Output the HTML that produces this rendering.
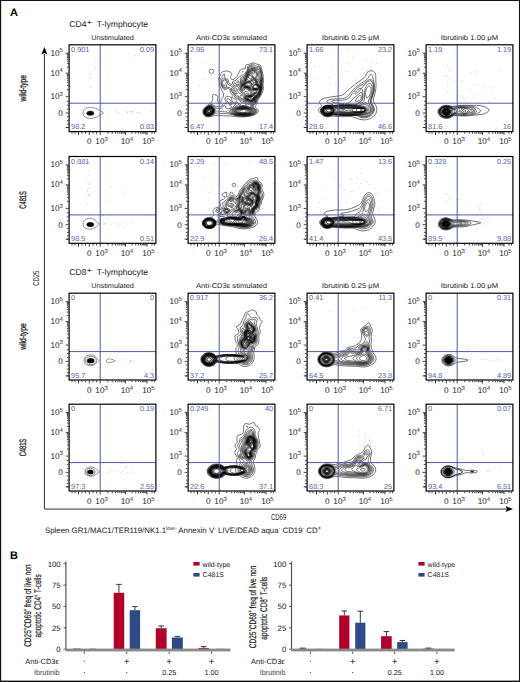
<!DOCTYPE html><html><head><meta charset="utf-8"><style>html,body{margin:0;padding:0;background:#fff;width:520px;height:682px;overflow:hidden}svg{display:block;text-rendering:geometricPrecision}</style></head><body><svg width="520" height="682" viewBox="0 0 520 682"><rect x="0" y="0" width="520" height="682" fill="#fff"/><rect x="0" y="0" width="1.15" height="682" fill="#111"/><rect x="0" y="0" width="520" height="1.0" fill="#111"/><rect x="518.95" y="0" width="1.05" height="682" fill="#111"/><rect x="0" y="680.6" width="520" height="1.4" fill="#111"/><text x="9.9" y="16.4" font-family="Liberation Sans" font-size="11" font-weight="bold" fill="#000">A</text><text x="10.1" y="559.3" font-family="Liberation Sans" font-size="11" font-weight="bold" fill="#000">B</text><text x="69.2" y="27.0" font-family="Liberation Sans" font-size="8.5" fill="#1a1a1a" textLength="17.3" lengthAdjust="spacingAndGlyphs">CD4</text><text x="87.0" y="24.6" font-family="Liberation Sans" font-size="8" fill="#1a1a1a">+</text><text x="96.8" y="27.0" font-family="Liberation Sans" font-size="8.5" fill="#1a1a1a" textLength="51.3" lengthAdjust="spacingAndGlyphs">T-lymphocyte</text><text x="69.2" y="275.0" font-family="Liberation Sans" font-size="8.5" fill="#1a1a1a" textLength="17.3" lengthAdjust="spacingAndGlyphs">CD8</text><text x="87.0" y="272.6" font-family="Liberation Sans" font-size="8" fill="#1a1a1a">+</text><text x="96.8" y="275.0" font-family="Liberation Sans" font-size="8.5" fill="#1a1a1a" textLength="51.3" lengthAdjust="spacingAndGlyphs">T-lymphocyte</text><text x="91.2" y="39.6" font-family="Liberation Sans" font-size="7" fill="#1a1a1a" textLength="42.6" lengthAdjust="spacingAndGlyphs">Unstimulated</text><text x="196" y="39.6" font-family="Liberation Sans" font-size="7" fill="#1a1a1a" textLength="71" lengthAdjust="spacingAndGlyphs">Anti-CD3ε stimulated</text><text x="321.85" y="39.6" font-family="Liberation Sans" font-size="7" fill="#1a1a1a" textLength="57.3" lengthAdjust="spacingAndGlyphs">Ibrutinib 0.25 μM</text><text x="440.85" y="39.6" font-family="Liberation Sans" font-size="7" fill="#1a1a1a" textLength="57.3" lengthAdjust="spacingAndGlyphs">Ibrutinib 1.00 μM</text><clipPath id="cp00"><rect x="0.6" y="0.6" width="86.8" height="86.8"/></clipPath><g transform="translate(68.5,44.2)"><g clip-path="url(#cp00)"><ellipse cx="21.8" cy="69.0" rx="3.9" ry="2.5" fill="#555"/><ellipse cx="21.8" cy="69.0" rx="3.3" ry="2.0" fill="#000"/><path d="M34.9,68.7 C29.095,64.3 25.225,63.2 22,63.2 C16.45,63.2 14.6,65.675 14.6,68.7 C14.6,71.72500000000001 16.45,74.2 22,74.2 C25.225,74.2 29.095,73.10000000000001 34.9,68.7 Z" fill="none" stroke="#222" stroke-width="0.5"/><circle cx="26.4" cy="18.8" r="0.4" fill="#999"/><circle cx="22.3" cy="33.0" r="0.4" fill="#999"/><circle cx="21.5" cy="29.4" r="0.4" fill="#999"/><circle cx="24.4" cy="23.4" r="0.4" fill="#999"/><circle cx="20.7" cy="31.6" r="0.4" fill="#999"/><circle cx="26.5" cy="24.8" r="0.4" fill="#999"/><circle cx="23.2" cy="43.2" r="0.4" fill="#999"/><circle cx="22.6" cy="25.9" r="0.4" fill="#999"/><circle cx="30.0" cy="17.8" r="0.4" fill="#999"/><circle cx="26.0" cy="14.0" r="0.4" fill="#999"/><circle cx="22.5" cy="42.0" r="0.4" fill="#999"/><circle cx="27.1" cy="22.8" r="0.4" fill="#999"/><circle cx="22.9" cy="30.6" r="0.4" fill="#999"/><circle cx="20.9" cy="34.4" r="0.4" fill="#999"/><circle cx="83.2" cy="67.4" r="0.4" fill="#999"/><circle cx="24.3" cy="68.7" r="0.4" fill="#999"/><circle cx="50.3" cy="69.9" r="0.4" fill="#999"/><circle cx="49.8" cy="68.5" r="0.4" fill="#999"/><circle cx="49.3" cy="67.7" r="0.4" fill="#999"/><circle cx="61.4" cy="67.4" r="0.4" fill="#999"/><circle cx="68.3" cy="68.5" r="0.4" fill="#999"/><circle cx="59.1" cy="68.1" r="0.4" fill="#999"/><circle cx="39.1" cy="69.9" r="0.4" fill="#999"/><circle cx="58.6" cy="69.5" r="0.4" fill="#999"/><circle cx="54.6" cy="70.6" r="0.4" fill="#999"/><circle cx="57.0" cy="67.7" r="0.4" fill="#999"/><circle cx="62.8" cy="68.8" r="0.4" fill="#999"/><circle cx="19.5" cy="68.4" r="0.4" fill="#999"/><circle cx="65.7" cy="69.1" r="0.4" fill="#999"/><circle cx="47.2" cy="67.5" r="0.4" fill="#999"/><circle cx="58.9" cy="67.6" r="0.4" fill="#999"/><circle cx="70.5" cy="68.3" r="0.4" fill="#999"/><circle cx="62.6" cy="67.1" r="0.4" fill="#999"/><circle cx="63.5" cy="67.2" r="0.4" fill="#999"/><circle cx="64.1" cy="67.4" r="0.4" fill="#999"/><circle cx="71.9" cy="68.9" r="0.4" fill="#999"/><circle cx="61.1" cy="66.6" r="0.4" fill="#999"/><circle cx="39.9" cy="30.9" r="0.4" fill="#999"/><circle cx="65.4" cy="17.5" r="0.4" fill="#999"/><circle cx="66.8" cy="11.1" r="0.4" fill="#999"/></g><line x1="31.7" y1="0.5" x2="31.7" y2="87.5" stroke="#4a5aa8" stroke-width="1"/><line x1="0.5" y1="59" x2="87.5" y2="59" stroke="#4a5aa8" stroke-width="1"/><rect x="0.6" y="0.6" width="86.8" height="86.8" fill="none" stroke="#000" stroke-width="1.2"/><path d="M0,9h-2.8M0,29h-2.8M0,52.5h-2.8M0,68.8h-2.8M0,83.3h-2.8M0,22.98h-1.6M0,19.46h-1.6M0,16.96h-1.6M0,15.02h-1.6M0,13.44h-1.6M0,12.1h-1.6M0,10.94h-1.6M0,9.92h-1.6M0,45.43h-1.6M0,41.29h-1.6M0,38.35h-1.6M0,36.07h-1.6M0,34.21h-1.6M0,32.64h-1.6M0,31.28h-1.6M0,30.08h-1.6M0,57h-1.6M0,61h-1.6M0,65h-1.6M0,72.5h-1.6M0,76.5h-1.6M0,80h-1.6M0,83.3h-1.6M20.8,88.0v2.8M31.7,88.0v2.8M57,88.0v2.8M78.5,88.0v2.8M10,88.0v2.8M39.32,88.0v1.6M43.77,88.0v1.6M46.93,88.0v1.6M49.38,88.0v1.6M51.39,88.0v1.6M53.08,88.0v1.6M54.55,88.0v1.6M55.84,88.0v1.6M63.47,88.0v1.6M67.26,88.0v1.6M69.94,88.0v1.6M72.03,88.0v1.6M73.73,88.0v1.6M75.17,88.0v1.6M76.42,88.0v1.6M77.52,88.0v1.6M24.5,88.0v1.6M28,88.0v1.6M17,88.0v1.6M13.5,88.0v1.6M10,88.0v1.6M6.5,88.0v1.6M3.5,88.0v1.6M83.5,88.0v1.6M86,88.0v1.6" stroke="#111" stroke-width="0.8" fill="none"/><text x="2.6" y="7.8" font-family="Liberation Sans" font-size="7.3" fill="#5565b0">0.901</text><text x="85.6" y="7.8" font-family="Liberation Sans" font-size="7.3" fill="#5565b0" text-anchor="end">0.09</text><text x="2.6" y="85.3" font-family="Liberation Sans" font-size="7.3" fill="#5565b0">98.2</text><text x="85.6" y="85.3" font-family="Liberation Sans" font-size="7.3" fill="#5565b0" text-anchor="end">0.83</text><text x="-9.0" y="11.6" font-family="Liberation Sans" font-size="8.2" fill="#1a1a1a" text-anchor="end">10</text><text x="-8.9" y="8.3" font-family="Liberation Sans" font-size="6" fill="#1a1a1a">5</text><text x="-9.0" y="31.6" font-family="Liberation Sans" font-size="8.2" fill="#1a1a1a" text-anchor="end">10</text><text x="-8.9" y="28.3" font-family="Liberation Sans" font-size="6" fill="#1a1a1a">4</text><text x="-9.0" y="55.1" font-family="Liberation Sans" font-size="8.2" fill="#1a1a1a" text-anchor="end">10</text><text x="-8.9" y="51.8" font-family="Liberation Sans" font-size="6" fill="#1a1a1a">3</text><text x="-5.8" y="71.7" font-family="Liberation Sans" font-size="8.2" fill="#1a1a1a" text-anchor="end">0</text><text x="20.8" y="100.3" font-family="Liberation Sans" font-size="8.2" fill="#1a1a1a" text-anchor="middle">0</text><text x="31.4" y="100.3" font-family="Liberation Sans" font-size="8.2" fill="#1a1a1a" text-anchor="middle">10</text><text x="36" y="97.1" font-family="Liberation Sans" font-size="6" fill="#1a1a1a">3</text><text x="56.7" y="100.3" font-family="Liberation Sans" font-size="8.2" fill="#1a1a1a" text-anchor="middle">10</text><text x="61.3" y="97.1" font-family="Liberation Sans" font-size="6" fill="#1a1a1a">4</text><text x="78.2" y="100.3" font-family="Liberation Sans" font-size="8.2" fill="#1a1a1a" text-anchor="middle">10</text><text x="82.8" y="97.1" font-family="Liberation Sans" font-size="6" fill="#1a1a1a">5</text></g><clipPath id="cp01"><rect x="0.6" y="0.6" width="86.8" height="86.8"/></clipPath><g transform="translate(187.5,44.2)"><g clip-path="url(#cp01)"><path transform="scale(0.1)" d="M645 188l10 -2 10 2 25 10 25 5 13 8 6 9 4 12 18 78 4 55 -5 40 4 33 -8 42 -22 42 -22 33 -5 10 -6 25 -16 25 -3 7 3 8 18 18 8 12 2 8 -1 7 -7 13 -18 13 -30 13 -34 8 -48 5 -60 0 -80 -9 -70 -2 -65 -5 -25 2 -42 11 -23 3 -23 -5 -14 -10 -10 -12 -4 -15 0 -17 4 -16 8 -12 12 -13 53 -39 12 -13 6 -13 4 -14 0 -16 -4 -20 3 -6 8 -2 25 4 13 7 4 7 3 10 0 8 -6 18 2 10 12 24 5 7 7 2 5 -6 4 -13 1 -27 4 -7 16 -18 5 -12 1 -13 -4 -20 -18 -33 -18 -40 -2 -12 0 -25 -7 -23 4 -17 18 -43 5 -7 9 -7 10 -5 32 -6 12 2 26 11 11 8 3 7 -1 10 -11 20 -1 7 3 11 5 7 5 3 10 0 13 -3 12 -8 23 -29 23 -48 7 -10 6 -5 9 -3 27 0 6 -2 4 -7 -1 -23 4 -9 7 -3 26 -2 27 -13zM649 200l6 -1 7 3 16 14 7 4 25 -4 8 2 6 7 10 27 11 50 5 48 -3 48 1 42 -12 48 -13 30 -28 39 -12 35 -8 10 -17 16 -2 4 2 6 24 20 9 12 2 8 0 7 -8 13 -20 13 -27 10 -36 7 -34 3 -38 -1 -38 -4 -87 -21 -55 -1 -45 -5 -15 1 -12 3 -38 20 -25 7 -23 -1 -12 -5 -8 -5 -8 -11 -4 -13 0 -15 4 -15 8 -13 10 -10 16 -11 22 -12 12 -5 13 -1 37 17 43 7 7 -2 8 -4 12 -21 8 -7 10 -1 23 6 0 -8 -17 -30 -3 -10 5 -16 4 -7 6 -4 10 -2 12 1 12 4 16 9 7 30 7 11 8 6 8 1 7 -1 15 -7 5 -5 0 -8 -8 -10 -37 -15 -5 -5 3 -20 -1 -7 -15 -21 -10 -30 -5 -9 -5 -3 -7 -1 -7 2 -20 12 -10 1 -13 -13 -17 -25 -5 -18 3 -30 -5 -25 4 -8 14 -17 9 -18 7 -3 8 3 1 6 -3 20 7 12 7 5 17 7 6 4 3 9 0 17 4 9 15 10 12 2 6 -5 3 -18 5 -8 6 -3 23 -6 13 -21 22 -14 18 -19 7 -3 15 1 8 -5 27 -42 4 -12 1 -20 3 -6 5 -3 41 -19zM554 270l4 3 -3 3 -3 0 -1 -4 3 -2zM500 370l-6 5 1 7 5 6 10 -1 6 -7 -1 -8 -5 -3 -10 1zM641 215l9 -2 5 0 18 15 12 5 7 1 18 -8 5 1 5 5 12 30 8 43 5 47 -2 40 1 50 -16 56 -10 20 -28 37 -13 35 -9 11 -23 17 -2 4 2 6 26 17 11 13 3 7 0 7 -6 13 -9 7 -12 8 -36 11 -40 6 -47 0 -35 -3 -32 -8 -73 -28 -50 -3 -43 -8 -14 5 -36 30 -22 12 -15 4 -15 0 -15 -4 -10 -7 -9 -12 -4 -13 1 -14 6 -16 9 -12 14 -12 18 -10 15 -5 13 -2 10 3 15 8 25 18 10 4 32 -3 12 -4 9 -7 9 -18 8 -3 7 5 6 18 9 10 10 3 10 0 10 -3 10 -5 8 -7 1 -8 -20 -14 -10 -23 -15 -23 0 -12 4 -4 4 -3 8 1 9 6 31 39 10 7 8 0 22 -8 12 -1 16 6 13 15 9 5 28 2 10 -2 4 -3 0 -10 -7 -10 -7 -3 -18 -1 -8 -3 -30 -25 -17 -18 -23 -12 -4 -8 -5 -23 -24 -27 -10 -28 -4 -7 -10 -5 -10 -1 -25 12 -12 0 -10 -7 -12 -16 -5 -13 0 -13 5 -20 1 -22 3 -6 8 -3 7 2 30 19 4 8 -1 20 2 8 38 21 10 0 7 -4 6 -10 5 -15 4 -3 22 14 13 2 10 -2 9 -9 5 -12 1 -12 -3 -20 4 -10 11 -11 20 -3 8 -6 30 -53 11 -35 9 -7 21 -8zM631 228l14 -3 10 2 25 13 10 4 8 -1 12 -5 8 4 6 10 4 13 14 87 -2 38 1 52 -18 60 -8 16 -27 33 -12 31 -4 8 -12 11 -30 19 0 2 4 6 26 15 12 9 7 13 -1 10 -9 13 -17 10 -24 9 -33 6 -35 2 -35 -1 -33 -5 -27 -7 -17 -8 -17 -9 -12 -10 -5 -10 2 -5 4 -5 46 -33 6 -14 7 -8 11 -4 10 1 7 3 17 15 18 4 43 -1 10 -3 2 -5 -7 -20 -6 -8 -9 -4 -23 -7 -30 -16 -8 -7 -14 -19 -18 -11 -16 -30 -22 -26 -4 -10 0 -12 3 -5 15 -9 17 -16 7 -1 28 4 8 -3 4 -4 8 -11 5 -13 6 -37 7 -7 17 -6 10 -10 30 -57 11 -27 6 -7 9 -3zM359 358l6 -3 7 2 10 6 6 7 1 8 -7 17 11 23 -6 10 -9 5 -10 0 -8 -6 -8 -9 -5 -13 1 -13 11 -34zM423 583l2 -3 5 2 9 8 5 10 -3 5 -6 1 -7 -4 -5 -9 0 -10zM220 618l10 -2 10 1 10 4 12 8 8 9 6 10 2 10 -1 7 -6 13 -7 10 -22 18 -12 6 -12 4 -13 0 -13 -2 -14 -8 -10 -11 -4 -15 2 -15 7 -15 12 -14 15 -10 20 -8zM632 238l13 -2 13 1 30 15 10 2 12 0 5 2 3 4 3 10 1 22 6 30 9 33 -2 35 3 48 -3 17 -16 50 -8 13 -26 30 -17 37 -8 8 -15 10 -13 4 -10 1 -7 -1 -6 -5 -12 -20 -7 -6 -22 -10 -20 -11 -18 -6 -8 -5 -15 -25 -17 -11 -6 -6 -13 -22 -17 -20 -2 -10 6 -10 22 -17 8 -2 6 1 16 10 8 -7 17 -25 18 -48 27 -28 40 -77 5 -6 7 -3zM362 402l6 3 4 6 2 7 -2 2 -4 0 -6 -5 -2 -7 2 -6zM508 445l-6 8 -2 9 1 8 4 7 13 12 12 9 12 5 8 -1 3 -4 -3 -8 -22 -15 -7 -10 -9 -18 -2 -3 -2 1zM494 615l38 8 68 0 15 3 33 15 13 9 10 12 0 13 -10 13 -16 9 -25 8 -28 5 -30 2 -32 -1 -30 -4 -25 -6 -19 -9 -14 -8 -8 -9 -3 -10 3 -7 10 -10 50 -33zM224 620l8 0 10 2 10 6 9 7 5 7 4 10 1 10 -3 10 -12 20 -18 14 -13 6 -13 2 -12 0 -10 -3 -12 -8 -8 -11 -4 -14 3 -16 8 -14 13 -13 15 -9 19 -6zM645 242l10 1 10 3 23 14 17 7 5 5 1 26 4 22 15 25 3 10 -2 35 4 50 -2 12 -12 40 -9 18 -30 35 -16 33 -5 7 -19 12 -15 3 -11 -5 -13 -17 -5 -6 -28 -12 -20 -16 -16 -4 -7 -5 -4 -10 2 -8 7 -3 16 3 7 -1 8 -6 4 -10 -2 -8 -6 -10 -21 -11 -8 -7 -5 -12 -2 -12 3 -12 38 -76 21 -27 18 -37 18 -30 9 -11 15 -5zM479 438l7 0 3 4 -4 32 -3 1 -10 -9 -7 -11 1 -5 3 -5 10 -7zM488 485l2 -2 2 2 6 9 -6 -1 -4 -8zM227 622l18 5 15 13 5 8 2 10 -3 17 -12 17 -20 15 -22 6 -20 -4 -12 -8 -7 -11 -3 -15 4 -15 10 -15 13 -11 15 -8 17 -4zM494 628l11 -2 83 2 22 2 28 11 15 9 9 10 3 12 -6 10 -14 10 -20 9 -23 5 -27 3 -30 0 -27 -2 -26 -5 -20 -7 -15 -7 -11 -10 -4 -10 3 -10 10 -10 25 -15 14 -5zM637 250l13 -2 12 3 30 19 6 8 7 52 3 5 14 10 7 13 -3 32 6 50 -2 12 -12 40 -8 16 -30 34 -20 36 -15 10 -13 4 -10 -3 -22 -21 -28 -13 -11 -13 -4 -10 2 -4 12 -16 4 -7 1 -7 -4 -20 3 -5 10 -2 10 1 5 4 10 17 10 7 8 -1 4 -6 1 -8 -3 -7 -8 -7 -17 -10 -12 -13 -8 -4 -7 0 -6 4 -10 19 -7 1 -10 -2 -7 -4 -5 -4 -4 -16 5 -17 17 -35 14 -20 8 -22 17 -24 16 -34 16 -27 8 -9 7 -4zM222 625l10 0 10 3 15 12 4 8 3 10 -3 17 -11 17 -18 13 -20 6 -20 -3 -10 -6 -8 -10 -4 -12 2 -15 6 -13 12 -12 18 -11 14 -4zM497 632l13 -1 62 -1 33 3 27 11 16 8 9 10 1 10 -6 10 -12 9 -18 7 -22 6 -25 2 -25 1 -25 -2 -25 -4 -20 -7 -15 -7 -10 -9 -4 -10 3 -10 8 -8 18 -11 17 -7zM640 255l12 -2 10 3 16 12 11 12 4 12 2 18 0 10 -5 15 1 5 7 7 20 5 5 8 -1 9 -4 21 7 25 4 25 -2 12 -8 20 -5 20 -6 13 -28 33 -23 34 -12 9 -13 3 -10 -4 -17 -15 -28 -13 -8 -10 -2 -10 23 -38 5 0 15 11 8 3 7 0 8 -3 5 -5 4 -8 1 -7 -2 -7 -10 -10 -39 -28 -10 -3 -10 2 -7 5 -10 13 -7 2 -5 -2 -5 -5 -3 -12 3 -12 14 -30 18 -26 8 -24 16 -23 16 -33 12 -20 10 -12 8 -5zM218 628l17 0 16 10 10 14 0 18 -9 18 -14 13 -20 8 -20 -1 -13 -5 -9 -11 -4 -12 1 -12 5 -13 11 -13 13 -9 16 -5zM516 635l56 -2 30 4 26 9 14 9 7 7 1 10 -6 10 -11 8 -18 7 -20 4 -25 3 -25 0 -23 -2 -22 -5 -19 -7 -12 -8 -7 -7 -2 -10 6 -10 16 -12 16 -6 18 -2zM641 260l11 -2 10 4 11 8 8 12 6 18 1 10 -1 8 -7 12 -1 8 4 7 7 6 23 11 1 8 -7 12 0 8 13 21 6 29 -1 10 -9 20 -4 20 -5 12 -29 34 -23 32 -10 7 -10 3 -10 -2 -18 -14 -27 -12 -7 -10 0 -8 2 -4 10 -13 10 -7 25 5 14 -3 11 -10 10 -18 3 -2 14 1 8 -2 8 -7 0 -6 -6 -4 -10 0 -10 3 -10 5 -4 0 -26 -14 -20 -16 -14 -6 -18 1 -8 4 -10 9 -4 2 -6 -3 -1 -7 1 -10 13 -30 21 -28 6 -24 15 -20 28 -52 7 -10 9 -6zM214 630l8 -2 10 1 16 7 10 14 2 18 -8 17 -14 14 -18 8 -18 1 -12 -4 -11 -9 -6 -13 0 -12 5 -12 10 -13 12 -9 14 -6zM537 638l41 -2 27 5 21 9 12 7 5 8 1 7 -8 10 -11 8 -17 6 -20 4 -23 2 -25 -1 -22 -3 -20 -5 -18 -8 -9 -7 -4 -8 3 -10 10 -10 15 -8 15 -3 27 -1zM647 262l8 1 8 5 6 7 2 7 -1 6 -15 3 -7 5 -4 6 1 8 7 10 16 10 11 18 23 20 -3 22 19 24 4 16 2 12 -4 13 -8 15 -2 20 -6 12 -26 31 -23 31 -10 8 -13 3 -7 -3 -18 -12 -25 -12 -6 -10 3 -10 9 -10 7 -5 27 3 14 -4 7 -5 17 -18 20 -5 11 -6 5 -8 0 -5 -7 -5 -9 -2 -32 3 -8 -2 -15 -6 -23 -16 -12 -5 -20 0 -20 8 -3 -5 3 -15 8 -20 22 -28 2 -17 3 -7 14 -18 16 -30 17 -28 8 -7 7 -3zM218 630l17 1 15 9 8 15 0 15 -9 18 -14 12 -17 7 -20 -1 -10 -4 -10 -10 -4 -12 1 -12 5 -13 10 -11 15 -10 13 -4zM536 640l36 -2 28 4 19 8 12 8 6 7 1 7 -5 8 -11 8 -14 5 -20 5 -43 1 -20 -2 -21 -5 -16 -7 -11 -7 -4 -8 3 -10 9 -9 13 -6 14 -3 24 -2zM644 270l8 -1 6 6 -3 5 -15 8 -5 4 0 10 3 10 8 10 16 13 31 30 3 7 -3 16 1 4 17 18 7 12 3 16 -1 10 -5 9 -7 5 -23 -7 -50 -3 -40 -21 -15 -3 -20 1 -5 -4 1 -13 5 -12 19 -20 5 -8 2 -17 3 -7 10 -13 15 -26 17 -19 6 -13 6 -7zM697 480l5 -2 4 4 0 8 -4 10 -29 35 -17 25 -11 9 -10 2 -7 -1 -20 -13 -20 -9 -5 -6 -2 -4 1 -8 10 -11 8 -2 22 2 10 -2 13 -7 17 -15 20 -7 15 -8zM212 632l18 -1 15 7 7 7 4 7 1 16 -5 14 -14 15 -18 8 -18 1 -12 -4 -9 -7 -5 -10 -1 -13 4 -12 6 -10 13 -10 14 -8zM539 642l33 -1 26 4 17 7 11 8 4 5 1 7 -5 8 -8 6 -16 6 -17 3 -40 2 -20 -2 -19 -5 -16 -8 -8 -7 -2 -7 3 -8 8 -8 11 -5 37 -5zM620 313l5 -3 5 3 12 14 18 13 29 28 2 7 -2 13 1 4 20 20 6 16 1 17 -2 6 -5 4 -5 1 -40 -4 -33 -7 -34 -16 -33 -5 -5 -4 0 -8 3 -10 5 -7 20 -20 4 -7 1 -13 5 -7 3 0 2 12 7 5 15 2 5 -1 3 -4 1 -7 -4 -8 -7 -5 -13 -4 2 -14 8 -11zM693 488l8 0 1 4 -3 8 -44 57 -10 9 -10 3 -10 -3 -33 -19 -7 -7 -1 -5 2 -5 9 -8 7 -1 20 1 10 -2 13 -6 20 -16 28 -10zM216 632l16 1 14 7 9 12 1 16 -5 14 -13 14 -18 8 -18 1 -12 -4 -9 -9 -5 -10 0 -12 5 -12 9 -12 12 -9 14 -5zM541 645l29 -2 25 4 24 13 4 5 1 7 -5 8 -8 5 -14 5 -17 3 -38 1 -32 -6 -12 -6 -9 -7 -2 -7 3 -8 5 -5 10 -5 36 -5zM637 338l5 -1 13 6 23 16 7 8 2 8 -3 13 1 4 21 20 7 13 2 15 -5 10 -8 2 -37 -3 -23 -10 -17 -1 -25 -10 -30 -6 -6 -4 -1 -8 5 -10 30 -27 7 -2 25 1 8 -3 3 -11 -4 -20zM682 498l8 -2 2 2 -2 7 -35 49 -13 11 -10 1 -7 -2 -30 -19 -5 -5 0 -8 8 -6 34 -4 16 -7 20 -13 14 -4zM222 632l16 3 12 10 6 15 -3 15 -9 15 -14 10 -15 5 -17 -1 -12 -6 -7 -10 -3 -10 2 -13 7 -13 10 -9 13 -7 14 -4zM546 648l24 -2 22 4 20 12 3 6 1 4 -4 6 -10 6 -24 7 -36 0 -29 -6 -10 -5 -8 -8 0 -7 3 -5 14 -8 34 -4zM651 352l4 -1 7 3 10 6 8 8 2 7 -5 15 0 2 23 18 7 8 5 17 -2 7 -2 4 -13 2 -27 -1 -15 -7 -11 -15 -12 7 -8 1 -27 -9 -20 -5 -7 -4 0 -7 4 -8 26 -22 12 -3 25 4 7 -1 9 -26zM652 390l-4 5 2 10 5 -2 7 -8 -2 -4 -8 -1zM668 508l7 -2 5 2 -2 7 -25 37 -11 10 -7 2 -10 -3 -29 -21 -1 -5 5 -5 38 -7 30 -15zM213 635l15 -1 15 6 10 12 1 16 -5 14 -14 14 -17 7 -16 1 -10 -4 -9 -8 -5 -10 0 -12 3 -10 9 -11 10 -8 13 -6zM559 650l13 0 10 2 8 3 10 7 3 6 0 4 -4 6 -8 4 -26 5 -27 -1 -22 -6 -8 -5 -3 -5 2 -8 8 -4 44 -8zM655 360l7 -1 11 6 5 7 -3 9 -7 3 -13 -5 -3 -9 3 -10zM601 380l9 -2 10 1 12 3 7 6 3 10 -1 12 -5 10 -7 8 -7 1 -7 -1 -37 -11 -6 -5 -1 -4 4 -8 26 -20zM668 400l7 -2 7 3 13 7 7 7 7 15 -1 8 -2 4 -11 4 -20 1 -13 -3 -7 -6 -5 -10 1 -10 7 -10 10 -8zM663 515l5 -1 3 1 -2 7 -17 29 -12 10 -8 1 -7 -3 -24 -19 0 -5 4 -3 30 -6 28 -11zM216 635l16 1 13 7 8 12 0 15 -7 15 -11 10 -15 7 -18 1 -10 -3 -8 -8 -5 -10 0 -12 5 -12 8 -10 13 -9 11 -4zM558 655l17 0 12 7 3 6 -1 4 -9 7 -18 3 -20 -1 -14 -3 -9 -8 3 -5 5 -3 31 -7zM604 382l8 -1 10 2 8 3 5 6 2 8 -1 10 -4 8 -7 6 -7 1 -8 -1 -26 -9 -7 -5 0 -5 6 -7 12 -11 9 -5zM668 405l12 -2 18 10 5 7 2 8 0 7 -3 5 -10 4 -14 1 -10 -2 -9 -5 -4 -8 0 -10 4 -8 9 -7zM649 525l9 0 2 3 -1 4 -9 18 -10 8 -8 1 -7 -3 -15 -14 -1 -4 3 -3 37 -10zM210 638l15 -3 15 5 9 10 4 15 -5 15 -10 12 -16 9 -14 2 -10 -2 -11 -6 -6 -10 -2 -10 3 -13 6 -10 10 -8 12 -6zM607 390l12 0 4 2 4 6 0 10 -7 8 -12 0 -9 -4 -6 -4 0 -6 3 -4 11 -8zM670 412l10 -2 11 5 7 10 0 5 -3 5 -5 3 -10 2 -8 -1 -6 -4 -4 -5 0 -8 8 -10zM631 538l7 -2 6 2 1 4 -3 6 -7 3 -7 -3 -3 -6 6 -4zM210 640l15 -2 13 4 9 10 3 13 -3 13 -9 12 -13 8 -15 3 -10 -2 -10 -5 -7 -9 -2 -10 2 -10 6 -10 9 -8 12 -7zM220 642l12 3 9 7 4 10 -2 13 -7 10 -11 8 -13 3 -12 -1 -8 -5 -4 -7 -2 -8 2 -10 4 -8 8 -7 10 -5 10 -3zM209 648l13 -3 10 3 7 7 3 10 -2 10 -7 10 -11 7 -10 2 -10 -1 -7 -5 -4 -6 -2 -7 1 -7 4 -8 6 -7 9 -5zM218 650l10 2 7 6 2 7 -1 7 -4 8 -10 7 -10 3 -7 -1 -6 -4 -4 -5 0 -12 4 -8 6 -5 13 -5zM211 655l7 -2 7 1 5 4 4 7 -1 7 -3 6 -8 6 -7 2 -7 0 -6 -3 -5 -8 3 -11 11 -9zM216 655l6 0 6 3 3 4 1 8 -7 11 -7 3 -8 1 -9 -5 -2 -10 6 -10 11 -5zM211 662l9 -1 5 3 0 8 -5 6 -8 2 -6 -5 0 -7 5 -6z" fill="none" stroke="#000" stroke-width="5.5" stroke-linejoin="round"/><circle cx="45.5" cy="52.4" r="0.4" fill="#999"/><circle cx="30.8" cy="25.8" r="0.4" fill="#999"/><circle cx="16.9" cy="35.4" r="0.4" fill="#999"/><circle cx="17.7" cy="17.8" r="0.4" fill="#999"/><circle cx="32.4" cy="36.6" r="0.4" fill="#999"/><circle cx="36.6" cy="24.0" r="0.4" fill="#999"/><circle cx="30.1" cy="34.2" r="0.4" fill="#999"/><circle cx="11.9" cy="41.5" r="0.4" fill="#999"/><circle cx="33.8" cy="63.7" r="0.4" fill="#999"/><circle cx="32.4" cy="33.3" r="0.4" fill="#999"/><circle cx="44.8" cy="37.4" r="0.4" fill="#999"/><circle cx="40.9" cy="30.6" r="0.4" fill="#999"/><g transform="translate(-2.5,-4.3) scale(0.182692)"><ellipse cx="145" cy="172" rx="13" ry="12" fill="none" stroke="#000" stroke-width="2.6"/></g></g><line x1="31.7" y1="0.5" x2="31.7" y2="87.5" stroke="#4a5aa8" stroke-width="1"/><line x1="0.5" y1="59" x2="87.5" y2="59" stroke="#4a5aa8" stroke-width="1"/><rect x="0.6" y="0.6" width="86.8" height="86.8" fill="none" stroke="#000" stroke-width="1.2"/><path d="M0,9h-2.8M0,29h-2.8M0,52.5h-2.8M0,68.8h-2.8M0,83.3h-2.8M0,22.98h-1.6M0,19.46h-1.6M0,16.96h-1.6M0,15.02h-1.6M0,13.44h-1.6M0,12.1h-1.6M0,10.94h-1.6M0,9.92h-1.6M0,45.43h-1.6M0,41.29h-1.6M0,38.35h-1.6M0,36.07h-1.6M0,34.21h-1.6M0,32.64h-1.6M0,31.28h-1.6M0,30.08h-1.6M0,57h-1.6M0,61h-1.6M0,65h-1.6M0,72.5h-1.6M0,76.5h-1.6M0,80h-1.6M0,83.3h-1.6M20.8,88.0v2.8M31.7,88.0v2.8M57,88.0v2.8M78.5,88.0v2.8M10,88.0v2.8M39.32,88.0v1.6M43.77,88.0v1.6M46.93,88.0v1.6M49.38,88.0v1.6M51.39,88.0v1.6M53.08,88.0v1.6M54.55,88.0v1.6M55.84,88.0v1.6M63.47,88.0v1.6M67.26,88.0v1.6M69.94,88.0v1.6M72.03,88.0v1.6M73.73,88.0v1.6M75.17,88.0v1.6M76.42,88.0v1.6M77.52,88.0v1.6M24.5,88.0v1.6M28,88.0v1.6M17,88.0v1.6M13.5,88.0v1.6M10,88.0v1.6M6.5,88.0v1.6M3.5,88.0v1.6M83.5,88.0v1.6M86,88.0v1.6" stroke="#111" stroke-width="0.8" fill="none"/><text x="2.6" y="7.8" font-family="Liberation Sans" font-size="7.3" fill="#5565b0">2.95</text><text x="85.6" y="7.8" font-family="Liberation Sans" font-size="7.3" fill="#5565b0" text-anchor="end">73.1</text><text x="2.6" y="85.3" font-family="Liberation Sans" font-size="7.3" fill="#5565b0">6.47</text><text x="85.6" y="85.3" font-family="Liberation Sans" font-size="7.3" fill="#5565b0" text-anchor="end">17.4</text><text x="-9.0" y="11.6" font-family="Liberation Sans" font-size="8.2" fill="#1a1a1a" text-anchor="end">10</text><text x="-8.9" y="8.3" font-family="Liberation Sans" font-size="6" fill="#1a1a1a">5</text><text x="-9.0" y="31.6" font-family="Liberation Sans" font-size="8.2" fill="#1a1a1a" text-anchor="end">10</text><text x="-8.9" y="28.3" font-family="Liberation Sans" font-size="6" fill="#1a1a1a">4</text><text x="-9.0" y="55.1" font-family="Liberation Sans" font-size="8.2" fill="#1a1a1a" text-anchor="end">10</text><text x="-8.9" y="51.8" font-family="Liberation Sans" font-size="6" fill="#1a1a1a">3</text><text x="-5.8" y="71.7" font-family="Liberation Sans" font-size="8.2" fill="#1a1a1a" text-anchor="end">0</text><text x="20.8" y="100.3" font-family="Liberation Sans" font-size="8.2" fill="#1a1a1a" text-anchor="middle">0</text><text x="31.4" y="100.3" font-family="Liberation Sans" font-size="8.2" fill="#1a1a1a" text-anchor="middle">10</text><text x="36" y="97.1" font-family="Liberation Sans" font-size="6" fill="#1a1a1a">3</text><text x="56.7" y="100.3" font-family="Liberation Sans" font-size="8.2" fill="#1a1a1a" text-anchor="middle">10</text><text x="61.3" y="97.1" font-family="Liberation Sans" font-size="6" fill="#1a1a1a">4</text><text x="78.2" y="100.3" font-family="Liberation Sans" font-size="8.2" fill="#1a1a1a" text-anchor="middle">10</text><text x="82.8" y="97.1" font-family="Liberation Sans" font-size="6" fill="#1a1a1a">5</text></g><clipPath id="cp02"><rect x="0.6" y="0.6" width="86.8" height="86.8"/></clipPath><g transform="translate(306.5,44.2)"><g clip-path="url(#cp02)"><path transform="scale(0.1)" d="M637 265l21 1 10 4 10 7 10 15 5 23 0 37 3 56 -2 34 -6 36 -18 64 -2 18 4 18 17 24 9 20 5 20 1 18 -4 18 -10 20 -11 14 -16 16 -18 11 -23 10 -22 6 -25 2 -20 -2 -23 -4 -64 -23 -20 -4 -123 0 -63 -5 -37 7 -23 0 -22 -5 -20 -10 -12 -11 -24 -28 -6 -10 2 -10 5 -7 22 -20 5 -7 -1 -6 -15 -20 -5 -10 1 -12 8 -10 22 -13 36 -11 42 -8 92 -12 18 -5 14 -6 17 -13 55 -50 46 -38 95 -69 11 -13 14 -30 8 -11 12 -11 15 -5zM638 302l7 -1 5 2 8 12 18 70 4 37 -1 28 -5 30 -23 72 -2 18 3 17 21 41 6 20 1 12 -4 12 -7 13 -11 16 -13 12 -17 11 -18 7 -20 4 -18 1 -27 -4 -37 -15 -23 -4 -123 1 -97 -7 -37 11 -28 1 -15 -3 -13 -5 -11 -9 -10 -10 -10 -17 -2 -10 0 -7 7 -16 16 -16 18 -10 15 -5 20 -2 35 2 14 -3 2 -3 -36 -11 -18 -9 -6 -5 -2 -5 1 -5 4 -5 16 -8 25 -7 35 -3 75 -3 20 -5 18 -8 16 -13 42 -50 39 -39 33 -25 54 -35 24 -19 13 -15 12 -25 7 -8zM535 512l-14 10 -18 20 -11 18 -2 8 0 4 8 2 20 -6 15 -8 8 -7 6 -15 1 -16 -5 -10 -8 0zM631 352l9 -1 8 3 12 15 10 28 4 33 -2 28 -5 27 -8 27 -16 43 -3 17 4 18 15 28 10 24 2 10 0 10 -3 10 -8 12 -12 15 -13 11 -13 7 -14 6 -28 5 -25 -3 -33 -11 -20 -3 -140 1 -92 -7 -12 1 -30 10 -20 2 -16 -2 -14 -5 -16 -10 -10 -11 -9 -20 -1 -8 2 -10 5 -10 9 -9 22 -14 15 -5 15 -2 47 3 120 -17 -35 -6 -67 -7 -21 -7 -2 -3 1 -5 9 -5 23 -4 65 0 22 -2 23 -6 20 -9 17 -14 34 -50 36 -38 25 -20 41 -24 44 -35 19 -11zM540 484l-68 56 -38 38 -22 12 -26 8 55 7 47 0 12 -5 15 -12 23 -16 10 -8 5 -9 5 -13 1 -14 -1 -23 -3 -15 -5 -7 -5 0 -5 1zM627 368l8 -2 7 1 8 5 6 8 10 25 3 30 -2 25 -5 28 -8 24 -17 43 -3 17 4 18 26 55 2 15 -3 10 -6 10 -15 16 -12 10 -22 11 -28 5 -20 -2 -28 -8 -22 -3 -140 2 -102 -8 -12 2 -26 10 -22 2 -18 -3 -15 -6 -12 -8 -9 -10 -7 -12 -3 -10 0 -10 4 -10 8 -10 9 -9 13 -8 14 -5 23 -3 40 4 65 -8 52 -4 110 3 16 -1 11 -5 40 -30 7 -7 5 -10 4 -13 1 -17 -4 -55 -4 -17 -8 -8 -2 1 -29 32 -19 14 -10 5 -5 -1 -1 -4 2 -7 13 -17 19 -17 17 -9 15 -1 44 -51 19 -15 14 -7zM622 395l13 -2 7 4 6 6 7 18 3 24 -2 25 -6 25 -10 25 -19 38 -3 14 4 18 29 52 4 10 0 8 -2 8 -6 10 -24 19 -23 10 -22 3 -66 -5 -144 3 -100 -8 -12 2 -26 10 -22 2 -18 -2 -12 -5 -14 -9 -10 -13 -5 -10 -1 -10 1 -10 5 -10 16 -16 10 -6 15 -5 20 -2 43 5 60 -8 62 -3 115 2 22 -2 13 -5 33 -25 8 -8 6 -10 3 -17 0 -63 5 -34 6 -18 8 -15 11 -12 12 -8zM620 420l8 -2 4 1 8 9 5 17 0 23 -5 22 -10 23 -12 17 -8 6 -5 0 -7 -6 -4 -12 -3 -20 2 -23 4 -20 5 -14 8 -12 10 -9zM582 585l13 -2 10 8 37 51 6 16 -4 12 -12 12 -20 12 -22 7 -22 2 -56 0 -124 3 -58 -2 -62 -6 -11 2 -29 11 -23 1 -17 -3 -18 -9 -13 -15 -6 -15 0 -15 9 -15 18 -13 20 -7 20 -2 42 5 60 -7 62 -4 103 3 30 -1 23 -4 44 -25zM577 602l13 0 12 6 30 32 8 15 -2 13 -11 12 -19 11 -23 6 -25 2 -165 5 -63 -2 -62 -6 -12 2 -30 11 -23 2 -20 -5 -15 -8 -11 -13 -6 -15 1 -15 9 -15 15 -11 22 -8 20 -1 40 5 58 -7 54 -4 146 3 30 -4 29 -11zM352 620l53 -1 95 4 80 0 18 5 15 10 11 12 2 10 -5 10 -13 10 -20 8 -26 4 -114 7 -56 1 -57 -2 -63 -7 -10 2 -37 13 -25 1 -15 -5 -12 -7 -9 -10 -6 -13 -1 -12 3 -10 8 -10 12 -9 12 -5 16 -3 17 1 40 6 87 -10zM343 625l65 -2 162 6 18 4 14 8 10 9 2 10 -6 10 -11 8 -17 6 -25 4 -115 7 -48 1 -57 -3 -60 -7 -10 2 -37 15 -13 2 -13 -1 -14 -4 -13 -7 -9 -11 -5 -10 -1 -10 2 -10 7 -10 11 -8 15 -6 15 -2 18 1 42 8 73 -10zM210 628l22 1 40 11 60 -10 46 -3 180 5 19 4 15 6 10 8 2 10 -4 8 -12 8 -18 6 -20 3 -115 6 -47 1 -53 -3 -57 -8 -46 18 -14 3 -13 1 -17 -5 -13 -8 -10 -12 -3 -16 4 -12 12 -12 14 -7 18 -3zM200 630l15 -1 17 1 46 16 52 -11 42 -4 180 4 18 3 15 4 10 8 3 8 -3 7 -9 7 -16 6 -20 4 -170 5 -55 -4 -43 -9 -7 3 -20 11 -17 8 -16 4 -14 1 -18 -3 -12 -8 -9 -10 -5 -12 2 -13 6 -11 13 -9 15 -5zM205 630l20 0 20 5 17 7 23 15 16 -9 27 -8 32 -4 30 -1 75 3 91 0 14 2 13 5 6 5 4 8 -1 4 -5 6 -14 7 -21 4 -24 2 -63 0 -67 2 -38 -1 -47 -7 -28 -12 -19 17 -16 10 -22 8 -20 2 -16 -3 -14 -8 -10 -11 -3 -13 3 -13 8 -10 14 -8 15 -4zM209 630l26 2 26 10 10 8 5 8 1 7 -3 5 -16 15 -16 8 -14 5 -23 2 -10 -2 -11 -6 -10 -7 -6 -10 -2 -10 1 -10 7 -10 8 -7 13 -5 14 -3zM353 640l37 -2 68 3 64 -3 28 0 15 2 14 5 7 5 4 8 -3 7 -9 6 -16 5 -17 3 -33 0 -67 -3 -83 1 -20 -2 -22 -5 -10 -5 -4 -5 4 -8 10 -4 33 -8zM215 630l25 4 24 11 11 13 0 7 -3 7 -7 8 -12 8 -28 10 -13 2 -12 -1 -20 -9 -7 -8 -6 -10 -1 -10 3 -10 8 -10 11 -6 12 -4 15 -2zM502 640l53 -1 16 3 11 6 5 4 1 6 -3 7 -13 8 -22 5 -32 0 -40 -3 -24 -5 -26 -11 -10 1 -36 8 -27 1 -21 -4 -5 -3 -3 -4 2 -6 10 -4 25 -6 35 0 40 5 64 -7zM197 632l13 -2 15 1 27 8 11 6 8 7 3 8 0 8 -5 7 -8 7 -26 13 -25 5 -21 -5 -11 -7 -7 -8 -4 -8 -1 -10 3 -10 6 -7 10 -8 12 -5zM510 640l32 -1 26 3 16 8 3 5 0 5 -3 5 -7 5 -12 4 -15 3 -40 1 -35 -6 -13 -4 -5 -6 -2 -7 3 -5 15 -5 37 -5zM363 648l17 -1 3 1 1 2 -14 5 -12 0 -6 -3 11 -4zM201 632l14 -1 15 1 15 5 12 5 9 8 4 8 0 7 -2 7 -6 8 -10 7 -24 10 -23 1 -20 -7 -10 -8 -5 -8 -2 -8 0 -9 4 -9 8 -7 10 -6 11 -4zM538 642l17 1 15 4 8 5 1 8 -7 8 -20 5 -22 1 -22 -4 -10 -8 -1 -4 1 -6 8 -4 8 -3 24 -3zM198 635l12 -2 15 0 25 8 9 7 6 7 1 10 -2 7 -12 13 -24 10 -23 1 -17 -6 -8 -5 -7 -7 -3 -9 0 -9 3 -8 6 -7 19 -10zM537 655l13 -2 7 2 2 3 -1 2 -6 2 -10 1 -6 -3 -1 -2 2 -3zM205 635l25 1 12 3 11 6 7 7 3 8 -1 10 -4 8 -16 10 -22 6 -20 -1 -18 -9 -6 -6 -3 -8 -1 -8 2 -7 11 -13 20 -7zM207 640l22 0 18 8 5 4 3 8 0 8 -3 7 -12 9 -18 4 -17 -1 -16 -7 -8 -10 -1 -5 1 -7 9 -11 17 -7zM209 640l21 1 10 3 8 5 5 6 2 7 -1 8 -4 6 -12 8 -18 4 -19 -3 -13 -7 -7 -10 0 -8 2 -5 11 -10 15 -5zM210 648l15 -2 14 4 8 10 0 5 -2 6 -7 7 -10 2 -13 -1 -13 -7 -5 -4 -2 -8 5 -8 10 -4zM216 648l13 0 11 4 6 10 -4 10 -7 5 -10 2 -10 -3 -11 -6 -4 -5 0 -7 5 -6 11 -4z" fill="none" stroke="#000" stroke-width="5.5" stroke-linejoin="round"/><circle cx="52.1" cy="37.1" r="0.4" fill="#999"/><circle cx="60.0" cy="15.4" r="0.4" fill="#999"/><circle cx="37.5" cy="24.5" r="0.4" fill="#999"/><circle cx="25.7" cy="23.2" r="0.4" fill="#999"/><circle cx="35.8" cy="31.0" r="0.4" fill="#999"/><circle cx="28.7" cy="40.9" r="0.4" fill="#999"/><circle cx="66.4" cy="29.5" r="0.4" fill="#999"/><circle cx="31.6" cy="38.8" r="0.4" fill="#999"/><circle cx="49.1" cy="35.7" r="0.4" fill="#999"/><circle cx="29.6" cy="37.7" r="0.4" fill="#999"/><circle cx="17.3" cy="55.2" r="0.4" fill="#999"/><circle cx="22.2" cy="32.1" r="0.4" fill="#999"/><circle cx="45.3" cy="38.1" r="0.4" fill="#999"/><circle cx="40.6" cy="41.8" r="0.4" fill="#999"/><circle cx="39.8" cy="27.1" r="0.4" fill="#999"/><circle cx="70.2" cy="19.5" r="0.4" fill="#999"/><circle cx="41.2" cy="4.7" r="0.4" fill="#999"/><circle cx="47.6" cy="10.4" r="0.4" fill="#999"/><circle cx="14.3" cy="66.3" r="0.4" fill="#999"/><circle cx="55.4" cy="33.0" r="0.4" fill="#999"/><circle cx="45.7" cy="12.8" r="0.4" fill="#999"/><circle cx="23.5" cy="39.1" r="0.4" fill="#999"/><circle cx="4.1" cy="37.0" r="0.4" fill="#999"/><circle cx="11.0" cy="34.9" r="0.4" fill="#999"/><circle cx="22.4" cy="58.0" r="0.4" fill="#999"/><circle cx="61.2" cy="25.8" r="0.4" fill="#999"/><circle cx="8.1" cy="22.0" r="0.4" fill="#999"/><circle cx="41.6" cy="19.1" r="0.4" fill="#999"/><circle cx="47.8" cy="47.2" r="0.4" fill="#999"/><circle cx="41.6" cy="27.0" r="0.4" fill="#999"/><circle cx="56.9" cy="29.0" r="0.4" fill="#999"/><circle cx="58.2" cy="28.6" r="0.4" fill="#999"/><circle cx="72.2" cy="29.2" r="0.4" fill="#999"/><circle cx="23.3" cy="34.5" r="0.4" fill="#999"/><circle cx="31.1" cy="19.8" r="0.4" fill="#999"/><circle cx="40.3" cy="43.8" r="0.4" fill="#999"/><circle cx="3.1" cy="32.6" r="0.4" fill="#999"/><circle cx="57.7" cy="27.8" r="0.4" fill="#999"/><circle cx="65.5" cy="18.4" r="0.4" fill="#999"/><circle cx="64.4" cy="27.1" r="0.4" fill="#999"/><circle cx="59.9" cy="27.2" r="0.4" fill="#999"/><circle cx="56.3" cy="24.8" r="0.4" fill="#999"/><circle cx="62.4" cy="46.2" r="0.4" fill="#999"/><circle cx="67.6" cy="36.0" r="0.4" fill="#999"/><circle cx="63.6" cy="25.2" r="0.4" fill="#999"/><circle cx="64.1" cy="46.0" r="0.4" fill="#999"/><circle cx="48.8" cy="35.9" r="0.4" fill="#999"/></g><line x1="31.7" y1="0.5" x2="31.7" y2="87.5" stroke="#4a5aa8" stroke-width="1"/><line x1="0.5" y1="59" x2="87.5" y2="59" stroke="#4a5aa8" stroke-width="1"/><rect x="0.6" y="0.6" width="86.8" height="86.8" fill="none" stroke="#000" stroke-width="1.2"/><path d="M0,9h-2.8M0,29h-2.8M0,52.5h-2.8M0,68.8h-2.8M0,83.3h-2.8M0,22.98h-1.6M0,19.46h-1.6M0,16.96h-1.6M0,15.02h-1.6M0,13.44h-1.6M0,12.1h-1.6M0,10.94h-1.6M0,9.92h-1.6M0,45.43h-1.6M0,41.29h-1.6M0,38.35h-1.6M0,36.07h-1.6M0,34.21h-1.6M0,32.64h-1.6M0,31.28h-1.6M0,30.08h-1.6M0,57h-1.6M0,61h-1.6M0,65h-1.6M0,72.5h-1.6M0,76.5h-1.6M0,80h-1.6M0,83.3h-1.6M20.8,88.0v2.8M31.7,88.0v2.8M57,88.0v2.8M78.5,88.0v2.8M10,88.0v2.8M39.32,88.0v1.6M43.77,88.0v1.6M46.93,88.0v1.6M49.38,88.0v1.6M51.39,88.0v1.6M53.08,88.0v1.6M54.55,88.0v1.6M55.84,88.0v1.6M63.47,88.0v1.6M67.26,88.0v1.6M69.94,88.0v1.6M72.03,88.0v1.6M73.73,88.0v1.6M75.17,88.0v1.6M76.42,88.0v1.6M77.52,88.0v1.6M24.5,88.0v1.6M28,88.0v1.6M17,88.0v1.6M13.5,88.0v1.6M10,88.0v1.6M6.5,88.0v1.6M3.5,88.0v1.6M83.5,88.0v1.6M86,88.0v1.6" stroke="#111" stroke-width="0.8" fill="none"/><text x="2.6" y="7.8" font-family="Liberation Sans" font-size="7.3" fill="#5565b0">1.66</text><text x="85.6" y="7.8" font-family="Liberation Sans" font-size="7.3" fill="#5565b0" text-anchor="end">23.2</text><text x="2.6" y="85.3" font-family="Liberation Sans" font-size="7.3" fill="#5565b0">28.6</text><text x="85.6" y="85.3" font-family="Liberation Sans" font-size="7.3" fill="#5565b0" text-anchor="end">46.6</text><text x="-9.0" y="11.6" font-family="Liberation Sans" font-size="8.2" fill="#1a1a1a" text-anchor="end">10</text><text x="-8.9" y="8.3" font-family="Liberation Sans" font-size="6" fill="#1a1a1a">5</text><text x="-9.0" y="31.6" font-family="Liberation Sans" font-size="8.2" fill="#1a1a1a" text-anchor="end">10</text><text x="-8.9" y="28.3" font-family="Liberation Sans" font-size="6" fill="#1a1a1a">4</text><text x="-9.0" y="55.1" font-family="Liberation Sans" font-size="8.2" fill="#1a1a1a" text-anchor="end">10</text><text x="-8.9" y="51.8" font-family="Liberation Sans" font-size="6" fill="#1a1a1a">3</text><text x="-5.8" y="71.7" font-family="Liberation Sans" font-size="8.2" fill="#1a1a1a" text-anchor="end">0</text><text x="20.8" y="100.3" font-family="Liberation Sans" font-size="8.2" fill="#1a1a1a" text-anchor="middle">0</text><text x="31.4" y="100.3" font-family="Liberation Sans" font-size="8.2" fill="#1a1a1a" text-anchor="middle">10</text><text x="36" y="97.1" font-family="Liberation Sans" font-size="6" fill="#1a1a1a">3</text><text x="56.7" y="100.3" font-family="Liberation Sans" font-size="8.2" fill="#1a1a1a" text-anchor="middle">10</text><text x="61.3" y="97.1" font-family="Liberation Sans" font-size="6" fill="#1a1a1a">4</text><text x="78.2" y="100.3" font-family="Liberation Sans" font-size="8.2" fill="#1a1a1a" text-anchor="middle">10</text><text x="82.8" y="97.1" font-family="Liberation Sans" font-size="6" fill="#1a1a1a">5</text></g><clipPath id="cp03"><rect x="0.6" y="0.6" width="86.8" height="86.8"/></clipPath><g transform="translate(425.5,44.2)"><g clip-path="url(#cp03)"><path transform="scale(0.1)" d="M187 612l15 -1 18 0 52 11 83 -11 180 1 38 8 26 10 31 16 5 5 1 7 -6 12 -25 19 -13 6 -19 5 -28 4 -145 14 -110 -4 -13 4 -25 14 -17 6 -20 3 -20 0 -27 -7 -23 -14 -9 -10 -6 -10 -6 -22 2 -20 12 -18 10 -9 14 -10 25 -9zM187 618l18 -3 17 1 53 13 77 -12 78 1 38 2 22 6 38 17 20 15 3 4 0 6 -5 7 -7 5 -32 15 -19 6 -93 12 -105 -5 -15 4 -25 15 -15 6 -20 4 -20 -1 -25 -7 -20 -12 -13 -17 -4 -10 -3 -12 3 -20 10 -16 22 -16 22 -8zM199 620l16 0 15 2 38 13 12 3 72 -15 108 6 20 6 15 10 11 13 2 12 -3 8 -7 7 -19 7 -39 4 -45 10 -77 -6 -26 1 -17 5 -30 18 -13 5 -19 3 -21 -1 -22 -7 -19 -14 -11 -18 -4 -20 5 -17 14 -17 20 -12 24 -6zM200 622l18 1 17 3 37 16 10 3 10 -1 50 -14 13 -1 100 9 17 4 12 8 8 10 1 10 -4 8 -9 5 -10 1 -28 0 -30 12 -14 3 -18 0 -42 -8 -40 3 -20 7 -33 20 -13 5 -20 4 -20 -1 -22 -8 -17 -13 -10 -18 -3 -20 6 -18 14 -14 20 -11 20 -5zM191 625l21 -2 20 3 18 7 28 15 12 3 55 -17 23 -1 55 9 27 9 18 3 10 5 3 9 -3 4 -6 1 -17 -7 -7 0 -36 24 -20 5 -22 -4 -28 -16 -10 -2 -16 9 -34 13 -47 29 -20 4 -20 0 -20 -6 -17 -12 -11 -15 -5 -20 2 -15 10 -15 18 -13 19 -7zM196 625l24 0 22 6 40 22 27 7 2 5 -1 7 -9 10 -66 41 -13 4 -14 1 -16 -1 -14 -5 -16 -10 -11 -12 -7 -15 -1 -17 7 -16 11 -12 19 -11 16 -4zM347 638l18 -1 53 12 9 6 2 5 -1 5 -9 13 -13 10 -14 3 -12 -3 -11 -6 -17 -14 -20 -16 -1 -2 3 -5 13 -7zM188 628l14 -3 16 1 14 2 13 5 16 9 27 20 6 8 0 8 -5 7 -13 10 -28 21 -16 7 -12 3 -15 1 -13 -1 -14 -5 -16 -9 -10 -12 -6 -15 -2 -15 4 -12 9 -13 15 -11 16 -6zM355 648l5 -3 5 1 31 14 7 5 -1 7 -7 6 -11 0 -27 -26 -2 -4zM197 630l25 0 20 7 18 13 13 18 2 12 -5 10 -19 18 -19 11 -22 4 -25 -4 -20 -11 -12 -18 -3 -10 0 -10 3 -10 4 -8 18 -15 22 -7zM196 635l19 -1 20 5 16 11 10 15 3 13 -4 12 -11 12 -17 11 -20 5 -22 -2 -18 -10 -12 -16 -4 -18 5 -14 14 -15 10 -5 11 -3zM191 640l14 -2 17 1 13 5 11 8 9 13 2 13 -4 12 -8 10 -17 11 -20 4 -20 -5 -16 -10 -5 -8 -5 -10 -1 -10 2 -7 10 -15 18 -10zM197 642l15 -1 16 4 12 7 8 10 4 13 -2 10 -6 10 -11 9 -18 6 -17 0 -16 -8 -12 -12 -4 -15 3 -13 11 -12 17 -8zM198 645l14 -1 16 4 10 7 7 10 3 10 -2 10 -6 10 -12 9 -16 4 -14 -1 -16 -8 -9 -11 -3 -16 4 -12 11 -10 13 -5zM200 645l15 0 13 3 10 7 8 13 1 10 -2 10 -9 10 -11 7 -15 3 -15 -2 -14 -8 -9 -13 -2 -13 5 -12 10 -10 15 -5zM204 648l14 0 11 4 8 8 6 10 0 10 -4 10 -9 9 -10 4 -15 2 -13 -4 -11 -9 -6 -10 -1 -12 5 -10 11 -9 14 -3zM204 648l14 0 11 4 8 8 5 10 1 10 -4 10 -9 8 -12 6 -16 0 -12 -4 -10 -9 -6 -11 1 -12 6 -10 9 -7 14 -3zM195 652l10 -2 10 1 10 3 8 6 5 8 2 10 -2 7 -6 7 -12 8 -12 2 -13 -3 -10 -7 -6 -10 -1 -12 5 -10 12 -8zM195 652l10 -2 10 1 10 3 8 6 5 8 1 10 -3 10 -6 6 -12 7 -13 1 -13 -4 -9 -8 -5 -10 1 -12 6 -10 10 -6zM197 655l18 -1 10 4 6 4 4 8 1 8 -2 7 -6 7 -10 6 -13 1 -11 -4 -9 -7 -4 -10 1 -10 6 -8 9 -5zM199 655l9 -1 10 1 7 4 7 6 3 7 0 8 -4 8 -6 6 -10 4 -13 0 -10 -5 -7 -7 -3 -8 1 -10 6 -8 10 -5zM199 658l16 -1 7 3 6 5 4 13 -2 7 -5 6 -7 4 -10 1 -10 -2 -9 -6 -4 -8 0 -10 5 -8 9 -4zM203 658l9 -1 8 3 7 5 3 5 0 12 -3 6 -7 5 -8 2 -10 -1 -8 -4 -7 -8 -1 -7 2 -7 7 -8 8 -2zM202 660l13 0 11 8 2 4 0 8 -2 5 -6 5 -8 3 -10 -1 -7 -4 -5 -5 -2 -8 2 -7 5 -5 7 -3zM198 662l12 -2 12 5 5 10 -3 10 -6 5 -8 2 -8 -1 -7 -4 -4 -5 -2 -7 3 -7 6 -6zM207 662l11 3 4 5 3 5 -1 5 -3 5 -11 5 -12 -4 -6 -8 0 -6 3 -4 5 -4 7 -2zM200 665l10 -2 10 5 4 7 -1 5 -3 5 -10 4 -8 -1 -5 -3 -3 -5 -1 -5 2 -6 5 -4zM202 668l8 -1 7 3 3 8 -3 4 -9 4 -8 -4 -3 -7 2 -5 3 -2zM204 668l8 0 6 3 1 7 -2 4 -9 3 -8 -3 -3 -4 1 -5 6 -5zM206 670l4 0 5 3 1 5 -4 3 -4 2 -6 -3 -1 -5 5 -5z" fill="none" stroke="#000" stroke-width="5.5" stroke-linejoin="round"/><circle cx="22.3" cy="47.5" r="0.4" fill="#999"/><circle cx="19.2" cy="44.9" r="0.4" fill="#999"/><circle cx="21.2" cy="32.4" r="0.4" fill="#999"/><circle cx="27.7" cy="36.6" r="0.4" fill="#999"/><circle cx="21.9" cy="42.3" r="0.4" fill="#999"/><circle cx="25.4" cy="34.7" r="0.4" fill="#999"/><circle cx="23.8" cy="25.3" r="0.4" fill="#999"/><circle cx="20.9" cy="30.6" r="0.4" fill="#999"/><circle cx="18.0" cy="19.9" r="0.4" fill="#999"/><circle cx="17.1" cy="32.6" r="0.4" fill="#999"/><circle cx="21.5" cy="31.8" r="0.4" fill="#999"/><circle cx="22.2" cy="21.6" r="0.4" fill="#999"/><circle cx="21.8" cy="37.4" r="0.4" fill="#999"/><circle cx="24.3" cy="26.5" r="0.4" fill="#999"/><circle cx="51.0" cy="28.9" r="0.4" fill="#999"/><circle cx="50.0" cy="27.4" r="0.4" fill="#999"/><circle cx="40.8" cy="53.8" r="0.4" fill="#999"/><circle cx="33.0" cy="51.4" r="0.4" fill="#999"/><circle cx="58.3" cy="42.5" r="0.4" fill="#999"/><circle cx="59.6" cy="49.2" r="0.4" fill="#999"/><circle cx="65.5" cy="43.2" r="0.4" fill="#999"/><circle cx="49.1" cy="40.2" r="0.4" fill="#999"/><circle cx="45.1" cy="44.6" r="0.4" fill="#999"/><circle cx="47.1" cy="53.5" r="0.4" fill="#999"/><circle cx="36.3" cy="36.3" r="0.4" fill="#999"/><circle cx="45.5" cy="28.3" r="0.4" fill="#999"/><circle cx="74.0" cy="25.7" r="0.4" fill="#999"/><circle cx="52.2" cy="40.8" r="0.4" fill="#999"/><circle cx="64.8" cy="49.0" r="0.4" fill="#999"/><circle cx="56.1" cy="52.8" r="0.4" fill="#999"/><circle cx="37.7" cy="53.0" r="0.4" fill="#999"/><circle cx="49.6" cy="51.6" r="0.4" fill="#999"/><circle cx="38.8" cy="56.1" r="0.4" fill="#999"/><circle cx="67.6" cy="47.8" r="0.4" fill="#999"/><circle cx="62.9" cy="57.8" r="0.4" fill="#999"/><circle cx="32.7" cy="55.9" r="0.4" fill="#999"/></g><line x1="31.7" y1="0.5" x2="31.7" y2="87.5" stroke="#4a5aa8" stroke-width="1"/><line x1="0.5" y1="59" x2="87.5" y2="59" stroke="#4a5aa8" stroke-width="1"/><rect x="0.6" y="0.6" width="86.8" height="86.8" fill="none" stroke="#000" stroke-width="1.2"/><path d="M0,9h-2.8M0,29h-2.8M0,52.5h-2.8M0,68.8h-2.8M0,83.3h-2.8M0,22.98h-1.6M0,19.46h-1.6M0,16.96h-1.6M0,15.02h-1.6M0,13.44h-1.6M0,12.1h-1.6M0,10.94h-1.6M0,9.92h-1.6M0,45.43h-1.6M0,41.29h-1.6M0,38.35h-1.6M0,36.07h-1.6M0,34.21h-1.6M0,32.64h-1.6M0,31.28h-1.6M0,30.08h-1.6M0,57h-1.6M0,61h-1.6M0,65h-1.6M0,72.5h-1.6M0,76.5h-1.6M0,80h-1.6M0,83.3h-1.6M20.8,88.0v2.8M31.7,88.0v2.8M57,88.0v2.8M78.5,88.0v2.8M10,88.0v2.8M39.32,88.0v1.6M43.77,88.0v1.6M46.93,88.0v1.6M49.38,88.0v1.6M51.39,88.0v1.6M53.08,88.0v1.6M54.55,88.0v1.6M55.84,88.0v1.6M63.47,88.0v1.6M67.26,88.0v1.6M69.94,88.0v1.6M72.03,88.0v1.6M73.73,88.0v1.6M75.17,88.0v1.6M76.42,88.0v1.6M77.52,88.0v1.6M24.5,88.0v1.6M28,88.0v1.6M17,88.0v1.6M13.5,88.0v1.6M10,88.0v1.6M6.5,88.0v1.6M3.5,88.0v1.6M83.5,88.0v1.6M86,88.0v1.6" stroke="#111" stroke-width="0.8" fill="none"/><text x="2.6" y="7.8" font-family="Liberation Sans" font-size="7.3" fill="#5565b0">1.19</text><text x="85.6" y="7.8" font-family="Liberation Sans" font-size="7.3" fill="#5565b0" text-anchor="end">1.19</text><text x="2.6" y="85.3" font-family="Liberation Sans" font-size="7.3" fill="#5565b0">81.6</text><text x="85.6" y="85.3" font-family="Liberation Sans" font-size="7.3" fill="#5565b0" text-anchor="end">16</text><text x="-9.0" y="11.6" font-family="Liberation Sans" font-size="8.2" fill="#1a1a1a" text-anchor="end">10</text><text x="-8.9" y="8.3" font-family="Liberation Sans" font-size="6" fill="#1a1a1a">5</text><text x="-9.0" y="31.6" font-family="Liberation Sans" font-size="8.2" fill="#1a1a1a" text-anchor="end">10</text><text x="-8.9" y="28.3" font-family="Liberation Sans" font-size="6" fill="#1a1a1a">4</text><text x="-9.0" y="55.1" font-family="Liberation Sans" font-size="8.2" fill="#1a1a1a" text-anchor="end">10</text><text x="-8.9" y="51.8" font-family="Liberation Sans" font-size="6" fill="#1a1a1a">3</text><text x="-5.8" y="71.7" font-family="Liberation Sans" font-size="8.2" fill="#1a1a1a" text-anchor="end">0</text><text x="20.8" y="100.3" font-family="Liberation Sans" font-size="8.2" fill="#1a1a1a" text-anchor="middle">0</text><text x="31.4" y="100.3" font-family="Liberation Sans" font-size="8.2" fill="#1a1a1a" text-anchor="middle">10</text><text x="36" y="97.1" font-family="Liberation Sans" font-size="6" fill="#1a1a1a">3</text><text x="56.7" y="100.3" font-family="Liberation Sans" font-size="8.2" fill="#1a1a1a" text-anchor="middle">10</text><text x="61.3" y="97.1" font-family="Liberation Sans" font-size="6" fill="#1a1a1a">4</text><text x="78.2" y="100.3" font-family="Liberation Sans" font-size="8.2" fill="#1a1a1a" text-anchor="middle">10</text><text x="82.8" y="97.1" font-family="Liberation Sans" font-size="6" fill="#1a1a1a">5</text></g><clipPath id="cp10"><rect x="0.6" y="0.6" width="86.8" height="86.8"/></clipPath><g transform="translate(68.5,155.9)"><g clip-path="url(#cp10)"><ellipse cx="21.8" cy="68.6" rx="3.9" ry="2.5" fill="#555"/><ellipse cx="21.8" cy="68.6" rx="3.3" ry="2.0" fill="#000"/><path d="M30.7,68.3 C26.785,63.58 24.175,62.4 22,62.4 C16.45,62.4 14.6,65.05499999999999 14.6,68.3 C14.6,71.05 16.45,73.3 22,73.3 C24.175,73.3 26.785,72.3 30.7,68.3 Z" fill="none" stroke="#222" stroke-width="0.5"/><circle cx="20.1" cy="39.6" r="0.4" fill="#999"/><circle cx="19.3" cy="38.5" r="0.4" fill="#999"/><circle cx="21.4" cy="39.1" r="0.4" fill="#999"/><circle cx="22.3" cy="26.1" r="0.4" fill="#999"/><circle cx="20.1" cy="27.9" r="0.4" fill="#999"/><circle cx="18.8" cy="33.2" r="0.4" fill="#999"/><circle cx="20.3" cy="39.2" r="0.4" fill="#999"/><circle cx="20.8" cy="57.3" r="0.4" fill="#999"/><circle cx="21.3" cy="19.1" r="0.4" fill="#999"/><circle cx="20.3" cy="28.8" r="0.4" fill="#999"/><circle cx="19.2" cy="48.1" r="0.4" fill="#999"/><circle cx="19.7" cy="15.5" r="0.4" fill="#999"/><circle cx="20.5" cy="32.1" r="0.4" fill="#999"/><circle cx="18.2" cy="25.8" r="0.4" fill="#999"/><circle cx="19.1" cy="34.8" r="0.4" fill="#999"/><circle cx="19.4" cy="35.7" r="0.4" fill="#999"/><circle cx="63.4" cy="67.2" r="0.4" fill="#999"/><circle cx="36.9" cy="67.8" r="0.4" fill="#999"/><circle cx="56.0" cy="67.3" r="0.4" fill="#999"/><circle cx="59.3" cy="66.7" r="0.4" fill="#999"/><circle cx="34.7" cy="67.9" r="0.4" fill="#999"/><circle cx="36.4" cy="67.4" r="0.4" fill="#999"/><circle cx="49.5" cy="68.7" r="0.4" fill="#999"/><circle cx="46.1" cy="67.7" r="0.4" fill="#999"/><circle cx="58.4" cy="68.4" r="0.4" fill="#999"/><circle cx="42.6" cy="69.2" r="0.4" fill="#999"/><circle cx="36.0" cy="68.2" r="0.4" fill="#999"/><circle cx="51.6" cy="68.0" r="0.4" fill="#999"/><circle cx="41.4" cy="45.3" r="0.4" fill="#999"/><circle cx="41.9" cy="31.1" r="0.4" fill="#999"/><circle cx="34.7" cy="59.6" r="0.4" fill="#999"/><circle cx="41.8" cy="57.3" r="0.4" fill="#999"/><circle cx="55.7" cy="36.1" r="0.4" fill="#999"/></g><line x1="31.7" y1="0.5" x2="31.7" y2="87.5" stroke="#4a5aa8" stroke-width="1"/><line x1="0.5" y1="59" x2="87.5" y2="59" stroke="#4a5aa8" stroke-width="1"/><rect x="0.6" y="0.6" width="86.8" height="86.8" fill="none" stroke="#000" stroke-width="1.2"/><path d="M0,9h-2.8M0,29h-2.8M0,52.5h-2.8M0,68.8h-2.8M0,83.3h-2.8M0,22.98h-1.6M0,19.46h-1.6M0,16.96h-1.6M0,15.02h-1.6M0,13.44h-1.6M0,12.1h-1.6M0,10.94h-1.6M0,9.92h-1.6M0,45.43h-1.6M0,41.29h-1.6M0,38.35h-1.6M0,36.07h-1.6M0,34.21h-1.6M0,32.64h-1.6M0,31.28h-1.6M0,30.08h-1.6M0,57h-1.6M0,61h-1.6M0,65h-1.6M0,72.5h-1.6M0,76.5h-1.6M0,80h-1.6M0,83.3h-1.6M20.8,88.0v2.8M31.7,88.0v2.8M57,88.0v2.8M78.5,88.0v2.8M10,88.0v2.8M39.32,88.0v1.6M43.77,88.0v1.6M46.93,88.0v1.6M49.38,88.0v1.6M51.39,88.0v1.6M53.08,88.0v1.6M54.55,88.0v1.6M55.84,88.0v1.6M63.47,88.0v1.6M67.26,88.0v1.6M69.94,88.0v1.6M72.03,88.0v1.6M73.73,88.0v1.6M75.17,88.0v1.6M76.42,88.0v1.6M77.52,88.0v1.6M24.5,88.0v1.6M28,88.0v1.6M17,88.0v1.6M13.5,88.0v1.6M10,88.0v1.6M6.5,88.0v1.6M3.5,88.0v1.6M83.5,88.0v1.6M86,88.0v1.6" stroke="#111" stroke-width="0.8" fill="none"/><text x="2.6" y="7.8" font-family="Liberation Sans" font-size="7.3" fill="#5565b0">0.881</text><text x="85.6" y="7.8" font-family="Liberation Sans" font-size="7.3" fill="#5565b0" text-anchor="end">0.14</text><text x="2.6" y="85.3" font-family="Liberation Sans" font-size="7.3" fill="#5565b0">98.5</text><text x="85.6" y="85.3" font-family="Liberation Sans" font-size="7.3" fill="#5565b0" text-anchor="end">0.51</text><text x="-9.0" y="11.6" font-family="Liberation Sans" font-size="8.2" fill="#1a1a1a" text-anchor="end">10</text><text x="-8.9" y="8.3" font-family="Liberation Sans" font-size="6" fill="#1a1a1a">5</text><text x="-9.0" y="31.6" font-family="Liberation Sans" font-size="8.2" fill="#1a1a1a" text-anchor="end">10</text><text x="-8.9" y="28.3" font-family="Liberation Sans" font-size="6" fill="#1a1a1a">4</text><text x="-9.0" y="55.1" font-family="Liberation Sans" font-size="8.2" fill="#1a1a1a" text-anchor="end">10</text><text x="-8.9" y="51.8" font-family="Liberation Sans" font-size="6" fill="#1a1a1a">3</text><text x="-5.8" y="71.7" font-family="Liberation Sans" font-size="8.2" fill="#1a1a1a" text-anchor="end">0</text><text x="20.8" y="100.3" font-family="Liberation Sans" font-size="8.2" fill="#1a1a1a" text-anchor="middle">0</text><text x="31.4" y="100.3" font-family="Liberation Sans" font-size="8.2" fill="#1a1a1a" text-anchor="middle">10</text><text x="36" y="97.1" font-family="Liberation Sans" font-size="6" fill="#1a1a1a">3</text><text x="56.7" y="100.3" font-family="Liberation Sans" font-size="8.2" fill="#1a1a1a" text-anchor="middle">10</text><text x="61.3" y="97.1" font-family="Liberation Sans" font-size="6" fill="#1a1a1a">4</text><text x="78.2" y="100.3" font-family="Liberation Sans" font-size="8.2" fill="#1a1a1a" text-anchor="middle">10</text><text x="82.8" y="97.1" font-family="Liberation Sans" font-size="6" fill="#1a1a1a">5</text></g><clipPath id="cp11"><rect x="0.6" y="0.6" width="86.8" height="86.8"/></clipPath><g transform="translate(187.5,155.9)"><g clip-path="url(#cp11)"><path transform="scale(0.1)" d="M684 218l8 -2 8 4 5 22 4 8 8 8 18 10 8 10 4 17 -4 25 0 10 4 12 15 28 2 15 -1 13 -5 20 -16 34 -4 26 -16 27 -4 25 -3 10 -7 9 -14 6 -6 6 -8 12 -5 15 -2 12 2 9 21 33 5 18 -3 18 -13 17 -20 14 -27 11 -31 7 -35 3 -27 -1 -27 -3 -76 -20 -87 -10 -55 -13 -5 1 -15 18 -12 11 -16 8 -20 5 -20 1 -20 -3 -17 -8 -14 -11 -10 -15 -4 -18 3 -17 10 -15 12 -11 18 -8 20 -5 30 -3 6 -3 12 -15 3 -7 0 -10 -6 -23 2 -10 6 -10 7 -8 10 -7 35 -8 8 -4 5 -6 3 -12 -8 -28 0 -10 9 -8 30 -11 9 -8 5 -10 -1 -5 -17 -7 -10 -8 -2 -7 5 -10 9 -6 12 -5 13 -2 7 1 3 4 -1 8 -8 27 2 3 10 0 12 -5 10 -9 4 -9 4 -18 4 -3 8 0 15 11 27 30 8 2 5 -1 8 -8 8 -28 10 -20 49 -65 42 -41 13 -10 13 -4 24 -5 22 -7zM672 242l8 -1 8 2 15 17 21 15 6 7 4 13 -4 25 1 15 17 43 3 14 -5 26 -15 32 -4 25 -14 25 -7 25 -6 6 -15 7 -7 7 -14 37 -11 23 0 7 20 28 7 15 -1 15 -7 15 -20 15 -27 12 -35 7 -35 0 -35 -4 -57 -15 -71 -6 -34 -6 -36 -10 -21 -13 -6 -7 -1 -6 4 -10 13 -17 0 -5 -7 -18 2 -7 8 -13 1 -7 -3 -5 -17 -4 -8 -6 -3 -5 -1 -7 4 -10 11 -8 32 -7 26 -15 3 -8 -9 -22 2 -10 20 -10 23 -26 47 -36 8 -2 8 3 14 19 8 5 10 2 11 -5 11 -15 17 -41 27 -42 25 -30 31 -30 10 -7 10 -3 23 -2 17 -6zM500 565l-18 6 -24 -3 -8 1 -3 3 -2 8 7 18 8 6 12 3 13 0 10 -4 17 -21 4 -7 0 -5 -4 -5 -4 -2 -8 2zM202 622l26 -2 22 4 20 12 19 19 1 5 -1 8 -5 20 -9 12 -13 11 -24 11 -16 2 -14 -1 -18 -4 -12 -6 -11 -8 -9 -10 -4 -10 -2 -13 2 -12 4 -10 8 -10 9 -7 13 -6 14 -5zM668 255l12 -2 8 2 28 23 8 10 2 10 -1 37 14 73 -3 14 -13 28 -3 25 -11 20 -8 23 -6 7 -15 8 -8 7 -16 42 -6 9 -17 17 1 7 21 18 11 19 2 16 -8 14 -15 14 -25 10 -28 6 -32 1 -30 -3 -53 -12 -75 -7 -32 -4 -32 -9 -21 -10 -7 -8 -2 -8 2 -7 5 -7 13 -8 30 -10 10 -5 5 -5 -3 -4 -8 -2 -27 4 -9 -3 -2 -7 7 -26 -3 -12 -8 -7 -20 -1 -3 -4 2 -6 9 -3 20 -2 47 -24 3 -8 -3 -17 1 -10 30 -43 10 -10 14 -10 12 -6 8 -2 8 4 12 15 8 5 12 0 12 -6 13 -15 16 -35 15 -23 12 -23 7 -9 17 -12 15 -20 13 -12 10 -7 22 -4 26 -10zM448 550l-10 4 -20 24 -18 12 -5 8 0 6 10 2 23 -3 30 8 22 3 18 -2 12 -5 14 -22 2 -7 0 -10 -6 -11 -5 -4 -7 -1 -20 7 -10 1 -30 -10zM201 625l21 -2 23 3 17 8 15 14 7 14 -1 16 -7 17 -11 12 -13 7 -12 5 -15 3 -15 0 -15 -3 -13 -5 -10 -7 -9 -9 -7 -13 -2 -10 2 -13 3 -10 8 -10 8 -7 13 -6 13 -4zM672 260l8 -1 10 4 22 17 7 10 3 12 -1 30 3 30 -4 28 1 8 7 12 1 8 -2 9 -10 25 -4 23 -16 40 -5 6 -16 9 -6 5 -5 10 -9 27 -8 13 -8 6 -23 12 -5 5 -1 2 3 5 28 18 13 15 4 10 0 7 -3 10 -5 7 -16 13 -23 8 -27 5 -27 1 -23 -3 -53 -11 -74 -6 -33 -4 -33 -9 -19 -11 -5 -5 -2 -8 3 -7 4 -5 12 -7 47 -16 48 -6 42 6 20 0 16 -2 10 -5 12 -23 2 -12 -2 -10 -5 -10 -10 -8 -10 -1 -17 6 -10 1 -10 -4 -18 -15 -8 -1 -4 3 -19 26 -11 10 -15 5 -28 2 -20 12 -3 -3 0 -33 3 -10 11 -13 32 -14 6 -6 -8 -20 1 -12 16 -25 9 -17 9 -10 14 -9 13 -3 7 3 15 20 5 2 13 -2 14 -8 13 -14 50 -87 7 -5 18 -5 12 -22 8 -8 25 -9 23 -15 14 -6zM570 437l0 5 2 2 3 -1 0 -3 -3 -4 -2 1zM209 625l21 0 20 4 16 11 12 15 4 15 -4 18 -11 14 -17 12 -12 4 -16 3 -24 -3 -23 -11 -10 -9 -6 -10 -3 -10 1 -13 3 -10 7 -10 8 -7 10 -6 24 -7zM668 265l12 -2 10 3 17 14 9 12 2 10 0 30 1 28 -6 30 2 9 7 16 1 7 -11 30 -4 23 -12 35 -6 9 -16 9 -7 7 -18 43 -7 6 -10 5 -34 8 -5 3 -3 5 1 5 5 5 36 18 14 12 5 10 1 7 -1 10 -5 8 -14 11 -20 8 -24 6 -28 0 -70 -11 -108 -10 -32 -8 -21 -11 -6 -7 -1 -6 1 -4 6 -8 11 -6 17 -4 28 -10 45 -7 45 6 25 0 18 -3 9 -6 8 -22 1 -10 -4 -16 -7 -14 -7 -5 -8 -2 -8 0 -17 6 -10 -1 -7 -6 -7 -15 -3 -4 -23 -5 -17 -10 -18 -8 -5 -8 1 -10 15 -18 4 -20 4 -7 11 -9 12 -4 8 2 5 4 5 10 3 22 12 16 5 1 2 -5 1 -14 3 -8 26 -23 43 -67 13 -24 7 -3 13 0 4 -2 6 -5 8 -18 6 -8 23 -10 20 -18 13 -7zM565 422l-4 6 -2 7 3 15 8 7 6 1 7 -2 3 -4 2 -4 -4 -13 -9 -12 -5 -2 -5 1zM391 525l17 2 10 4 4 4 1 10 -7 13 -11 9 -13 4 -14 -2 -17 -7 -4 -4 -1 -6 3 -12 11 -9 21 -6zM202 628l23 -3 20 4 15 8 13 13 7 15 -1 15 -7 15 -12 12 -12 7 -13 4 -13 1 -14 0 -13 -3 -13 -5 -10 -7 -7 -9 -5 -10 -2 -10 1 -13 4 -10 5 -7 10 -8 24 -9zM669 268l11 -2 10 3 16 13 8 13 2 13 0 50 -7 32 10 28 -1 12 -10 28 -5 22 -9 30 -6 8 -16 8 -6 6 -19 43 -7 7 -10 4 -32 -1 -13 8 -7 9 1 6 10 10 38 17 13 10 6 10 1 7 -2 10 -5 8 -13 10 -19 8 -23 4 -25 1 -66 -11 -106 -9 -30 -7 -26 -11 -6 -7 -1 -6 1 -4 6 -8 10 -5 18 -3 28 -11 42 -6 45 6 27 0 20 -3 11 -6 7 -22 0 -10 -5 -18 -7 -16 -8 -6 -12 -3 -23 5 -5 -1 -5 -3 -2 -6 1 -7 10 -25 13 -25 -1 -23 16 -20 18 -29 15 -15 25 -44 5 -3 15 4 5 -2 18 -35 7 -6 18 -6 19 -21 12 -7zM562 412l-4 10 -3 13 1 10 4 10 5 6 5 2 8 0 9 -3 6 -5 2 -5 -4 -12 -16 -23 -7 -4 -6 1zM435 427l7 0 6 1 5 10 -2 12 -9 6 -14 -1 -5 -3 -3 -4 1 -8 3 -5 11 -8zM439 475l9 -2 4 1 8 7 3 17 -2 4 -5 6 -8 2 -10 -1 -31 -19 -1 -5 4 -5 29 -5zM386 530l9 -1 10 2 7 4 5 5 0 5 -2 7 -10 10 -10 4 -10 0 -13 -5 -6 -6 -2 -7 2 -8 9 -7 11 -3zM206 628l22 -2 20 5 14 9 12 12 5 16 -2 14 -8 16 -14 11 -10 5 -15 4 -25 0 -13 -4 -12 -6 -16 -16 -4 -10 -2 -10 3 -12 5 -10 6 -8 10 -7 24 -7zM670 270l12 -1 13 6 14 15 4 15 -1 53 -6 30 10 37 -2 10 -11 27 -8 40 -7 13 -23 15 -15 35 -10 12 -8 3 -7 1 -20 -7 -7 0 -26 21 -5 7 21 20 34 15 13 10 5 8 2 7 -1 8 -5 8 -12 10 -16 7 -23 4 -23 1 -64 -9 -106 -9 -21 -4 -26 -9 -13 -6 -4 -5 -1 -8 2 -5 6 -6 13 -4 17 -2 25 -10 40 -6 50 6 35 -1 17 -4 11 -10 2 -5 -1 -21 -14 -38 -12 -9 -26 -4 -3 -3 2 -26 14 -27 2 -25 23 -42 8 -7 7 -2 5 2 3 7 -1 32 3 14 5 9 8 4 10 1 14 -5 9 -5 1 -8 -6 -12 -16 -25 -20 -23 -2 -8 2 -7 7 -12 8 -6 20 1 7 -3 3 -5 4 -25 6 -12 7 -6 18 -6 18 -23 12 -8zM435 432l7 1 4 5 -2 7 -6 3 -8 -1 -3 -5 3 -6 5 -4zM438 485l7 -1 5 4 2 7 -4 5 -8 1 -9 -6 0 -5 7 -5zM383 535l12 -1 11 4 5 7 -2 7 -7 7 -7 2 -10 0 -8 -3 -5 -6 -1 -7 4 -6 8 -4zM212 628l23 0 17 6 14 11 10 15 1 18 -6 14 -11 13 -18 9 -24 4 -26 -5 -20 -12 -10 -16 -2 -10 0 -10 4 -10 6 -9 18 -12 24 -6zM672 272l13 0 11 8 11 12 4 16 -3 47 -6 30 3 13 7 20 1 10 -14 34 -7 40 -7 12 -16 8 -7 7 -14 33 -10 11 -8 2 -8 -1 -20 -11 -4 -1 -6 3 -20 20 -7 4 -7 1 -6 -3 -4 -9 -16 -38 -7 -5 -21 -10 -6 -7 0 -16 13 -24 6 -36 13 -28 8 -7 4 0 6 8 0 23 2 12 5 14 5 6 10 3 35 -7 17 3 6 -2 0 -6 -16 -10 -16 -21 -24 -40 -2 -11 2 -5 6 -4 24 -3 11 -7 3 -8 -3 -22 5 -11 7 -6 15 -4 5 -3 13 -23 7 -7 7 -4zM384 540l8 -1 8 2 4 4 -1 5 -8 6 -11 -1 -3 -3 -3 -4 2 -6 4 -2zM549 608l11 -3 10 3 9 7 9 12 32 14 9 7 5 7 1 13 -5 10 -14 10 -21 7 -17 2 -20 0 -53 -7 -107 -10 -56 -13 -7 -5 -6 -7 2 -10 9 -7 10 -3 18 0 17 -8 17 -5 30 -3 48 6 40 -1 12 -3 17 -13zM203 630l19 -2 20 3 16 8 11 11 6 12 1 16 -4 12 -12 13 -10 7 -12 5 -13 2 -15 0 -12 -3 -13 -5 -17 -14 -5 -10 -2 -10 0 -10 4 -10 7 -10 8 -6 23 -9zM674 275l11 1 10 6 9 13 4 15 -2 28 -8 42 2 12 9 26 1 10 -15 37 -5 37 -8 10 -14 9 -8 7 -12 28 -10 12 -8 2 -8 -2 -7 -4 -13 -12 -4 -2 -6 3 -12 17 -8 8 -7 4 -7 -1 -8 -6 -5 -9 -10 -30 -25 -13 -7 -11 2 -12 12 -22 4 -28 6 -22 8 -12 2 -1 4 3 5 32 6 20 6 8 7 1 37 -6 23 5 10 -5 3 -8 -3 -8 -25 -16 -13 -16 -8 -17 -5 -23 4 -5 17 -4 23 -14 21 -7 1 -3 -5 -4 -15 -2 -6 -4 -4 -7 0 -7 3 -6 5 -3 14 -1 6 -3 4 -7 8 -23 8 -7 6 -3zM557 608l8 0 7 3 7 7 7 12 32 15 6 5 5 8 0 10 -6 10 -13 8 -18 6 -17 2 -17 0 -150 -15 -24 -4 -19 -6 -20 -2 -10 -6 -4 -6 -1 -5 2 -5 8 -6 12 -3 18 2 22 -10 18 -5 22 -2 48 6 48 -2 7 -2 13 -13 9 -2zM207 630l21 -1 17 4 15 9 11 13 4 13 -1 14 -9 15 -13 10 -12 6 -12 3 -26 -1 -22 -10 -14 -15 -4 -18 1 -10 5 -10 6 -7 8 -6 25 -9zM675 278l8 0 9 5 8 9 5 13 1 15 -4 18 -4 12 -8 6 -25 -7 -19 -17 0 -2 9 -15 7 -27 6 -7 7 -3zM654 362l14 -1 20 5 19 52 0 14 -14 33 -6 37 -5 8 -17 10 -6 5 -14 30 -7 8 -8 2 -8 -2 -7 -5 -10 -12 -7 -4 -8 5 -11 18 -7 8 -7 4 -7 -1 -8 -6 -5 -10 -6 -28 -24 -10 -4 -4 -3 -8 1 -10 12 -20 4 -27 5 -15 5 -7 3 5 14 54 3 0 17 -8 20 -4 13 0 17 4 13 -3 6 -9 -1 -12 -5 -7 -20 -11 -11 -10 -8 -15 -2 -15 4 -8 24 -21 10 -5 22 -4zM551 610l11 -1 10 4 7 7 5 12 27 13 7 5 5 8 1 10 -7 10 -13 7 -16 5 -33 1 -143 -13 -26 -6 -18 -6 -23 0 -10 -6 -4 -8 3 -7 8 -6 13 -2 17 4 26 -12 24 -6 18 0 42 5 50 -1 13 -14 6 -3zM213 630l19 0 18 6 14 12 8 12 2 15 -5 15 -11 12 -16 9 -22 5 -25 -4 -20 -12 -10 -15 -2 -10 1 -10 3 -10 5 -7 18 -12 23 -6zM677 280l8 1 7 6 8 11 3 10 0 12 -2 12 -6 9 -5 3 -12 0 -10 -2 -8 -6 -3 -6 6 -38 5 -7 9 -5zM648 368l17 0 17 9 10 12 12 26 1 15 -15 36 -5 36 -6 8 -21 12 -13 28 -7 9 -8 2 -8 -2 -17 -21 -7 -2 -6 1 -4 5 -16 26 -7 4 -7 0 -6 -4 -5 -8 -2 -18 4 -10 10 -12 3 -20 5 -10 11 -6 14 -2 10 0 18 4 10 -1 8 -3 5 -7 3 -10 -4 -10 -7 -8 -20 -11 -7 -6 -7 -10 -2 -12 4 -11 19 -21 10 -5 16 -3zM533 452l2 0 3 2 3 8 1 10 -2 16 4 22 -2 10 -4 3 -6 1 -7 -1 -7 -4 -5 -7 -1 -4 3 -10 12 -16 2 -22 4 -8zM554 610l8 0 10 4 7 8 3 13 26 13 9 10 1 10 -5 7 -12 7 -16 5 -35 1 -117 -10 -38 -7 -23 -9 -14 4 -10 -1 -11 -5 -4 -8 2 -7 10 -6 15 0 15 6 26 -15 21 -5 18 -1 40 6 52 -1 6 -3 7 -11 9 -5zM202 632l20 -2 18 3 15 7 10 10 7 12 1 16 -5 12 -10 12 -20 10 -26 3 -22 -6 -10 -6 -8 -8 -5 -7 -3 -10 0 -10 3 -10 5 -9 8 -7 22 -10zM673 285l7 -2 8 4 7 8 5 10 1 13 -2 10 -4 6 -7 4 -10 0 -8 -2 -4 -4 -3 -4 3 -33 7 -10zM639 372l19 -1 14 5 18 15 12 21 2 10 -1 8 -16 38 -4 32 -5 8 -21 12 -15 29 -7 7 -5 1 -6 -2 -5 -5 -11 -17 -6 -3 -7 -1 -10 7 -10 22 -5 6 -5 4 -7 -1 -6 -4 -2 -5 -1 -13 3 -7 11 -10 3 -6 2 -22 5 -8 7 -4 12 -2 30 4 10 -1 10 -6 5 -8 2 -13 -4 -10 -7 -7 -28 -17 -5 -8 -2 -8 3 -10 16 -20 8 -6 9 -4zM523 498l7 -2 5 5 2 9 -2 5 -3 3 -7 0 -6 -6 -1 -7 5 -7zM550 612l13 -1 9 4 6 7 2 15 20 11 11 10 1 7 -4 7 -8 7 -12 4 -18 3 -20 0 -95 -8 -52 -10 -12 -6 -7 -7 2 -7 6 -8 11 -8 12 -4 23 -2 42 7 52 -2 6 -2 6 -11 6 -6zM206 632l16 -1 18 3 15 7 11 11 5 13 0 15 -6 13 -13 12 -22 8 -22 0 -23 -8 -15 -14 -4 -9 -1 -10 4 -17 13 -13 24 -10zM345 640l13 -1 8 3 6 6 1 7 -4 5 -9 4 -10 1 -8 -3 -6 -4 -2 -8 4 -6 7 -4zM674 290l6 -2 5 2 7 7 4 8 2 10 -1 7 -5 7 -4 4 -13 -1 -6 -7 0 -25 5 -10zM641 375l11 -1 10 2 23 15 13 17 3 10 1 10 -3 10 -14 30 -5 33 -5 5 -20 11 -15 30 -5 4 -5 1 -8 -4 -10 -17 -7 -7 -10 -2 -17 5 -4 -22 3 -7 5 -4 13 -2 37 1 10 -4 6 -7 4 -14 -4 -16 -10 -11 -23 -13 -5 -6 -3 -7 3 -10 15 -20 7 -7 9 -3zM571 532l4 0 1 3 -1 10 -3 9 -7 8 -8 0 -5 -7 1 -10 7 -7 11 -6zM552 612l10 0 10 5 5 8 -1 13 2 2 18 10 9 10 -1 8 -3 4 -8 6 -11 3 -20 2 -27 0 -41 -3 -32 -5 -20 -5 -32 -12 -8 -5 -2 -5 2 -8 6 -5 17 -6 15 0 35 6 60 -2 4 -3 6 -12 7 -6zM211 632l17 0 17 5 13 8 10 13 3 12 -2 15 -9 13 -15 10 -23 5 -22 -2 -20 -10 -12 -16 -2 -17 3 -10 5 -8 16 -12 21 -6zM342 642l10 -2 10 2 7 6 1 7 -4 5 -6 3 -15 -1 -7 -4 -3 -6 1 -4 6 -6zM677 295l3 -2 5 2 8 13 1 7 -2 7 -7 6 -7 -1 -5 -7 0 -15 4 -10zM642 378l10 -1 8 1 25 16 12 16 3 18 -3 10 -16 32 -3 29 -6 5 -14 6 -6 4 -12 27 -5 5 -5 1 -7 -4 -13 -24 -12 -11 3 -6 7 -2 32 -4 8 -5 4 -9 2 -17 -5 -15 -9 -10 -23 -15 -6 -10 2 -7 15 -21 7 -7 7 -2zM560 545l5 -2 3 2 0 7 -6 6 -4 -3 -1 -3 3 -7zM556 613l9 0 7 5 4 10 -3 12 20 12 5 8 1 5 -4 6 -6 4 -11 4 -18 2 -28 0 -56 -6 -22 -7 -15 -13 -19 -8 -6 -5 2 -4 4 -3 10 -2 40 6 68 -4 2 -3 3 -10 4 -4 9 -5zM202 635l16 -2 17 1 15 6 12 10 7 12 1 13 -4 13 -10 12 -8 6 -13 4 -23 2 -22 -6 -15 -11 -5 -8 -3 -9 2 -18 4 -8 8 -7 9 -6 12 -4zM345 642l10 -1 7 2 5 5 1 7 -4 5 -6 2 -8 1 -8 -3 -5 -5 0 -5 3 -5 5 -3zM680 305l2 -2 3 1 4 6 -1 8 -3 3 -4 -1 -2 -2 -1 -6 2 -7zM644 380l8 0 8 1 22 14 10 11 6 14 -2 15 -18 37 -3 23 -4 5 -6 3 -10 0 -3 -3 6 -25 -1 -13 -5 -11 -10 -12 -22 -17 -4 -7 2 -8 12 -18 7 -6 7 -3zM631 505l13 0 2 3 -7 25 -2 5 -5 3 -4 -2 -3 -4 -6 -23 3 -4 9 -3zM552 615l6 -2 7 2 5 3 4 4 1 8 -6 10 0 2 17 10 5 8 -1 8 -7 4 -11 4 -14 2 -46 0 -31 -6 -12 -4 -5 -6 -3 -7 2 -5 9 -5 28 -5 40 -3 3 -2 2 -13 7 -7zM205 635l17 -2 16 3 14 6 11 10 5 13 1 13 -5 12 -12 12 -20 8 -22 1 -20 -6 -15 -13 -5 -7 -2 -10 0 -10 3 -7 5 -8 9 -7 20 -8zM344 645l8 -2 8 1 5 4 1 7 -8 6 -13 -1 -4 -2 -2 -6 1 -4 4 -3zM643 385l7 -1 8 1 22 13 10 9 5 11 1 10 -4 9 -22 35 -2 0 -3 -2 -8 -18 -6 -10 -22 -20 -5 -7 1 -7 7 -13 6 -7 5 -3zM552 618l10 -2 7 4 3 5 0 5 -3 5 -13 7 21 13 3 7 -5 6 -20 6 -33 1 -29 -5 -11 -8 0 -4 2 -6 14 -6 20 -4 32 -2 -4 -8 -1 -4 3 -6 4 -4zM212 635l18 0 15 5 13 9 7 11 3 15 -4 13 -9 10 -15 9 -20 4 -23 -4 -16 -9 -10 -16 -2 -7 1 -10 8 -14 14 -11 20 -5zM350 648l10 -1 3 3 0 5 -8 4 -8 -1 -2 -6 5 -4zM647 392l11 1 20 10 7 5 5 8 2 9 -3 10 -9 14 -8 7 -4 0 -3 -2 -28 -36 -1 -8 2 -8 4 -6 5 -4zM552 625l6 -1 7 3 2 3 -1 2 -6 4 -6 -1 -4 -5 2 -5zM208 638l14 -2 16 3 12 6 10 10 5 13 -1 12 -4 10 -11 10 -19 8 -20 0 -19 -6 -14 -12 -6 -15 1 -10 3 -7 13 -13 20 -7zM517 650l15 -2 13 1 10 4 5 7 -5 5 -7 3 -16 1 -14 -1 -8 -3 -4 -5 2 -5 9 -5zM652 405l8 -1 12 3 8 5 5 6 1 7 -1 6 -5 9 -5 5 -5 0 -5 -3 -14 -17 -3 -12 4 -8zM205 640l15 -2 15 2 11 5 9 7 6 10 2 13 -5 13 -8 9 -18 8 -20 2 -20 -6 -12 -11 -6 -15 3 -15 11 -12 17 -8zM658 412l4 -1 8 1 10 6 2 10 -7 10 -7 -1 -10 -9 -3 -8 3 -8zM212 640l16 0 12 3 11 7 7 10 3 10 -2 12 -6 10 -11 8 -17 5 -20 -1 -15 -6 -11 -13 -4 -15 2 -8 5 -7 13 -10 17 -5zM205 645l13 -2 12 1 11 4 9 7 6 10 1 10 -4 10 -6 7 -14 8 -15 2 -18 -3 -13 -9 -7 -12 0 -8 2 -8 8 -10 15 -7zM211 650l19 0 10 5 5 5 3 8 0 10 -4 7 -6 5 -13 5 -13 0 -12 -4 -9 -9 -3 -10 3 -10 8 -7 12 -5zM212 650l18 1 9 4 6 6 3 9 -1 8 -4 7 -6 5 -12 5 -13 0 -12 -5 -8 -8 -3 -10 3 -10 7 -7 13 -5z" fill="none" stroke="#000" stroke-width="5.5" stroke-linejoin="round"/><circle cx="15.9" cy="21.2" r="0.4" fill="#999"/><circle cx="38.0" cy="7.5" r="0.4" fill="#999"/><circle cx="28.3" cy="7.9" r="0.4" fill="#999"/><circle cx="43.2" cy="37.4" r="0.4" fill="#999"/><circle cx="46.3" cy="28.9" r="0.4" fill="#999"/><circle cx="34.8" cy="31.6" r="0.4" fill="#999"/><circle cx="21.1" cy="36.7" r="0.4" fill="#999"/><circle cx="14.9" cy="30.7" r="0.4" fill="#999"/><circle cx="38.4" cy="35.7" r="0.4" fill="#999"/><circle cx="25.1" cy="61.3" r="0.4" fill="#999"/><circle cx="30.7" cy="28.0" r="0.4" fill="#999"/><circle cx="31.9" cy="28.7" r="0.4" fill="#999"/><circle cx="25.4" cy="30.8" r="0.4" fill="#999"/><circle cx="54.3" cy="35.3" r="0.4" fill="#999"/><circle cx="32.1" cy="43.1" r="0.4" fill="#999"/><circle cx="86.1" cy="27.8" r="0.4" fill="#999"/><circle cx="65.0" cy="54.7" r="0.4" fill="#999"/><circle cx="58.3" cy="26.3" r="0.4" fill="#999"/><circle cx="75.3" cy="52.8" r="0.4" fill="#999"/><circle cx="62.4" cy="5.7" r="0.4" fill="#999"/><circle cx="75.3" cy="24.8" r="0.4" fill="#999"/><g transform="translate(-2.5,-4.3) scale(0.182692)"><ellipse cx="268" cy="182" rx="10" ry="9" fill="none" stroke="#000" stroke-width="2.6"/></g></g><line x1="31.7" y1="0.5" x2="31.7" y2="87.5" stroke="#4a5aa8" stroke-width="1"/><line x1="0.5" y1="59" x2="87.5" y2="59" stroke="#4a5aa8" stroke-width="1"/><rect x="0.6" y="0.6" width="86.8" height="86.8" fill="none" stroke="#000" stroke-width="1.2"/><path d="M0,9h-2.8M0,29h-2.8M0,52.5h-2.8M0,68.8h-2.8M0,83.3h-2.8M0,22.98h-1.6M0,19.46h-1.6M0,16.96h-1.6M0,15.02h-1.6M0,13.44h-1.6M0,12.1h-1.6M0,10.94h-1.6M0,9.92h-1.6M0,45.43h-1.6M0,41.29h-1.6M0,38.35h-1.6M0,36.07h-1.6M0,34.21h-1.6M0,32.64h-1.6M0,31.28h-1.6M0,30.08h-1.6M0,57h-1.6M0,61h-1.6M0,65h-1.6M0,72.5h-1.6M0,76.5h-1.6M0,80h-1.6M0,83.3h-1.6M20.8,88.0v2.8M31.7,88.0v2.8M57,88.0v2.8M78.5,88.0v2.8M10,88.0v2.8M39.32,88.0v1.6M43.77,88.0v1.6M46.93,88.0v1.6M49.38,88.0v1.6M51.39,88.0v1.6M53.08,88.0v1.6M54.55,88.0v1.6M55.84,88.0v1.6M63.47,88.0v1.6M67.26,88.0v1.6M69.94,88.0v1.6M72.03,88.0v1.6M73.73,88.0v1.6M75.17,88.0v1.6M76.42,88.0v1.6M77.52,88.0v1.6M24.5,88.0v1.6M28,88.0v1.6M17,88.0v1.6M13.5,88.0v1.6M10,88.0v1.6M6.5,88.0v1.6M3.5,88.0v1.6M83.5,88.0v1.6M86,88.0v1.6" stroke="#111" stroke-width="0.8" fill="none"/><text x="2.6" y="7.8" font-family="Liberation Sans" font-size="7.3" fill="#5565b0">2.29</text><text x="85.6" y="7.8" font-family="Liberation Sans" font-size="7.3" fill="#5565b0" text-anchor="end">48.5</text><text x="2.6" y="85.3" font-family="Liberation Sans" font-size="7.3" fill="#5565b0">22.9</text><text x="85.6" y="85.3" font-family="Liberation Sans" font-size="7.3" fill="#5565b0" text-anchor="end">26.4</text><text x="-9.0" y="11.6" font-family="Liberation Sans" font-size="8.2" fill="#1a1a1a" text-anchor="end">10</text><text x="-8.9" y="8.3" font-family="Liberation Sans" font-size="6" fill="#1a1a1a">5</text><text x="-9.0" y="31.6" font-family="Liberation Sans" font-size="8.2" fill="#1a1a1a" text-anchor="end">10</text><text x="-8.9" y="28.3" font-family="Liberation Sans" font-size="6" fill="#1a1a1a">4</text><text x="-9.0" y="55.1" font-family="Liberation Sans" font-size="8.2" fill="#1a1a1a" text-anchor="end">10</text><text x="-8.9" y="51.8" font-family="Liberation Sans" font-size="6" fill="#1a1a1a">3</text><text x="-5.8" y="71.7" font-family="Liberation Sans" font-size="8.2" fill="#1a1a1a" text-anchor="end">0</text><text x="20.8" y="100.3" font-family="Liberation Sans" font-size="8.2" fill="#1a1a1a" text-anchor="middle">0</text><text x="31.4" y="100.3" font-family="Liberation Sans" font-size="8.2" fill="#1a1a1a" text-anchor="middle">10</text><text x="36" y="97.1" font-family="Liberation Sans" font-size="6" fill="#1a1a1a">3</text><text x="56.7" y="100.3" font-family="Liberation Sans" font-size="8.2" fill="#1a1a1a" text-anchor="middle">10</text><text x="61.3" y="97.1" font-family="Liberation Sans" font-size="6" fill="#1a1a1a">4</text><text x="78.2" y="100.3" font-family="Liberation Sans" font-size="8.2" fill="#1a1a1a" text-anchor="middle">10</text><text x="82.8" y="97.1" font-family="Liberation Sans" font-size="6" fill="#1a1a1a">5</text></g><clipPath id="cp12"><rect x="0.6" y="0.6" width="86.8" height="86.8"/></clipPath><g transform="translate(306.5,155.9)"><g clip-path="url(#cp12)"><path transform="scale(0.1)" d="M611 370l14 -2 13 2 12 8 9 10 7 12 6 15 12 55 -3 30 -16 53 -3 22 3 16 17 39 5 22 0 13 -5 15 -15 22 -12 14 -15 12 -18 10 -17 6 -20 5 -20 1 -20 -2 -20 -4 -46 -19 -19 -3 -102 -1 -96 -7 -34 10 -26 2 -20 -4 -17 -8 -13 -10 -11 -14 -8 -15 -3 -10 2 -10 7 -10 13 -14 18 -12 20 -8 23 -6 -1 -3 -24 -13 -9 -9 -1 -5 1 -5 8 -8 25 -10 40 -8 40 -3 83 -1 37 -5 37 -10 65 -27 16 -10 12 -12 16 -25 17 -43 7 -15 13 -14 16 -9zM611 390l11 -2 10 2 10 6 8 9 10 28 6 42 -3 33 -18 57 -2 17 3 18 21 52 0 13 -4 10 -8 11 -17 17 -16 12 -24 11 -28 4 -22 -1 -38 -11 -18 -3 -127 0 -97 -7 -15 2 -25 9 -23 2 -17 -2 -18 -8 -12 -9 -10 -12 -8 -18 0 -7 2 -10 13 -18 10 -8 13 -7 12 -4 15 -2 50 3 117 -17 4 -2 -1 -2 -32 -18 -1 -2 4 -3 64 -11 32 -8 68 -23 18 -8 12 -12 10 -16 42 -89 8 -10 11 -8zM613 408l7 -2 8 0 7 5 5 7 10 27 5 35 -4 32 -19 56 -2 17 1 13 5 14 19 40 1 13 -3 7 -8 10 -25 19 -25 12 -23 4 -70 -6 -150 1 -87 -7 -12 2 -25 9 -20 3 -18 -2 -15 -6 -13 -9 -10 -12 -5 -10 -3 -10 1 -10 4 -10 7 -10 12 -9 22 -10 22 -3 41 4 97 -10 112 -3 15 -1 7 -3 4 -5 5 -12 6 -8 11 -8 22 -11 10 -10 25 -63 25 -54 10 -17 11 -9zM616 435l4 -1 5 2 7 9 8 22 2 23 -1 15 -4 17 -22 50 -1 18 11 32 17 26 4 12 -2 10 -5 8 -21 15 -28 11 -28 4 -182 2 -50 -2 -65 -6 -13 3 -24 9 -20 2 -18 -2 -15 -6 -14 -10 -9 -13 -4 -10 -1 -10 2 -7 5 -10 16 -16 22 -9 23 -2 40 4 55 -7 55 -4 127 -1 16 -2 8 -3 36 -26 10 -12 4 -12 4 -40 7 -26 21 -37 10 -14 8 -6zM611 468l4 -2 5 2 7 10 3 14 -1 18 -7 18 -10 16 -12 12 -8 1 -4 -4 -5 -13 -2 -12 2 -16 5 -15 7 -14 7 -9 9 -6zM577 588l11 -2 7 5 21 34 19 23 4 12 -4 12 -13 13 -17 9 -25 7 -30 4 -155 4 -63 -2 -64 -7 -13 2 -33 11 -20 1 -17 -3 -15 -9 -13 -12 -7 -15 0 -15 8 -15 17 -14 20 -7 23 -1 39 5 53 -7 55 -5 145 0 24 -6 43 -22zM562 612l18 -1 12 6 30 26 8 9 2 8 -4 12 -13 11 -23 11 -24 5 -36 3 -137 5 -63 -3 -64 -6 -13 2 -30 11 -20 2 -20 -4 -15 -9 -12 -12 -6 -16 1 -14 10 -16 17 -11 18 -6 20 0 42 5 50 -7 45 -4 53 -1 100 1 27 -1 27 -6zM376 622l49 0 145 4 18 5 17 10 11 11 2 10 -6 12 -14 10 -20 7 -28 5 -100 5 -60 2 -58 -3 -62 -7 -10 2 -38 13 -12 1 -12 0 -13 -4 -13 -7 -9 -10 -6 -13 -1 -13 4 -10 8 -10 12 -8 12 -4 16 -3 17 1 37 7 60 -9 54 -4zM352 628l66 -2 142 5 20 4 15 7 10 10 3 10 -6 10 -14 10 -20 6 -26 4 -94 6 -60 1 -56 -3 -60 -8 -47 17 -13 2 -12 -1 -12 -3 -13 -7 -10 -10 -5 -11 -1 -13 4 -10 9 -10 10 -6 16 -5 17 -1 55 9 38 -7 44 -4zM370 630l55 -1 133 6 17 4 13 6 9 7 2 10 -6 10 -12 8 -19 6 -22 3 -108 6 -50 0 -50 -3 -54 -9 -10 3 -40 16 -16 3 -12 -1 -12 -3 -13 -8 -9 -11 -4 -10 0 -10 4 -10 9 -9 10 -6 17 -5 18 0 52 12 46 -9 52 -5zM212 632l26 4 37 13 55 -11 48 -5 37 0 127 3 23 3 15 6 10 7 3 10 -4 8 -12 8 -15 5 -22 3 -115 5 -47 0 -47 -3 -51 -10 -8 2 -37 19 -15 4 -15 0 -15 -3 -15 -9 -10 -13 -2 -13 5 -13 10 -10 14 -7 20 -3zM197 635l21 -2 20 4 20 8 22 13 34 -13 47 -7 44 -2 133 2 20 2 16 5 11 7 3 8 -1 5 -4 5 -13 8 -22 5 -30 3 -118 2 -42 -2 -43 -6 -33 -12 -21 17 -19 10 -20 6 -17 1 -15 -3 -12 -7 -9 -10 -5 -12 2 -12 6 -10 12 -8 13 -5zM200 635l25 0 27 7 12 8 8 8 2 4 -1 8 -5 8 -9 7 -27 13 -24 4 -20 -5 -10 -6 -8 -9 -5 -10 0 -10 5 -10 7 -7 11 -6 12 -4zM370 640l175 0 17 2 13 6 8 7 2 7 -5 8 -10 6 -15 4 -20 3 -147 0 -38 -3 -36 -8 -8 -4 -3 -6 0 -2 9 -8 14 -4 44 -8zM202 635l13 -1 15 2 25 9 11 7 5 8 1 8 -3 7 -7 7 -12 8 -25 10 -23 1 -20 -7 -8 -6 -6 -10 -3 -10 2 -8 5 -10 8 -7 10 -5 12 -3zM499 640l51 1 16 4 13 7 3 6 1 4 -6 8 -15 7 -20 4 -42 1 -72 -7 -63 -1 -27 -5 -7 -4 -3 -5 3 -5 10 -5 29 -6 129 -4zM203 635l15 -1 14 3 26 10 7 5 5 8 1 8 -3 7 -7 7 -11 8 -25 9 -23 2 -20 -7 -7 -6 -7 -10 -2 -10 1 -8 5 -10 8 -6 10 -6 13 -3zM514 640l41 2 16 6 9 7 2 5 -1 5 -9 7 -14 6 -20 3 -28 1 -30 -2 -24 -5 -34 -13 -50 -1 -10 -2 -5 -4 7 -5 24 -4 60 -1 66 -5zM206 635l26 2 16 5 10 6 6 4 5 8 1 8 -3 7 -7 7 -11 8 -27 10 -22 0 -18 -8 -9 -7 -5 -10 -2 -7 2 -10 5 -8 9 -8 12 -4 12 -3zM496 642l34 -1 28 3 10 4 8 4 3 6 0 4 -3 6 -6 4 -22 7 -30 2 -33 -3 -14 -6 -7 -4 -6 -10 0 -6 9 -4 29 -6zM198 638l12 -2 15 0 15 4 11 5 7 5 6 8 2 10 -2 7 -6 7 -8 6 -25 10 -23 1 -17 -6 -8 -5 -6 -8 -3 -8 0 -10 3 -7 7 -7 10 -7 10 -3zM523 645l20 0 17 4 9 6 2 7 -7 8 -16 5 -23 1 -21 -4 -10 -7 -2 -5 1 -5 6 -5 6 -2 18 -3zM207 638l13 -1 15 3 20 10 6 8 2 7 -1 7 -5 8 -17 12 -22 5 -20 -1 -17 -8 -7 -8 -3 -8 -1 -7 2 -7 6 -8 7 -6 10 -4 12 -2zM530 655l15 -1 7 4 1 2 -1 2 -4 3 -16 1 -6 -4 -1 -2 5 -5zM214 638l26 4 16 10 5 8 1 8 -2 7 -6 7 -19 11 -23 4 -20 -3 -14 -10 -6 -8 -2 -8 2 -8 4 -8 6 -5 10 -6 22 -3zM200 645l22 -2 12 2 8 4 10 11 2 8 -2 7 -11 10 -16 5 -17 0 -16 -5 -10 -10 -2 -5 0 -8 6 -10 14 -7zM201 645l21 -2 11 2 9 4 10 11 2 8 -3 7 -10 10 -16 5 -17 -1 -18 -6 -9 -11 -1 -10 7 -10 14 -7zM212 650l16 0 12 5 6 10 -3 10 -8 5 -10 2 -13 -2 -10 -5 -6 -7 0 -8 5 -5 11 -5zM209 652l16 -2 13 5 6 7 -1 10 -5 6 -8 3 -10 0 -10 -4 -8 -6 -3 -6 3 -7 7 -6z" fill="none" stroke="#000" stroke-width="5.5" stroke-linejoin="round"/><circle cx="54.0" cy="12.9" r="0.4" fill="#999"/><circle cx="31.0" cy="39.0" r="0.4" fill="#999"/><circle cx="71.5" cy="38.1" r="0.4" fill="#999"/><circle cx="15.1" cy="42.4" r="0.4" fill="#999"/><circle cx="23.4" cy="55.2" r="0.4" fill="#999"/><circle cx="40.4" cy="62.9" r="0.4" fill="#999"/><circle cx="42.6" cy="23.6" r="0.4" fill="#999"/><circle cx="18.5" cy="32.9" r="0.4" fill="#999"/><circle cx="53.0" cy="54.7" r="0.4" fill="#999"/><circle cx="49.8" cy="27.7" r="0.4" fill="#999"/><circle cx="54.0" cy="17.9" r="0.4" fill="#999"/><circle cx="54.1" cy="27.5" r="0.4" fill="#999"/><circle cx="71.9" cy="51.9" r="0.4" fill="#999"/><circle cx="51.6" cy="23.7" r="0.4" fill="#999"/><circle cx="54.9" cy="43.2" r="0.4" fill="#999"/><circle cx="35.1" cy="29.3" r="0.4" fill="#999"/><circle cx="67.9" cy="32.4" r="0.4" fill="#999"/><circle cx="53.0" cy="57.5" r="0.4" fill="#999"/><circle cx="18.3" cy="63.0" r="0.4" fill="#999"/><circle cx="63.2" cy="28.9" r="0.4" fill="#999"/><circle cx="27.9" cy="20.9" r="0.4" fill="#999"/><circle cx="61.8" cy="2.0" r="0.4" fill="#999"/><circle cx="61.8" cy="40.4" r="0.4" fill="#999"/><circle cx="32.7" cy="30.9" r="0.4" fill="#999"/><circle cx="38.4" cy="34.8" r="0.4" fill="#999"/><circle cx="61.0" cy="26.3" r="0.4" fill="#999"/><circle cx="64.7" cy="51.8" r="0.4" fill="#999"/><circle cx="40.5" cy="46.6" r="0.4" fill="#999"/><circle cx="35.2" cy="38.8" r="0.4" fill="#999"/><circle cx="54.0" cy="65.2" r="0.4" fill="#999"/><circle cx="44.1" cy="35.9" r="0.4" fill="#999"/><circle cx="45.6" cy="35.4" r="0.4" fill="#999"/><circle cx="25.6" cy="64.3" r="0.4" fill="#999"/><circle cx="33.8" cy="29.8" r="0.4" fill="#999"/><circle cx="32.2" cy="47.7" r="0.4" fill="#999"/><circle cx="62.8" cy="42.9" r="0.4" fill="#999"/><circle cx="44.6" cy="23.9" r="0.4" fill="#999"/><circle cx="58.4" cy="36.7" r="0.4" fill="#999"/><circle cx="82.7" cy="34.2" r="0.4" fill="#999"/><circle cx="26.8" cy="12.2" r="0.4" fill="#999"/><circle cx="12.9" cy="46.6" r="0.4" fill="#999"/><circle cx="51.2" cy="21.8" r="0.4" fill="#999"/><circle cx="17.3" cy="42.0" r="0.4" fill="#999"/><circle cx="38.6" cy="41.2" r="0.4" fill="#999"/><circle cx="64.9" cy="38.7" r="0.4" fill="#999"/><circle cx="51.0" cy="46.1" r="0.4" fill="#999"/><circle cx="65.8" cy="46.5" r="0.4" fill="#999"/><circle cx="72.6" cy="52.5" r="0.4" fill="#999"/><circle cx="61.0" cy="49.7" r="0.4" fill="#999"/><circle cx="47.5" cy="50.5" r="0.4" fill="#999"/><circle cx="64.8" cy="53.2" r="0.4" fill="#999"/><circle cx="73.0" cy="37.4" r="0.4" fill="#999"/><circle cx="64.0" cy="54.0" r="0.4" fill="#999"/><circle cx="60.6" cy="45.6" r="0.4" fill="#999"/></g><line x1="31.7" y1="0.5" x2="31.7" y2="87.5" stroke="#4a5aa8" stroke-width="1"/><line x1="0.5" y1="59" x2="87.5" y2="59" stroke="#4a5aa8" stroke-width="1"/><rect x="0.6" y="0.6" width="86.8" height="86.8" fill="none" stroke="#000" stroke-width="1.2"/><path d="M0,9h-2.8M0,29h-2.8M0,52.5h-2.8M0,68.8h-2.8M0,83.3h-2.8M0,22.98h-1.6M0,19.46h-1.6M0,16.96h-1.6M0,15.02h-1.6M0,13.44h-1.6M0,12.1h-1.6M0,10.94h-1.6M0,9.92h-1.6M0,45.43h-1.6M0,41.29h-1.6M0,38.35h-1.6M0,36.07h-1.6M0,34.21h-1.6M0,32.64h-1.6M0,31.28h-1.6M0,30.08h-1.6M0,57h-1.6M0,61h-1.6M0,65h-1.6M0,72.5h-1.6M0,76.5h-1.6M0,80h-1.6M0,83.3h-1.6M20.8,88.0v2.8M31.7,88.0v2.8M57,88.0v2.8M78.5,88.0v2.8M10,88.0v2.8M39.32,88.0v1.6M43.77,88.0v1.6M46.93,88.0v1.6M49.38,88.0v1.6M51.39,88.0v1.6M53.08,88.0v1.6M54.55,88.0v1.6M55.84,88.0v1.6M63.47,88.0v1.6M67.26,88.0v1.6M69.94,88.0v1.6M72.03,88.0v1.6M73.73,88.0v1.6M75.17,88.0v1.6M76.42,88.0v1.6M77.52,88.0v1.6M24.5,88.0v1.6M28,88.0v1.6M17,88.0v1.6M13.5,88.0v1.6M10,88.0v1.6M6.5,88.0v1.6M3.5,88.0v1.6M83.5,88.0v1.6M86,88.0v1.6" stroke="#111" stroke-width="0.8" fill="none"/><text x="2.6" y="7.8" font-family="Liberation Sans" font-size="7.3" fill="#5565b0">1.47</text><text x="85.6" y="7.8" font-family="Liberation Sans" font-size="7.3" fill="#5565b0" text-anchor="end">13.6</text><text x="2.6" y="85.3" font-family="Liberation Sans" font-size="7.3" fill="#5565b0">41.4</text><text x="85.6" y="85.3" font-family="Liberation Sans" font-size="7.3" fill="#5565b0" text-anchor="end">43.5</text><text x="-9.0" y="11.6" font-family="Liberation Sans" font-size="8.2" fill="#1a1a1a" text-anchor="end">10</text><text x="-8.9" y="8.3" font-family="Liberation Sans" font-size="6" fill="#1a1a1a">5</text><text x="-9.0" y="31.6" font-family="Liberation Sans" font-size="8.2" fill="#1a1a1a" text-anchor="end">10</text><text x="-8.9" y="28.3" font-family="Liberation Sans" font-size="6" fill="#1a1a1a">4</text><text x="-9.0" y="55.1" font-family="Liberation Sans" font-size="8.2" fill="#1a1a1a" text-anchor="end">10</text><text x="-8.9" y="51.8" font-family="Liberation Sans" font-size="6" fill="#1a1a1a">3</text><text x="-5.8" y="71.7" font-family="Liberation Sans" font-size="8.2" fill="#1a1a1a" text-anchor="end">0</text><text x="20.8" y="100.3" font-family="Liberation Sans" font-size="8.2" fill="#1a1a1a" text-anchor="middle">0</text><text x="31.4" y="100.3" font-family="Liberation Sans" font-size="8.2" fill="#1a1a1a" text-anchor="middle">10</text><text x="36" y="97.1" font-family="Liberation Sans" font-size="6" fill="#1a1a1a">3</text><text x="56.7" y="100.3" font-family="Liberation Sans" font-size="8.2" fill="#1a1a1a" text-anchor="middle">10</text><text x="61.3" y="97.1" font-family="Liberation Sans" font-size="6" fill="#1a1a1a">4</text><text x="78.2" y="100.3" font-family="Liberation Sans" font-size="8.2" fill="#1a1a1a" text-anchor="middle">10</text><text x="82.8" y="97.1" font-family="Liberation Sans" font-size="6" fill="#1a1a1a">5</text></g><clipPath id="cp13"><rect x="0.6" y="0.6" width="86.8" height="86.8"/></clipPath><g transform="translate(425.5,155.9)"><g clip-path="url(#cp13)"><path transform="scale(0.1)" d="M187 620l18 -2 17 3 43 15 15 3 75 -1 73 5 87 17 27 1 6 2 4 5 -2 4 -7 3 -21 3 -27 8 -36 6 -54 14 -65 5 -55 1 -10 4 -27 15 -16 6 -20 4 -22 -1 -28 -8 -17 -12 -12 -15 -5 -20 4 -20 4 -10 9 -13 17 -13 25 -9zM192 625l13 -1 15 2 48 18 12 3 75 -1 63 5 28 9 10 8 1 4 -5 6 -9 4 -38 15 -65 6 -55 2 -13 4 -24 16 -18 7 -20 3 -22 -2 -23 -7 -15 -11 -11 -15 -3 -18 5 -20 13 -20 16 -10 22 -7zM185 630l17 -2 20 3 50 21 16 4 62 -4 56 6 19 6 3 4 1 4 -4 6 -8 4 -19 7 -58 7 -55 1 -10 4 -25 17 -18 9 -20 4 -22 -1 -20 -6 -15 -10 -11 -14 -3 -15 2 -17 10 -18 15 -13 17 -7zM184 632l21 -2 20 4 20 8 35 19 15 6 13 0 26 -7 18 -2 49 7 7 3 2 4 -5 5 -7 3 -23 2 -27 6 -58 1 -12 5 -28 22 -15 8 -20 5 -25 -1 -20 -6 -13 -10 -10 -12 -4 -15 3 -17 8 -16 14 -12 16 -8zM189 632l13 -1 13 2 33 12 21 13 11 10 6 7 -1 7 -33 30 -22 13 -15 3 -15 0 -15 -2 -15 -5 -12 -9 -9 -12 -4 -12 1 -16 6 -14 10 -13 13 -8 14 -5zM341 665l17 0 6 3 1 2 -1 2 -8 6 -16 2 -5 -2 -2 -6 3 -4 5 -3zM185 638l15 -3 15 2 20 7 19 11 10 10 4 13 -2 10 -8 12 -10 10 -10 7 -13 5 -13 3 -14 0 -16 -3 -20 -12 -6 -8 -5 -10 -1 -10 2 -12 4 -10 8 -10 8 -7 13 -5zM194 640l16 0 20 6 15 9 11 13 2 12 -3 12 -9 13 -14 9 -20 6 -22 -1 -20 -8 -11 -13 -3 -8 -1 -10 2 -10 5 -10 13 -13 19 -7zM187 645l15 -2 16 3 17 7 11 9 5 10 1 13 -4 10 -8 10 -18 10 -20 3 -20 -4 -15 -12 -8 -14 2 -18 10 -15 16 -10zM190 648l12 -2 16 3 14 7 11 9 4 10 0 10 -4 10 -9 10 -16 8 -18 2 -18 -5 -13 -10 -6 -15 2 -15 10 -15 15 -7zM192 650l13 -1 15 4 12 7 8 8 3 10 -1 10 -5 10 -8 7 -14 6 -17 1 -16 -5 -11 -9 -5 -13 2 -15 10 -13 14 -7zM192 652l10 -1 13 3 13 5 8 9 4 7 0 10 -4 10 -8 7 -13 7 -15 1 -15 -4 -11 -8 -5 -13 1 -13 8 -12 14 -8zM193 652l12 0 15 4 11 6 6 8 2 8 0 10 -6 10 -8 6 -15 5 -15 0 -13 -5 -9 -9 -4 -13 2 -12 9 -11 13 -7zM195 655l10 0 13 3 10 6 5 6 3 8 -1 10 -4 7 -9 7 -12 5 -15 0 -13 -6 -7 -9 -3 -10 2 -12 8 -10 13 -5zM196 655l12 0 12 4 9 6 5 7 2 8 -2 10 -5 8 -9 6 -12 3 -13 0 -13 -6 -7 -9 -3 -12 3 -11 8 -9 13 -5zM195 658l10 -1 11 3 9 5 6 7 2 8 -1 8 -5 7 -7 6 -12 4 -13 0 -10 -5 -7 -8 -3 -10 3 -12 7 -8 10 -4zM190 660l8 -2 10 0 10 4 8 6 5 7 1 7 -2 8 -5 6 -10 7 -13 2 -11 -3 -9 -5 -6 -9 0 -10 4 -10 10 -8zM195 660l7 -1 10 2 8 4 8 7 2 6 -1 7 -3 7 -6 6 -10 4 -12 1 -10 -4 -7 -7 -4 -10 2 -10 6 -7 10 -5zM193 662l9 -1 8 1 13 8 3 5 2 7 -3 8 -5 6 -10 5 -10 0 -10 -3 -7 -6 -3 -7 0 -10 5 -7 8 -6zM195 662l10 0 7 2 12 8 2 6 0 7 -4 7 -4 5 -10 4 -10 0 -9 -3 -7 -7 -2 -9 2 -10 6 -6 7 -4zM196 665l14 1 8 4 4 5 1 10 -2 5 -6 5 -7 3 -10 0 -8 -3 -5 -5 -2 -8 1 -7 6 -7 6 -3zM197 665l8 0 7 2 10 8 1 10 -2 5 -6 5 -7 3 -10 0 -8 -3 -5 -5 -2 -8 1 -7 6 -7 7 -3zM198 668l12 1 8 6 2 10 -8 9 -7 2 -7 0 -7 -4 -3 -4 -2 -6 2 -7 4 -5 6 -2zM200 668l12 2 7 8 -1 10 -4 4 -6 3 -13 -1 -6 -4 -2 -5 0 -7 3 -6 10 -4zM202 670l10 4 4 4 1 4 -5 8 -10 4 -9 -4 -4 -8 3 -8 10 -4zM195 672l7 -2 10 4 4 6 -1 8 -10 5 -7 0 -5 -3 -3 -5 0 -5 5 -8zM197 675l5 -2 8 3 3 6 -3 6 -8 3 -7 -3 -2 -8 4 -5zM197 675l8 -1 5 3 2 5 -2 6 -8 2 -6 -2 -3 -8 4 -5zM199 678l3 -2 6 2 1 4 -1 3 -6 3 -4 -3 -1 -5 2 -2z" fill="none" stroke="#000" stroke-width="5.5" stroke-linejoin="round"/><circle cx="21.5" cy="44.1" r="0.4" fill="#999"/><circle cx="21.5" cy="37.5" r="0.4" fill="#999"/><circle cx="20.1" cy="38.3" r="0.4" fill="#999"/><circle cx="24.2" cy="43.4" r="0.4" fill="#999"/><circle cx="24.1" cy="42.0" r="0.4" fill="#999"/><circle cx="53.9" cy="52.9" r="0.4" fill="#999"/><circle cx="33.3" cy="56.3" r="0.4" fill="#999"/><circle cx="55.1" cy="54.5" r="0.4" fill="#999"/><circle cx="33.1" cy="43.3" r="0.4" fill="#999"/><circle cx="41.1" cy="49.7" r="0.4" fill="#999"/><circle cx="53.1" cy="51.8" r="0.4" fill="#999"/><circle cx="55.2" cy="48.8" r="0.4" fill="#999"/><circle cx="53.1" cy="54.0" r="0.4" fill="#999"/><circle cx="43.4" cy="60.6" r="0.4" fill="#999"/><circle cx="55.6" cy="58.0" r="0.4" fill="#999"/><circle cx="56.3" cy="63.8" r="0.4" fill="#999"/><circle cx="57.9" cy="65.7" r="0.4" fill="#999"/><circle cx="63.8" cy="66.7" r="0.4" fill="#999"/><circle cx="57.3" cy="63.1" r="0.4" fill="#999"/><circle cx="56.9" cy="69.7" r="0.4" fill="#999"/><circle cx="55.2" cy="66.7" r="0.4" fill="#999"/><circle cx="62.6" cy="61.5" r="0.4" fill="#999"/><circle cx="60.3" cy="69.9" r="0.4" fill="#999"/><circle cx="47.9" cy="65.0" r="0.4" fill="#999"/><circle cx="59.4" cy="63.5" r="0.4" fill="#999"/></g><line x1="31.7" y1="0.5" x2="31.7" y2="87.5" stroke="#4a5aa8" stroke-width="1"/><line x1="0.5" y1="59" x2="87.5" y2="59" stroke="#4a5aa8" stroke-width="1"/><rect x="0.6" y="0.6" width="86.8" height="86.8" fill="none" stroke="#000" stroke-width="1.2"/><path d="M0,9h-2.8M0,29h-2.8M0,52.5h-2.8M0,68.8h-2.8M0,83.3h-2.8M0,22.98h-1.6M0,19.46h-1.6M0,16.96h-1.6M0,15.02h-1.6M0,13.44h-1.6M0,12.1h-1.6M0,10.94h-1.6M0,9.92h-1.6M0,45.43h-1.6M0,41.29h-1.6M0,38.35h-1.6M0,36.07h-1.6M0,34.21h-1.6M0,32.64h-1.6M0,31.28h-1.6M0,30.08h-1.6M0,57h-1.6M0,61h-1.6M0,65h-1.6M0,72.5h-1.6M0,76.5h-1.6M0,80h-1.6M0,83.3h-1.6M20.8,88.0v2.8M31.7,88.0v2.8M57,88.0v2.8M78.5,88.0v2.8M10,88.0v2.8M39.32,88.0v1.6M43.77,88.0v1.6M46.93,88.0v1.6M49.38,88.0v1.6M51.39,88.0v1.6M53.08,88.0v1.6M54.55,88.0v1.6M55.84,88.0v1.6M63.47,88.0v1.6M67.26,88.0v1.6M69.94,88.0v1.6M72.03,88.0v1.6M73.73,88.0v1.6M75.17,88.0v1.6M76.42,88.0v1.6M77.52,88.0v1.6M24.5,88.0v1.6M28,88.0v1.6M17,88.0v1.6M13.5,88.0v1.6M10,88.0v1.6M6.5,88.0v1.6M3.5,88.0v1.6M83.5,88.0v1.6M86,88.0v1.6" stroke="#111" stroke-width="0.8" fill="none"/><text x="2.6" y="7.8" font-family="Liberation Sans" font-size="7.3" fill="#5565b0">0.328</text><text x="85.6" y="7.8" font-family="Liberation Sans" font-size="7.3" fill="#5565b0" text-anchor="end">0.25</text><text x="2.6" y="85.3" font-family="Liberation Sans" font-size="7.3" fill="#5565b0">89.5</text><text x="85.6" y="85.3" font-family="Liberation Sans" font-size="7.3" fill="#5565b0" text-anchor="end">9.88</text><text x="-9.0" y="11.6" font-family="Liberation Sans" font-size="8.2" fill="#1a1a1a" text-anchor="end">10</text><text x="-8.9" y="8.3" font-family="Liberation Sans" font-size="6" fill="#1a1a1a">5</text><text x="-9.0" y="31.6" font-family="Liberation Sans" font-size="8.2" fill="#1a1a1a" text-anchor="end">10</text><text x="-8.9" y="28.3" font-family="Liberation Sans" font-size="6" fill="#1a1a1a">4</text><text x="-9.0" y="55.1" font-family="Liberation Sans" font-size="8.2" fill="#1a1a1a" text-anchor="end">10</text><text x="-8.9" y="51.8" font-family="Liberation Sans" font-size="6" fill="#1a1a1a">3</text><text x="-5.8" y="71.7" font-family="Liberation Sans" font-size="8.2" fill="#1a1a1a" text-anchor="end">0</text><text x="20.8" y="100.3" font-family="Liberation Sans" font-size="8.2" fill="#1a1a1a" text-anchor="middle">0</text><text x="31.4" y="100.3" font-family="Liberation Sans" font-size="8.2" fill="#1a1a1a" text-anchor="middle">10</text><text x="36" y="97.1" font-family="Liberation Sans" font-size="6" fill="#1a1a1a">3</text><text x="56.7" y="100.3" font-family="Liberation Sans" font-size="8.2" fill="#1a1a1a" text-anchor="middle">10</text><text x="61.3" y="97.1" font-family="Liberation Sans" font-size="6" fill="#1a1a1a">4</text><text x="78.2" y="100.3" font-family="Liberation Sans" font-size="8.2" fill="#1a1a1a" text-anchor="middle">10</text><text x="82.8" y="97.1" font-family="Liberation Sans" font-size="6" fill="#1a1a1a">5</text></g><text x="91.2" y="288" font-family="Liberation Sans" font-size="7" fill="#1a1a1a" textLength="42.6" lengthAdjust="spacingAndGlyphs">Unstimulated</text><text x="196" y="288" font-family="Liberation Sans" font-size="7" fill="#1a1a1a" textLength="71" lengthAdjust="spacingAndGlyphs">Anti-CD3ε stimulated</text><text x="321.85" y="288" font-family="Liberation Sans" font-size="7" fill="#1a1a1a" textLength="57.3" lengthAdjust="spacingAndGlyphs">Ibrutinib 0.25 μM</text><text x="440.85" y="288" font-family="Liberation Sans" font-size="7" fill="#1a1a1a" textLength="57.3" lengthAdjust="spacingAndGlyphs">Ibrutinib 1.00 μM</text><clipPath id="cp20"><rect x="0.6" y="0.6" width="86.8" height="86.8"/></clipPath><g transform="translate(68.5,292.6)"><g clip-path="url(#cp20)"><ellipse cx="22.2" cy="68.2" rx="4.0" ry="2.7" fill="#555"/><ellipse cx="22.2" cy="68.2" rx="3.4" ry="2.2" fill="#000"/><ellipse cx="22.4" cy="67.9" rx="5.6" ry="4.2" fill="none" stroke="#222" stroke-width="0.55"/><path d="M30.4,67.8 C26.89,63.4 24.55,62.3 22.6,62.3 C17.35,62.3 15.6,64.77499999999999 15.6,67.8 C15.6,70.71499999999999 17.35,73.1 22.6,73.1 C24.55,73.1 26.89,72.03999999999999 30.4,67.8 Z" fill="none" stroke="#222" stroke-width="0.5"/><path d="M46.4,68.1 C43.97,66.66 42.35,66.3 41,66.3 C38.675,66.3 37.9,67.11 37.9,68.1 C37.9,69.19999999999999 38.675,70.1 41,70.1 C42.35,70.1 43.97,69.69999999999999 46.4,68.1 Z" fill="none" stroke="#222" stroke-width="0.5"/><circle cx="60.2" cy="70.3" r="0.4" fill="#999"/><circle cx="64.6" cy="69.0" r="0.4" fill="#999"/><circle cx="61.9" cy="68.3" r="0.4" fill="#999"/><circle cx="62.1" cy="68.0" r="0.4" fill="#999"/><circle cx="53.8" cy="67.2" r="0.4" fill="#999"/><circle cx="51.3" cy="68.3" r="0.4" fill="#999"/><circle cx="62.0" cy="69.6" r="0.4" fill="#999"/><circle cx="61.7" cy="68.4" r="0.4" fill="#999"/><circle cx="62.7" cy="68.1" r="0.4" fill="#999"/><circle cx="47.2" cy="69.1" r="0.4" fill="#999"/><circle cx="55.9" cy="68.3" r="0.4" fill="#999"/><circle cx="57.0" cy="70.8" r="0.4" fill="#999"/></g><line x1="31.7" y1="0.5" x2="31.7" y2="87.5" stroke="#4a5aa8" stroke-width="1"/><line x1="0.5" y1="59" x2="87.5" y2="59" stroke="#4a5aa8" stroke-width="1"/><rect x="0.6" y="0.6" width="86.8" height="86.8" fill="none" stroke="#000" stroke-width="1.2"/><path d="M0,9h-2.8M0,29h-2.8M0,52.5h-2.8M0,68.8h-2.8M0,83.3h-2.8M0,22.98h-1.6M0,19.46h-1.6M0,16.96h-1.6M0,15.02h-1.6M0,13.44h-1.6M0,12.1h-1.6M0,10.94h-1.6M0,9.92h-1.6M0,45.43h-1.6M0,41.29h-1.6M0,38.35h-1.6M0,36.07h-1.6M0,34.21h-1.6M0,32.64h-1.6M0,31.28h-1.6M0,30.08h-1.6M0,57h-1.6M0,61h-1.6M0,65h-1.6M0,72.5h-1.6M0,76.5h-1.6M0,80h-1.6M0,83.3h-1.6M20.8,88.0v2.8M31.7,88.0v2.8M57,88.0v2.8M78.5,88.0v2.8M10,88.0v2.8M39.32,88.0v1.6M43.77,88.0v1.6M46.93,88.0v1.6M49.38,88.0v1.6M51.39,88.0v1.6M53.08,88.0v1.6M54.55,88.0v1.6M55.84,88.0v1.6M63.47,88.0v1.6M67.26,88.0v1.6M69.94,88.0v1.6M72.03,88.0v1.6M73.73,88.0v1.6M75.17,88.0v1.6M76.42,88.0v1.6M77.52,88.0v1.6M24.5,88.0v1.6M28,88.0v1.6M17,88.0v1.6M13.5,88.0v1.6M10,88.0v1.6M6.5,88.0v1.6M3.5,88.0v1.6M83.5,88.0v1.6M86,88.0v1.6" stroke="#111" stroke-width="0.8" fill="none"/><text x="2.6" y="7.8" font-family="Liberation Sans" font-size="7.3" fill="#5565b0">0</text><text x="85.6" y="7.8" font-family="Liberation Sans" font-size="7.3" fill="#5565b0" text-anchor="end">0</text><text x="2.6" y="85.3" font-family="Liberation Sans" font-size="7.3" fill="#5565b0">95.7</text><text x="85.6" y="85.3" font-family="Liberation Sans" font-size="7.3" fill="#5565b0" text-anchor="end">4.3</text><text x="-9.0" y="11.6" font-family="Liberation Sans" font-size="8.2" fill="#1a1a1a" text-anchor="end">10</text><text x="-8.9" y="8.3" font-family="Liberation Sans" font-size="6" fill="#1a1a1a">5</text><text x="-9.0" y="31.6" font-family="Liberation Sans" font-size="8.2" fill="#1a1a1a" text-anchor="end">10</text><text x="-8.9" y="28.3" font-family="Liberation Sans" font-size="6" fill="#1a1a1a">4</text><text x="-9.0" y="55.1" font-family="Liberation Sans" font-size="8.2" fill="#1a1a1a" text-anchor="end">10</text><text x="-8.9" y="51.8" font-family="Liberation Sans" font-size="6" fill="#1a1a1a">3</text><text x="-5.8" y="71.7" font-family="Liberation Sans" font-size="8.2" fill="#1a1a1a" text-anchor="end">0</text><text x="20.8" y="100.3" font-family="Liberation Sans" font-size="8.2" fill="#1a1a1a" text-anchor="middle">0</text><text x="31.4" y="100.3" font-family="Liberation Sans" font-size="8.2" fill="#1a1a1a" text-anchor="middle">10</text><text x="36" y="97.1" font-family="Liberation Sans" font-size="6" fill="#1a1a1a">3</text><text x="56.7" y="100.3" font-family="Liberation Sans" font-size="8.2" fill="#1a1a1a" text-anchor="middle">10</text><text x="61.3" y="97.1" font-family="Liberation Sans" font-size="6" fill="#1a1a1a">4</text><text x="78.2" y="100.3" font-family="Liberation Sans" font-size="8.2" fill="#1a1a1a" text-anchor="middle">10</text><text x="82.8" y="97.1" font-family="Liberation Sans" font-size="6" fill="#1a1a1a">5</text></g><clipPath id="cp21"><rect x="0.6" y="0.6" width="86.8" height="86.8"/></clipPath><g transform="translate(187.5,292.6)"><g clip-path="url(#cp21)"><path transform="scale(0.1)" d="M639 175l9 0 24 7 11 6 4 7 5 23 23 24 12 28 15 15 3 8 -3 8 -14 18 -7 26 -1 15 7 22 1 10 -2 13 -11 23 -2 10 1 24 -2 43 -7 13 -23 15 -7 9 -13 50 4 50 -2 26 -8 22 -13 20 -13 12 -15 9 -17 6 -18 2 -18 -1 -17 -5 -17 -10 -18 -15 -10 -2 -65 3 -40 -1 -47 -4 -50 -8 -7 2 -16 19 -17 12 -20 7 -20 3 -16 -1 -17 -4 -17 -8 -13 -9 -12 -15 -7 -14 -3 -20 3 -18 7 -15 12 -14 15 -10 18 -8 27 -4 27 5 18 7 24 19 8 2 43 -8 37 -5 103 -1 12 -3 1 -10 -5 -27 0 -13 4 -13 11 -16 1 -14 -4 -12 -12 -18 -4 -10 -5 -47 6 -10 30 -15 4 -10 -9 -34 -15 -18 -1 -8 35 -22 11 -11 10 -29 18 -33 7 -27 8 -13 12 -9 28 -7 14 -12 7 -2zM594 212l8 -1 9 4 17 28 10 9 12 1 22 -7 8 -1 8 3 7 6 2 6 1 8 -10 27 -1 13 6 27 16 60 -1 10 -10 36 -2 57 -6 12 -22 15 -5 7 -4 28 -12 25 -2 10 0 13 5 34 -2 23 -7 20 -10 15 -11 10 -12 7 -13 5 -15 1 -25 -4 -13 -6 -11 -8 -8 -3 -83 4 -45 0 -50 -5 -47 -9 -11 3 -12 15 -15 12 -15 7 -15 4 -20 1 -18 -3 -17 -6 -15 -10 -11 -13 -8 -14 -3 -18 2 -18 9 -17 11 -12 15 -10 17 -6 26 -3 24 4 20 10 18 15 10 3 45 -10 40 -4 50 -2 70 1 11 -1 3 -2 2 -20 -3 -28 7 -20 1 -12 -5 -26 -11 -30 2 -22 -3 -18 4 -4 25 -15 7 -11 1 -10 -10 -27 2 -23 6 -10 14 -10 6 -7 11 -43 20 -27 2 -33 7 -10zM606 265l4 -2 5 0 30 10 7 0 18 -6 8 2 0 7 -10 14 -2 8 9 20 12 40 9 44 -7 43 -2 47 -7 13 -25 14 -4 6 2 23 -1 10 -16 27 -4 13 6 44 0 20 -6 18 -11 15 -11 9 -10 5 -22 3 -16 -2 -21 -10 -9 -1 -87 5 -47 0 -48 -4 -48 -10 -10 -1 -7 3 -15 18 -15 11 -17 7 -20 3 -18 -1 -15 -4 -15 -8 -10 -8 -10 -12 -7 -16 -1 -14 2 -16 8 -14 10 -12 16 -10 17 -7 23 -2 22 4 20 9 20 16 10 3 48 -11 42 -5 52 -1 73 3 15 -4 8 -23 2 -18 -3 -38 -13 -47 0 -10 2 -10 15 -33 13 -20 4 -10 0 -10 -10 -22 0 -10 2 -6 4 -4 16 -4 5 -4 3 -7 3 -33 4 -12 7 -10 24 -25zM607 282l10 -2 11 4 14 20 18 12 5 6 16 40 1 30 5 26 -4 32 -1 30 -3 12 -9 11 -26 9 -8 8 1 8 8 14 1 10 -4 10 -14 18 -6 12 -1 13 7 33 1 17 -5 20 -12 15 -14 9 -16 4 -12 -1 -20 -6 -12 -1 -83 6 -40 1 -60 -4 -53 -11 -10 -1 -10 5 -13 17 -14 10 -17 7 -20 4 -18 -2 -15 -4 -13 -7 -12 -10 -8 -11 -6 -15 -1 -15 3 -15 7 -12 13 -13 14 -9 16 -5 20 -1 22 3 18 9 20 16 12 4 51 -12 43 -5 54 -1 74 3 13 -1 5 -2 14 -32 3 -14 -22 -68 -4 -15 1 -10 33 -65 1 -15 -5 -23 0 -4 4 -4 15 -5 6 -7 2 -10 1 -30 3 -14 8 -13 17 -13zM606 292l9 -1 7 3 14 16 19 14 7 8 13 30 1 10 -4 26 8 17 1 10 -4 53 -5 14 -10 9 -27 7 -8 10 0 10 11 17 1 7 -4 8 -19 20 -6 12 1 13 8 30 2 17 -5 18 -8 13 -13 8 -13 3 -42 -2 -118 8 -67 -4 -60 -13 -13 5 -17 20 -13 9 -14 6 -18 3 -15 0 -17 -5 -16 -7 -10 -9 -9 -13 -5 -12 -1 -15 4 -15 7 -12 12 -12 12 -7 16 -5 22 -2 20 4 18 8 20 17 14 4 50 -13 38 -4 58 -2 82 4 12 -1 8 -4 19 -33 2 -14 -2 -8 -12 -15 -5 -10 -13 -37 -1 -21 4 -11 27 -38 3 -13 2 -37 17 -18 5 -10 -1 -30 3 -18 7 -12 11 -8zM605 300l7 -2 8 3 15 16 17 13 14 20 5 10 1 10 -8 30 1 5 10 15 1 10 -3 45 -3 13 -8 8 -27 7 -7 4 -6 5 -3 8 -1 8 3 7 8 13 0 4 -4 7 -18 16 -9 15 0 10 12 30 3 18 -2 17 -9 13 -10 6 -12 3 -155 11 -35 -1 -38 -4 -54 -14 -8 2 -10 6 -15 18 -13 10 -14 6 -18 3 -18 0 -14 -5 -14 -7 -11 -10 -9 -12 -4 -12 -1 -13 4 -15 8 -12 10 -10 14 -8 15 -5 20 -1 20 4 15 7 23 18 17 6 49 -14 36 -5 58 -2 84 4 18 -1 7 -3 23 -30 4 -8 0 -8 -4 -12 -18 -17 -5 -8 -13 -35 -2 -20 6 -12 24 -30 4 -8 2 -48 23 -30 1 -7 -2 -25 2 -12 4 -10 9 -8zM606 305l6 -1 6 2 14 14 16 11 10 11 9 16 2 7 -1 10 -9 23 -1 7 2 5 10 12 2 6 -1 37 -2 17 -7 10 -7 3 -23 6 -12 9 -7 15 3 23 -2 4 -16 16 -10 3 -26 -14 -10 -9 -14 -36 -3 -17 6 -15 29 -38 2 -10 -3 -22 2 -15 4 -7 21 -26 1 -7 -2 -20 1 -15 4 -10 6 -5zM578 608l10 0 10 10 7 17 3 17 -3 13 -7 10 -10 6 -13 3 -123 10 -47 1 -49 -5 -22 -5 -27 -10 -7 -1 -20 11 -15 18 -13 10 -17 8 -20 2 -23 -3 -19 -10 -14 -15 -7 -17 0 -20 4 -10 7 -10 17 -14 22 -8 21 -1 19 5 14 8 22 17 12 6 10 3 37 -14 46 -8 49 -1 83 3 30 -2 7 -2 13 -14 13 -8zM607 310l8 0 33 25 11 13 7 12 0 15 -12 23 -2 10 2 7 11 8 4 7 1 12 -2 28 -2 12 -6 8 -8 4 -22 5 -12 9 -8 12 -4 22 -4 8 -10 8 -10 2 -17 -6 -11 -9 -13 -33 -3 -17 5 -12 25 -31 5 -10 2 -10 -3 -22 1 -12 4 -10 19 -20 5 -8 1 -8 -3 -17 0 -13 3 -7 5 -5zM200 618l25 -1 23 7 43 31 6 7 -1 6 -21 20 -14 17 -19 12 -14 4 -16 1 -14 -2 -16 -5 -14 -11 -11 -14 -4 -15 0 -15 6 -15 10 -13 13 -8 18 -6zM572 620l10 -2 10 6 8 14 2 17 -3 10 -7 8 -10 6 -14 4 -36 4 -70 3 -69 0 -36 -5 -18 -5 -15 -8 -7 -7 2 -7 10 -8 13 -5 21 -5 49 -5 133 0 13 -3 14 -12zM610 312l7 3 31 22 10 11 7 12 0 15 -14 25 -2 10 3 8 11 7 5 8 1 15 -2 24 -3 10 -6 8 -28 8 -11 7 -9 12 -11 31 -9 7 -12 1 -16 -5 -8 -9 -13 -32 -1 -15 5 -13 24 -30 6 -10 1 -10 -3 -22 1 -12 5 -10 19 -20 5 -8 1 -8 -3 -27 4 -10 5 -3zM204 618l24 0 20 6 38 28 7 10 0 6 -3 4 -15 15 -13 16 -12 9 -12 6 -26 4 -24 -6 -12 -6 -9 -8 -8 -10 -4 -10 -2 -10 1 -12 3 -10 6 -10 17 -14 24 -8zM572 625l10 -2 8 5 7 12 2 15 -2 10 -7 7 -8 6 -12 3 -24 4 -31 2 -87 -2 -19 -3 -16 -4 -6 -6 -2 -4 -1 -10 3 -8 9 -5 11 -3 42 -4 101 -3 11 -3 11 -7zM608 318l7 -1 30 20 11 11 7 12 2 8 -1 7 -15 25 -3 12 3 8 13 9 4 6 1 13 -1 24 -3 10 -5 6 -30 9 -11 8 -9 13 -10 24 -6 8 -7 3 -10 1 -13 -5 -8 -9 -11 -30 -1 -15 5 -13 23 -29 6 -11 2 -10 -4 -22 1 -12 5 -10 20 -21 5 -7 2 -8 -3 -24 1 -6 3 -4zM209 618l21 1 18 6 36 27 7 10 -2 10 -29 33 -12 8 -18 6 -25 1 -24 -8 -17 -14 -7 -10 -3 -10 1 -20 4 -10 7 -10 19 -14 24 -6zM573 630l9 -1 8 5 5 11 1 13 -2 7 -7 7 -9 6 -13 3 -43 4 -39 -3 -7 -2 -5 -5 -7 -23 0 -7 14 -5 77 -4 7 -1 11 -5zM616 332l4 -1 5 1 17 8 13 10 6 10 1 8 -1 7 -16 24 -4 16 4 10 13 8 4 6 2 13 -1 20 -3 9 -5 5 -27 9 -10 5 -11 12 -16 30 -9 6 -10 1 -10 -4 -5 -7 -11 -28 0 -15 6 -13 20 -28 7 -12 1 -12 -4 -22 2 -13 7 -10 24 -23 3 -7 4 -23zM200 620l22 -1 23 6 10 6 26 21 5 8 1 8 -4 7 -23 27 -15 11 -13 5 -12 2 -25 -3 -13 -5 -9 -7 -8 -8 -6 -9 -3 -10 -1 -13 2 -10 5 -10 16 -16 22 -9zM519 640l59 0 7 5 4 5 1 8 -1 4 -9 11 -20 7 -28 3 -23 -3 -9 -5 -3 -5 -2 -10 0 -10 3 -5 4 -2 17 -3zM629 342l9 1 10 5 7 8 4 9 -2 13 -17 22 -4 18 3 10 16 12 4 5 2 13 -2 14 -4 8 -5 4 -22 7 -13 7 -12 12 -17 28 -8 4 -8 0 -7 -4 -5 -8 -6 -18 -2 -12 6 -15 22 -34 4 -11 1 -10 -5 -22 2 -10 10 -15 24 -18 9 -17 6 -6zM197 622l23 -2 20 5 15 9 26 24 2 7 -3 10 -20 25 -12 10 -23 7 -25 -1 -12 -4 -10 -6 -8 -6 -7 -10 -5 -10 -1 -10 1 -10 4 -10 6 -10 8 -8 21 -10zM537 642l21 1 14 3 8 6 2 6 0 4 -10 10 -14 5 -20 2 -16 -4 -7 -7 -2 -8 0 -8 4 -4 5 -3 15 -3zM633 350l7 0 8 4 4 5 3 6 -1 10 -18 23 -5 22 3 10 16 13 5 7 1 10 -2 12 -3 6 -6 4 -20 6 -13 7 -13 13 -17 22 -7 4 -5 0 -5 -5 -5 -9 -4 -18 8 -22 16 -27 6 -15 1 -10 -6 -20 1 -10 8 -12 28 -18 10 -14 5 -4zM208 622l20 1 18 7 27 22 6 10 0 8 -3 5 -17 23 -12 10 -17 6 -22 2 -23 -7 -16 -14 -9 -17 -1 -10 2 -10 9 -17 18 -13 20 -6zM541 648l13 0 11 2 6 5 1 7 -4 6 -13 4 -13 1 -7 -3 -6 -8 -1 -7 5 -5 8 -2zM634 358l6 -2 5 2 5 5 1 7 -2 5 -14 17 -8 21 -1 9 5 10 18 18 3 10 -2 10 -8 8 -20 7 -12 7 -12 10 -16 18 -4 3 -6 0 -7 -8 -2 -13 7 -24 15 -30 5 -13 0 -7 -6 -20 1 -10 10 -13 25 -13 14 -14zM205 625l20 0 17 6 25 19 8 10 1 5 -2 7 -13 20 -10 10 -13 8 -23 4 -22 -4 -18 -11 -11 -17 -2 -10 0 -10 8 -17 15 -13 20 -7zM550 660l2 -1 3 1 -5 0zM636 370l4 -2 1 2 -9 9 -11 43 3 8 20 22 2 8 -1 8 -7 7 -25 10 -28 19 -7 3 -4 -2 -2 -5 2 -20 18 -40 2 -10 -7 -22 1 -10 4 -7 8 -6 10 -4 20 -4 6 -7zM207 628l18 0 17 6 23 18 6 10 -1 10 -13 20 -11 10 -14 7 -20 2 -20 -4 -16 -12 -9 -15 -1 -18 6 -15 16 -13 19 -6zM618 380l10 -1 2 3 -3 16 -6 20 0 7 4 7 17 18 3 8 0 7 -2 5 -5 4 -23 9 -30 20 -7 2 -3 -2 -2 -5 2 -18 20 -50 -7 -20 0 -10 4 -8 6 -5 10 -5 10 -2zM210 628l18 1 14 5 23 18 6 10 -1 10 -16 23 -12 9 -14 6 -20 1 -19 -6 -15 -13 -8 -14 0 -18 9 -16 15 -11 20 -5zM603 388l12 -3 5 2 2 3 0 10 -8 20 0 5 23 25 3 8 0 4 -3 6 -5 4 -44 19 -6 -3 -1 -13 20 -47 -10 -18 0 -8 4 -9 8 -5zM200 632l18 -2 17 4 13 8 16 16 3 7 -2 7 -13 20 -9 8 -18 7 -20 0 -18 -7 -12 -12 -6 -16 3 -17 10 -14 18 -9zM602 392l10 -1 3 1 2 6 -4 12 -8 5 -7 -4 -3 -6 1 -7 6 -6zM605 435l7 -1 10 7 9 9 3 10 -2 5 -7 5 -25 11 -7 1 -6 -4 1 -13 9 -20 8 -10zM209 635l13 0 15 5 16 12 7 10 -1 10 -9 16 -10 8 -12 6 -18 1 -15 -4 -13 -9 -7 -12 0 -16 6 -12 12 -10 16 -5zM602 392l10 -1 3 1 2 6 -4 12 -8 5 -7 -4 -3 -6 2 -7 5 -6zM605 435l7 0 12 7 9 10 1 8 -2 5 -7 5 -25 11 -8 1 -5 -4 1 -13 9 -20 8 -10zM209 635l13 0 15 5 16 12 7 10 -1 10 -9 16 -10 8 -12 6 -18 1 -15 -4 -13 -9 -7 -12 0 -16 6 -12 12 -10 16 -5zM604 398l4 -1 2 3 -2 5 -3 1 -3 0 -1 -4 3 -4zM607 440l8 1 7 5 6 6 0 8 -4 5 -10 5 -12 4 -7 0 -3 -6 2 -10 6 -12 7 -6zM202 642l13 -2 13 2 10 6 12 11 3 6 -1 5 -7 12 -6 8 -14 7 -15 1 -15 -6 -8 -7 -6 -13 1 -12 8 -11 12 -7zM606 445l6 -1 6 2 5 6 1 6 -4 4 -5 4 -15 3 -3 -1 0 -8 3 -9 6 -6zM209 650l11 0 8 2 7 6 5 6 0 6 -3 8 -5 4 -7 5 -10 2 -9 -1 -8 -6 -5 -7 -1 -7 3 -9 7 -7 7 -2zM607 445l5 -1 6 3 4 5 1 6 -8 7 -10 4 -5 -1 -3 -3 1 -7 3 -8 6 -5zM212 652l14 3 7 5 3 5 0 5 -3 8 -11 7 -10 1 -7 -2 -5 -4 -5 -8 0 -5 3 -7 6 -5 8 -3z" fill="none" stroke="#000" stroke-width="5.5" stroke-linejoin="round"/><circle cx="25.2" cy="40.7" r="0.4" fill="#999"/><circle cx="31.9" cy="44.6" r="0.4" fill="#999"/><circle cx="70.9" cy="18.1" r="0.4" fill="#999"/><circle cx="66.6" cy="17.3" r="0.4" fill="#999"/><circle cx="58.5" cy="16.6" r="0.4" fill="#999"/></g><line x1="31.7" y1="0.5" x2="31.7" y2="87.5" stroke="#4a5aa8" stroke-width="1"/><line x1="0.5" y1="59" x2="87.5" y2="59" stroke="#4a5aa8" stroke-width="1"/><rect x="0.6" y="0.6" width="86.8" height="86.8" fill="none" stroke="#000" stroke-width="1.2"/><path d="M0,9h-2.8M0,29h-2.8M0,52.5h-2.8M0,68.8h-2.8M0,83.3h-2.8M0,22.98h-1.6M0,19.46h-1.6M0,16.96h-1.6M0,15.02h-1.6M0,13.44h-1.6M0,12.1h-1.6M0,10.94h-1.6M0,9.92h-1.6M0,45.43h-1.6M0,41.29h-1.6M0,38.35h-1.6M0,36.07h-1.6M0,34.21h-1.6M0,32.64h-1.6M0,31.28h-1.6M0,30.08h-1.6M0,57h-1.6M0,61h-1.6M0,65h-1.6M0,72.5h-1.6M0,76.5h-1.6M0,80h-1.6M0,83.3h-1.6M20.8,88.0v2.8M31.7,88.0v2.8M57,88.0v2.8M78.5,88.0v2.8M10,88.0v2.8M39.32,88.0v1.6M43.77,88.0v1.6M46.93,88.0v1.6M49.38,88.0v1.6M51.39,88.0v1.6M53.08,88.0v1.6M54.55,88.0v1.6M55.84,88.0v1.6M63.47,88.0v1.6M67.26,88.0v1.6M69.94,88.0v1.6M72.03,88.0v1.6M73.73,88.0v1.6M75.17,88.0v1.6M76.42,88.0v1.6M77.52,88.0v1.6M24.5,88.0v1.6M28,88.0v1.6M17,88.0v1.6M13.5,88.0v1.6M10,88.0v1.6M6.5,88.0v1.6M3.5,88.0v1.6M83.5,88.0v1.6M86,88.0v1.6" stroke="#111" stroke-width="0.8" fill="none"/><text x="2.6" y="7.8" font-family="Liberation Sans" font-size="7.3" fill="#5565b0">0.917</text><text x="85.6" y="7.8" font-family="Liberation Sans" font-size="7.3" fill="#5565b0" text-anchor="end">36.2</text><text x="2.6" y="85.3" font-family="Liberation Sans" font-size="7.3" fill="#5565b0">37.2</text><text x="85.6" y="85.3" font-family="Liberation Sans" font-size="7.3" fill="#5565b0" text-anchor="end">25.7</text><text x="-9.0" y="11.6" font-family="Liberation Sans" font-size="8.2" fill="#1a1a1a" text-anchor="end">10</text><text x="-8.9" y="8.3" font-family="Liberation Sans" font-size="6" fill="#1a1a1a">5</text><text x="-9.0" y="31.6" font-family="Liberation Sans" font-size="8.2" fill="#1a1a1a" text-anchor="end">10</text><text x="-8.9" y="28.3" font-family="Liberation Sans" font-size="6" fill="#1a1a1a">4</text><text x="-9.0" y="55.1" font-family="Liberation Sans" font-size="8.2" fill="#1a1a1a" text-anchor="end">10</text><text x="-8.9" y="51.8" font-family="Liberation Sans" font-size="6" fill="#1a1a1a">3</text><text x="-5.8" y="71.7" font-family="Liberation Sans" font-size="8.2" fill="#1a1a1a" text-anchor="end">0</text><text x="20.8" y="100.3" font-family="Liberation Sans" font-size="8.2" fill="#1a1a1a" text-anchor="middle">0</text><text x="31.4" y="100.3" font-family="Liberation Sans" font-size="8.2" fill="#1a1a1a" text-anchor="middle">10</text><text x="36" y="97.1" font-family="Liberation Sans" font-size="6" fill="#1a1a1a">3</text><text x="56.7" y="100.3" font-family="Liberation Sans" font-size="8.2" fill="#1a1a1a" text-anchor="middle">10</text><text x="61.3" y="97.1" font-family="Liberation Sans" font-size="6" fill="#1a1a1a">4</text><text x="78.2" y="100.3" font-family="Liberation Sans" font-size="8.2" fill="#1a1a1a" text-anchor="middle">10</text><text x="82.8" y="97.1" font-family="Liberation Sans" font-size="6" fill="#1a1a1a">5</text></g><clipPath id="cp22"><rect x="0.6" y="0.6" width="86.8" height="86.8"/></clipPath><g transform="translate(306.5,292.6)"><g clip-path="url(#cp22)"><path transform="scale(0.1)" d="M622 300l6 3 4 8 13 31 11 23 3 10 -1 10 -8 27 -4 28 4 42 -6 36 6 37 14 43 24 37 6 13 2 10 -1 12 -4 12 -9 13 -13 13 -21 14 -26 12 -24 7 -28 3 -80 -7 -110 -4 -40 -4 -55 -9 -15 2 -42 17 -18 3 -18 1 -20 -4 -14 -5 -16 -9 -13 -13 -8 -12 -6 -15 -2 -15 1 -15 5 -15 10 -15 11 -11 15 -10 20 -8 23 -3 14 1 60 13 23 -2 50 -22 30 -2 10 -3 7 -5 13 -18 7 -6 78 -17 40 -30 8 -9 6 -13 6 -18 3 -14 -1 -36 -9 -32 1 -12 11 -13 25 -19 21 -14 17 -20 4 -2zM609 338l11 -2 6 4 10 20 4 15 -4 43 -11 32 8 25 -8 37 6 30 2 28 11 30 24 35 6 20 0 13 -5 12 -8 12 -13 13 -18 11 -20 9 -20 4 -25 2 -75 -6 -108 -4 -37 -5 -47 -10 -10 -1 -13 4 -40 22 -17 5 -18 2 -20 -2 -18 -5 -17 -11 -13 -12 -7 -13 -5 -15 -1 -15 2 -15 6 -12 9 -13 14 -12 12 -7 23 -7 20 -1 35 9 38 15 17 -1 22 -7 35 -17 38 -6 10 -8 12 -18 8 -5 32 0 46 -9 7 -5 12 -16 8 -6 13 -5 22 -5 8 -4 23 -40 1 -6 -23 -42 -14 -37 0 -13 5 -8 12 -10 16 -8 21 -8zM598 350l12 -2 8 3 5 7 3 12 1 48 -7 13 -10 5 -15 -2 -11 -9 -19 -35 -3 -10 2 -10 6 -7 12 -8 16 -5zM601 492l9 -1 3 4 4 25 7 25 4 40 9 23 20 30 5 20 -3 17 -9 15 -15 13 -20 11 -23 7 -27 3 -77 -7 -81 -2 -55 -7 -60 -14 -10 2 -30 23 -17 9 -20 6 -20 1 -23 -3 -17 -8 -17 -14 -11 -18 -4 -12 -1 -12 1 -13 5 -13 15 -19 12 -10 13 -6 24 -6 26 3 27 8 33 19 12 3 32 -9 40 -17 30 -8 10 -7 13 -17 7 -6 8 0 28 6 27 -6 10 0 25 6 2 -1 3 -5 -3 -22 6 -12 10 -6 35 -8 7 -5 12 -18 9 -7zM594 358l14 0 4 3 4 7 -1 24 3 20 -2 8 -6 4 -8 0 -7 -4 -26 -38 0 -7 5 -7 8 -7 12 -3zM596 515l4 -2 5 2 11 23 4 12 0 30 3 15 6 15 19 30 5 18 -3 14 -9 16 -14 12 -19 10 -23 6 -25 2 -75 -8 -90 -5 -50 -8 -50 -18 -7 3 -26 26 -20 14 -22 9 -25 2 -23 -4 -17 -8 -16 -13 -11 -18 -4 -22 2 -13 5 -13 6 -10 9 -10 12 -8 12 -6 15 -4 13 -1 32 6 24 11 34 27 10 2 50 -22 47 -17 10 -8 13 -15 7 -6 7 0 26 5 30 -1 24 6 16 -2 5 -4 4 -7 -2 -28 4 -8 9 -5 32 -9 16 -13zM588 365l12 -1 7 6 -2 12 -7 9 -6 1 -7 -3 -6 -4 -3 -5 2 -8 10 -7zM591 530l7 -2 4 1 11 13 3 16 -1 30 2 12 6 12 16 26 6 14 -1 16 -6 12 -11 12 -15 10 -22 8 -28 3 -80 -10 -84 -5 -30 -5 -23 -6 -18 -9 -9 -10 1 -10 10 -10 23 -13 48 -18 9 -7 12 -15 7 -5 7 0 20 4 43 6 20 -1 14 -4 7 -5 4 -8 0 -27 3 -7 9 -7 36 -11zM194 605l28 4 28 11 12 10 12 12 8 13 2 7 -1 10 -4 10 -9 13 -11 13 -24 16 -27 7 -28 -1 -12 -4 -13 -7 -11 -9 -8 -10 -7 -12 -3 -13 0 -13 3 -12 7 -12 8 -10 11 -10 13 -7 14 -5 12 -1zM586 538l14 -1 5 3 6 8 2 17 -4 27 0 8 4 10 19 28 5 14 0 13 -5 13 -10 10 -12 9 -15 6 -15 4 -35 -1 -63 -10 -91 -8 -29 -9 -10 -5 -5 -6 -1 -6 1 -4 7 -8 13 -8 43 -16 8 -7 8 -14 6 -4 10 1 20 9 23 3 15 -2 38 -12 6 -5 4 -7 1 -28 3 -9 10 -7 24 -6zM186 608l12 -2 14 2 30 10 11 7 10 10 13 20 2 10 -1 10 -10 20 -19 19 -23 12 -15 3 -15 1 -13 -1 -14 -5 -13 -7 -10 -8 -9 -11 -5 -10 -3 -13 0 -13 3 -12 7 -12 8 -10 12 -10 12 -6 16 -4zM580 543l18 -2 4 2 6 7 2 10 0 10 -9 30 3 7 20 28 7 15 0 12 -3 10 -7 10 -11 10 -12 6 -16 4 -17 1 -17 -1 -76 -15 -65 -9 -16 -6 -10 -7 0 -5 3 -5 26 -13 18 -5 24 -4 40 -9 51 -19 7 -6 4 -7 -1 -27 3 -10 8 -7 16 -5zM180 610l25 -2 30 8 21 14 15 20 4 18 -1 10 -4 10 -15 19 -20 14 -15 5 -12 3 -16 0 -14 -3 -13 -4 -13 -8 -10 -10 -7 -12 -5 -12 -1 -12 2 -13 5 -13 7 -10 12 -11 13 -7 12 -4zM585 545l7 0 8 2 5 5 2 6 0 7 -2 10 -13 20 -2 5 4 8 22 24 8 16 2 10 -1 7 -9 15 -11 9 -13 6 -17 4 -17 0 -20 -3 -23 -6 -27 -10 -18 -10 -4 -5 -2 -7 2 -6 8 -7 44 -23 30 -11 12 -8 4 -8 -7 -23 1 -12 3 -5 6 -5 18 -5zM185 610l13 -1 14 1 28 10 19 15 12 20 1 10 0 10 -9 20 -17 17 -21 12 -13 3 -14 1 -16 -2 -12 -3 -12 -7 -10 -8 -9 -10 -5 -10 -3 -13 0 -13 3 -12 5 -10 8 -10 11 -9 12 -7 15 -4zM587 550l8 1 5 4 3 7 -1 8 -4 8 -6 4 -7 3 -7 0 -6 -2 -5 -5 -3 -8 1 -8 7 -8 15 -4zM181 612l24 -1 27 7 19 12 14 18 5 17 -1 10 -3 10 -14 20 -20 14 -12 5 -15 2 -15 0 -12 -2 -13 -5 -13 -8 -9 -11 -6 -10 -4 -12 -1 -13 2 -10 5 -13 8 -10 10 -9 24 -11zM568 615l10 -1 10 3 12 9 10 12 5 10 2 10 -3 10 -7 10 -9 7 -10 4 -26 3 -30 -6 -14 -6 -10 -8 -5 -7 -2 -7 3 -8 6 -8 18 -12 40 -15zM581 560l7 -1 4 3 1 6 -3 3 -8 2 -5 -3 -1 -5 5 -5zM192 612l13 1 15 3 22 10 16 16 6 10 2 10 0 10 -2 10 -5 10 -8 10 -19 15 -22 7 -25 0 -15 -5 -10 -5 -17 -16 -5 -10 -3 -13 -1 -10 3 -13 5 -10 7 -10 21 -14 22 -6zM566 630l12 -1 10 4 8 7 6 10 0 10 -3 8 -8 7 -11 5 -15 1 -15 -2 -12 -7 -8 -10 0 -10 5 -7 11 -7 20 -8zM182 618l20 -2 23 5 17 10 14 17 6 17 -1 10 -3 10 -12 17 -16 12 -12 5 -13 2 -25 -2 -12 -5 -10 -6 -9 -8 -6 -10 -4 -10 -1 -12 1 -10 5 -13 7 -10 9 -7 22 -10zM185 625l17 -1 20 5 16 9 10 14 3 18 -3 15 -10 14 -16 10 -20 5 -22 -3 -18 -9 -7 -8 -5 -9 -3 -10 0 -10 6 -17 12 -14 20 -9zM189 630l16 0 17 5 13 10 8 13 1 14 -4 14 -10 12 -15 8 -20 2 -17 -4 -14 -9 -9 -15 -2 -18 7 -14 12 -12 17 -6zM190 635l15 0 15 5 10 8 7 12 1 12 -4 13 -9 10 -13 6 -14 3 -16 -3 -13 -9 -8 -12 -2 -15 4 -13 12 -11 15 -6zM188 640l12 -1 12 2 10 6 8 8 3 10 -1 13 -6 10 -8 6 -13 5 -15 0 -14 -7 -9 -10 -4 -12 3 -12 9 -12 13 -6zM187 642l11 -1 12 2 10 5 7 7 4 10 -1 10 -5 10 -7 7 -13 5 -15 -1 -12 -5 -8 -9 -4 -10 1 -12 8 -11 12 -7zM186 645l12 -2 10 1 10 4 6 7 4 7 1 10 -5 10 -6 7 -13 6 -13 0 -12 -5 -8 -8 -4 -10 2 -12 5 -8 11 -7zM193 648l9 -1 9 3 7 5 5 7 1 8 -2 8 -7 7 -7 4 -10 2 -10 -2 -10 -7 -4 -7 0 -10 3 -7 8 -8 8 -2zM194 648l9 0 9 3 8 7 3 7 0 7 -3 8 -8 7 -7 3 -10 1 -10 -4 -7 -6 -4 -9 0 -7 4 -8 7 -6 9 -3zM191 652l14 0 11 8 2 5 0 7 -3 7 -5 4 -8 3 -7 0 -7 -2 -7 -6 -3 -8 2 -8 5 -6 6 -4zM190 658l10 -3 10 4 4 9 -3 10 -6 3 -7 2 -8 -2 -4 -3 -3 -10 1 -6 6 -4zM195 658l10 0 6 7 0 7 -6 7 -12 1 -8 -8 0 -4 2 -6 8 -4z" fill="none" stroke="#000" stroke-width="5.5" stroke-linejoin="round"/><circle cx="22.4" cy="18.2" r="0.4" fill="#999"/><circle cx="25.2" cy="18.7" r="0.4" fill="#999"/><circle cx="55.8" cy="14.8" r="0.4" fill="#999"/><circle cx="47.3" cy="18.5" r="0.4" fill="#999"/></g><line x1="31.7" y1="0.5" x2="31.7" y2="87.5" stroke="#4a5aa8" stroke-width="1"/><line x1="0.5" y1="59" x2="87.5" y2="59" stroke="#4a5aa8" stroke-width="1"/><rect x="0.6" y="0.6" width="86.8" height="86.8" fill="none" stroke="#000" stroke-width="1.2"/><path d="M0,9h-2.8M0,29h-2.8M0,52.5h-2.8M0,68.8h-2.8M0,83.3h-2.8M0,22.98h-1.6M0,19.46h-1.6M0,16.96h-1.6M0,15.02h-1.6M0,13.44h-1.6M0,12.1h-1.6M0,10.94h-1.6M0,9.92h-1.6M0,45.43h-1.6M0,41.29h-1.6M0,38.35h-1.6M0,36.07h-1.6M0,34.21h-1.6M0,32.64h-1.6M0,31.28h-1.6M0,30.08h-1.6M0,57h-1.6M0,61h-1.6M0,65h-1.6M0,72.5h-1.6M0,76.5h-1.6M0,80h-1.6M0,83.3h-1.6M20.8,88.0v2.8M31.7,88.0v2.8M57,88.0v2.8M78.5,88.0v2.8M10,88.0v2.8M39.32,88.0v1.6M43.77,88.0v1.6M46.93,88.0v1.6M49.38,88.0v1.6M51.39,88.0v1.6M53.08,88.0v1.6M54.55,88.0v1.6M55.84,88.0v1.6M63.47,88.0v1.6M67.26,88.0v1.6M69.94,88.0v1.6M72.03,88.0v1.6M73.73,88.0v1.6M75.17,88.0v1.6M76.42,88.0v1.6M77.52,88.0v1.6M24.5,88.0v1.6M28,88.0v1.6M17,88.0v1.6M13.5,88.0v1.6M10,88.0v1.6M6.5,88.0v1.6M3.5,88.0v1.6M83.5,88.0v1.6M86,88.0v1.6" stroke="#111" stroke-width="0.8" fill="none"/><text x="2.6" y="7.8" font-family="Liberation Sans" font-size="7.3" fill="#5565b0">0.41</text><text x="85.6" y="7.8" font-family="Liberation Sans" font-size="7.3" fill="#5565b0" text-anchor="end">11.3</text><text x="2.6" y="85.3" font-family="Liberation Sans" font-size="7.3" fill="#5565b0">64.5</text><text x="85.6" y="85.3" font-family="Liberation Sans" font-size="7.3" fill="#5565b0" text-anchor="end">23.8</text><text x="-9.0" y="11.6" font-family="Liberation Sans" font-size="8.2" fill="#1a1a1a" text-anchor="end">10</text><text x="-8.9" y="8.3" font-family="Liberation Sans" font-size="6" fill="#1a1a1a">5</text><text x="-9.0" y="31.6" font-family="Liberation Sans" font-size="8.2" fill="#1a1a1a" text-anchor="end">10</text><text x="-8.9" y="28.3" font-family="Liberation Sans" font-size="6" fill="#1a1a1a">4</text><text x="-9.0" y="55.1" font-family="Liberation Sans" font-size="8.2" fill="#1a1a1a" text-anchor="end">10</text><text x="-8.9" y="51.8" font-family="Liberation Sans" font-size="6" fill="#1a1a1a">3</text><text x="-5.8" y="71.7" font-family="Liberation Sans" font-size="8.2" fill="#1a1a1a" text-anchor="end">0</text><text x="20.8" y="100.3" font-family="Liberation Sans" font-size="8.2" fill="#1a1a1a" text-anchor="middle">0</text><text x="31.4" y="100.3" font-family="Liberation Sans" font-size="8.2" fill="#1a1a1a" text-anchor="middle">10</text><text x="36" y="97.1" font-family="Liberation Sans" font-size="6" fill="#1a1a1a">3</text><text x="56.7" y="100.3" font-family="Liberation Sans" font-size="8.2" fill="#1a1a1a" text-anchor="middle">10</text><text x="61.3" y="97.1" font-family="Liberation Sans" font-size="6" fill="#1a1a1a">4</text><text x="78.2" y="100.3" font-family="Liberation Sans" font-size="8.2" fill="#1a1a1a" text-anchor="middle">10</text><text x="82.8" y="97.1" font-family="Liberation Sans" font-size="6" fill="#1a1a1a">5</text></g><clipPath id="cp23"><rect x="0.6" y="0.6" width="86.8" height="86.8"/></clipPath><g transform="translate(425.5,292.6)"><g clip-path="url(#cp23)"><path transform="scale(0.1)" d="M215 620l17 -2 20 3 20 8 30 20 13 6 17 4 73 8 16 5 2 6 -9 4 -14 4 -82 10 -16 7 -30 20 -20 8 -22 3 -20 -3 -20 -9 -16 -14 -8 -16 -3 -20 3 -14 12 -18 17 -13 20 -7zM229 625l23 3 20 10 19 20 5 10 2 7 -4 15 -17 20 -19 12 -23 5 -25 -3 -20 -11 -14 -15 -5 -20 1 -10 3 -10 13 -17 20 -12 21 -4zM223 633l19 0 18 7 15 12 8 16 0 14 -6 16 -15 13 -17 7 -20 2 -20 -6 -16 -12 -5 -7 -4 -10 -1 -10 2 -10 8 -15 13 -11 21 -6zM220 638l18 -1 14 4 16 11 8 13 1 15 -4 12 -11 13 -12 7 -20 3 -20 -4 -15 -10 -9 -13 -1 -18 6 -15 14 -12 15 -5zM228 640l14 1 16 7 10 12 5 12 -1 13 -8 13 -12 9 -17 5 -15 -1 -15 -6 -10 -10 -6 -15 1 -15 8 -13 14 -9 16 -3zM216 645l14 -2 12 1 13 6 10 10 4 10 0 12 -5 10 -9 10 -15 6 -18 1 -14 -6 -11 -11 -5 -12 2 -15 8 -12 14 -8zM217 648l13 -3 12 2 10 5 9 8 5 10 0 10 -4 10 -10 10 -14 6 -16 0 -14 -6 -9 -10 -4 -12 2 -13 8 -11 12 -6zM230 648l12 1 11 6 8 10 3 10 -2 10 -7 10 -10 7 -13 2 -12 -1 -12 -5 -8 -10 -3 -10 2 -10 6 -10 10 -7 15 -3zM225 650l13 0 10 4 7 6 5 10 1 10 -3 8 -8 8 -10 5 -12 1 -13 -3 -9 -7 -6 -10 0 -10 4 -10 8 -8 13 -4zM219 652l11 -2 10 2 10 5 6 5 3 8 1 10 -3 8 -7 7 -10 5 -12 1 -13 -3 -10 -8 -4 -10 1 -12 8 -10 9 -6zM223 652l9 0 10 2 10 6 5 8 2 10 -2 7 -6 7 -9 6 -10 2 -12 -1 -10 -6 -6 -8 -2 -10 3 -10 7 -8 11 -5zM220 655l10 -2 10 2 8 4 6 6 3 7 -1 8 -3 8 -5 5 -10 5 -13 0 -10 -3 -8 -7 -3 -10 1 -9 6 -9 9 -5zM220 655l10 -2 10 2 8 4 5 6 3 7 0 8 -3 8 -5 5 -10 5 -13 0 -10 -4 -7 -6 -4 -10 2 -10 6 -8 8 -5zM219 658l8 -3 8 0 7 3 8 6 4 6 1 8 -3 7 -4 6 -10 5 -10 1 -10 -3 -8 -6 -4 -8 1 -10 5 -8 7 -4zM221 658l9 -2 8 1 7 3 5 5 3 7 0 8 -3 7 -5 5 -10 4 -10 0 -8 -4 -7 -6 -3 -8 1 -8 5 -8 8 -4zM225 658l7 -1 8 2 8 5 3 6 0 12 -3 6 -8 5 -8 2 -10 -1 -7 -4 -6 -8 -1 -7 2 -7 5 -6 10 -4zM222 660l8 -1 8 1 10 8 2 4 0 8 -8 10 -7 3 -7 0 -8 -2 -7 -6 -3 -7 1 -8 4 -5 7 -5zM222 660l8 -1 8 1 10 8 2 4 0 8 -8 10 -7 3 -7 0 -8 -2 -7 -6 -3 -7 1 -8 4 -5 7 -5zM221 662l7 -1 7 0 10 6 3 11 -6 9 -7 4 -7 0 -8 -2 -5 -4 -2 -5 0 -8 2 -4 6 -6zM224 662l11 0 10 7 2 9 -2 4 -4 6 -6 2 -7 0 -8 -2 -5 -5 -2 -5 2 -8 9 -8zM228 662l12 3 6 7 -2 10 -9 7 -13 -1 -7 -8 0 -8 3 -4 10 -6zM224 665l11 0 7 5 2 8 -4 7 -5 3 -7 0 -10 -6 -2 -4 1 -6 7 -7zM226 665l9 0 7 6 1 9 -5 6 -5 1 -8 0 -7 -7 -1 -5 2 -5 7 -5zM225 668l7 -2 7 4 2 8 -2 4 -9 4 -8 -4 -3 -7 6 -7zM226 668l6 -1 6 3 3 8 -3 5 -10 2 -7 -5 -1 -8 6 -4zM225 670l5 -1 5 1 4 5 -2 5 -5 3 -7 -1 -3 -7 3 -5zM227 670l5 0 4 2 2 6 -3 3 -5 1 -6 -2 -1 -5 4 -5zM226 672l6 0 3 2 0 4 -3 2 -4 0 -3 -2 1 -6z" fill="none" stroke="#000" stroke-width="5.5" stroke-linejoin="round"/><circle cx="45.3" cy="67.5" r="0.4" fill="#999"/><circle cx="71.9" cy="66.4" r="0.4" fill="#999"/><circle cx="44.1" cy="66.9" r="0.4" fill="#999"/><circle cx="65.7" cy="68.3" r="0.4" fill="#999"/><circle cx="45.4" cy="65.4" r="0.4" fill="#999"/><circle cx="68.5" cy="67.6" r="0.4" fill="#999"/><circle cx="78.4" cy="68.2" r="0.4" fill="#999"/><circle cx="58.8" cy="66.7" r="0.4" fill="#999"/><circle cx="50.6" cy="65.6" r="0.4" fill="#999"/><circle cx="61.1" cy="67.2" r="0.4" fill="#999"/><circle cx="55.9" cy="66.9" r="0.4" fill="#999"/><circle cx="63.3" cy="67.8" r="0.4" fill="#999"/><circle cx="73.2" cy="67.3" r="0.4" fill="#999"/><circle cx="40.7" cy="57.1" r="0.4" fill="#999"/><circle cx="43.6" cy="54.5" r="0.4" fill="#999"/><circle cx="43.2" cy="55.0" r="0.4" fill="#999"/><circle cx="48.8" cy="55.6" r="0.4" fill="#999"/></g><line x1="31.7" y1="0.5" x2="31.7" y2="87.5" stroke="#4a5aa8" stroke-width="1"/><line x1="0.5" y1="59" x2="87.5" y2="59" stroke="#4a5aa8" stroke-width="1"/><rect x="0.6" y="0.6" width="86.8" height="86.8" fill="none" stroke="#000" stroke-width="1.2"/><path d="M0,9h-2.8M0,29h-2.8M0,52.5h-2.8M0,68.8h-2.8M0,83.3h-2.8M0,22.98h-1.6M0,19.46h-1.6M0,16.96h-1.6M0,15.02h-1.6M0,13.44h-1.6M0,12.1h-1.6M0,10.94h-1.6M0,9.92h-1.6M0,45.43h-1.6M0,41.29h-1.6M0,38.35h-1.6M0,36.07h-1.6M0,34.21h-1.6M0,32.64h-1.6M0,31.28h-1.6M0,30.08h-1.6M0,57h-1.6M0,61h-1.6M0,65h-1.6M0,72.5h-1.6M0,76.5h-1.6M0,80h-1.6M0,83.3h-1.6M20.8,88.0v2.8M31.7,88.0v2.8M57,88.0v2.8M78.5,88.0v2.8M10,88.0v2.8M39.32,88.0v1.6M43.77,88.0v1.6M46.93,88.0v1.6M49.38,88.0v1.6M51.39,88.0v1.6M53.08,88.0v1.6M54.55,88.0v1.6M55.84,88.0v1.6M63.47,88.0v1.6M67.26,88.0v1.6M69.94,88.0v1.6M72.03,88.0v1.6M73.73,88.0v1.6M75.17,88.0v1.6M76.42,88.0v1.6M77.52,88.0v1.6M24.5,88.0v1.6M28,88.0v1.6M17,88.0v1.6M13.5,88.0v1.6M10,88.0v1.6M6.5,88.0v1.6M3.5,88.0v1.6M83.5,88.0v1.6M86,88.0v1.6" stroke="#111" stroke-width="0.8" fill="none"/><text x="2.6" y="7.8" font-family="Liberation Sans" font-size="7.3" fill="#5565b0">0</text><text x="85.6" y="7.8" font-family="Liberation Sans" font-size="7.3" fill="#5565b0" text-anchor="end">0.31</text><text x="2.6" y="85.3" font-family="Liberation Sans" font-size="7.3" fill="#5565b0">94.8</text><text x="85.6" y="85.3" font-family="Liberation Sans" font-size="7.3" fill="#5565b0" text-anchor="end">4.89</text><text x="-9.0" y="11.6" font-family="Liberation Sans" font-size="8.2" fill="#1a1a1a" text-anchor="end">10</text><text x="-8.9" y="8.3" font-family="Liberation Sans" font-size="6" fill="#1a1a1a">5</text><text x="-9.0" y="31.6" font-family="Liberation Sans" font-size="8.2" fill="#1a1a1a" text-anchor="end">10</text><text x="-8.9" y="28.3" font-family="Liberation Sans" font-size="6" fill="#1a1a1a">4</text><text x="-9.0" y="55.1" font-family="Liberation Sans" font-size="8.2" fill="#1a1a1a" text-anchor="end">10</text><text x="-8.9" y="51.8" font-family="Liberation Sans" font-size="6" fill="#1a1a1a">3</text><text x="-5.8" y="71.7" font-family="Liberation Sans" font-size="8.2" fill="#1a1a1a" text-anchor="end">0</text><text x="20.8" y="100.3" font-family="Liberation Sans" font-size="8.2" fill="#1a1a1a" text-anchor="middle">0</text><text x="31.4" y="100.3" font-family="Liberation Sans" font-size="8.2" fill="#1a1a1a" text-anchor="middle">10</text><text x="36" y="97.1" font-family="Liberation Sans" font-size="6" fill="#1a1a1a">3</text><text x="56.7" y="100.3" font-family="Liberation Sans" font-size="8.2" fill="#1a1a1a" text-anchor="middle">10</text><text x="61.3" y="97.1" font-family="Liberation Sans" font-size="6" fill="#1a1a1a">4</text><text x="78.2" y="100.3" font-family="Liberation Sans" font-size="8.2" fill="#1a1a1a" text-anchor="middle">10</text><text x="82.8" y="97.1" font-family="Liberation Sans" font-size="6" fill="#1a1a1a">5</text></g><clipPath id="cp30"><rect x="0.6" y="0.6" width="86.8" height="86.8"/></clipPath><g transform="translate(68.5,403.6)"><g clip-path="url(#cp30)"><ellipse cx="21.9" cy="68.5" rx="3.4" ry="2.5" fill="#555"/><ellipse cx="21.9" cy="68.5" rx="2.8" ry="2.0" fill="#000"/><ellipse cx="22" cy="68.3" rx="4.6" ry="3.6" fill="none" stroke="#222" stroke-width="0.55"/><path d="M30.8,68.1 C27.11,64.34 24.650000000000002,63.4 22.6,63.4 C18.025,63.4 16.5,65.515 16.5,68.1 C16.5,70.57499999999999 18.025,72.6 22.6,72.6 C24.650000000000002,72.6 27.11,71.69999999999999 30.8,68.1 Z" fill="none" stroke="#222" stroke-width="0.5"/><circle cx="30.5" cy="68.3" r="0.4" fill="#999"/><circle cx="42.2" cy="67.4" r="0.4" fill="#999"/><circle cx="54.7" cy="68.1" r="0.4" fill="#999"/><circle cx="42.3" cy="70.2" r="0.4" fill="#999"/><circle cx="40.1" cy="66.5" r="0.4" fill="#999"/><circle cx="31.3" cy="67.4" r="0.4" fill="#999"/><circle cx="51.6" cy="69.0" r="0.4" fill="#999"/><circle cx="56.4" cy="70.2" r="0.4" fill="#999"/><circle cx="62.2" cy="68.8" r="0.4" fill="#999"/><circle cx="58.6" cy="68.8" r="0.4" fill="#999"/><circle cx="39.7" cy="69.0" r="0.4" fill="#999"/><circle cx="46.1" cy="67.8" r="0.4" fill="#999"/><circle cx="63.2" cy="65.0" r="0.4" fill="#999"/><circle cx="53.3" cy="59.9" r="0.4" fill="#999"/><circle cx="64.7" cy="58.8" r="0.4" fill="#999"/><circle cx="58.2" cy="64.1" r="0.4" fill="#999"/><circle cx="57.3" cy="63.9" r="0.4" fill="#999"/></g><line x1="31.7" y1="0.5" x2="31.7" y2="87.5" stroke="#4a5aa8" stroke-width="1"/><line x1="0.5" y1="59" x2="87.5" y2="59" stroke="#4a5aa8" stroke-width="1"/><rect x="0.6" y="0.6" width="86.8" height="86.8" fill="none" stroke="#000" stroke-width="1.2"/><path d="M0,9h-2.8M0,29h-2.8M0,52.5h-2.8M0,68.8h-2.8M0,83.3h-2.8M0,22.98h-1.6M0,19.46h-1.6M0,16.96h-1.6M0,15.02h-1.6M0,13.44h-1.6M0,12.1h-1.6M0,10.94h-1.6M0,9.92h-1.6M0,45.43h-1.6M0,41.29h-1.6M0,38.35h-1.6M0,36.07h-1.6M0,34.21h-1.6M0,32.64h-1.6M0,31.28h-1.6M0,30.08h-1.6M0,57h-1.6M0,61h-1.6M0,65h-1.6M0,72.5h-1.6M0,76.5h-1.6M0,80h-1.6M0,83.3h-1.6M20.8,88.0v2.8M31.7,88.0v2.8M57,88.0v2.8M78.5,88.0v2.8M10,88.0v2.8M39.32,88.0v1.6M43.77,88.0v1.6M46.93,88.0v1.6M49.38,88.0v1.6M51.39,88.0v1.6M53.08,88.0v1.6M54.55,88.0v1.6M55.84,88.0v1.6M63.47,88.0v1.6M67.26,88.0v1.6M69.94,88.0v1.6M72.03,88.0v1.6M73.73,88.0v1.6M75.17,88.0v1.6M76.42,88.0v1.6M77.52,88.0v1.6M24.5,88.0v1.6M28,88.0v1.6M17,88.0v1.6M13.5,88.0v1.6M10,88.0v1.6M6.5,88.0v1.6M3.5,88.0v1.6M83.5,88.0v1.6M86,88.0v1.6" stroke="#111" stroke-width="0.8" fill="none"/><text x="2.6" y="7.8" font-family="Liberation Sans" font-size="7.3" fill="#5565b0">0</text><text x="85.6" y="7.8" font-family="Liberation Sans" font-size="7.3" fill="#5565b0" text-anchor="end">0.19</text><text x="2.6" y="85.3" font-family="Liberation Sans" font-size="7.3" fill="#5565b0">97.3</text><text x="85.6" y="85.3" font-family="Liberation Sans" font-size="7.3" fill="#5565b0" text-anchor="end">2.55</text><text x="-9.0" y="11.6" font-family="Liberation Sans" font-size="8.2" fill="#1a1a1a" text-anchor="end">10</text><text x="-8.9" y="8.3" font-family="Liberation Sans" font-size="6" fill="#1a1a1a">5</text><text x="-9.0" y="31.6" font-family="Liberation Sans" font-size="8.2" fill="#1a1a1a" text-anchor="end">10</text><text x="-8.9" y="28.3" font-family="Liberation Sans" font-size="6" fill="#1a1a1a">4</text><text x="-9.0" y="55.1" font-family="Liberation Sans" font-size="8.2" fill="#1a1a1a" text-anchor="end">10</text><text x="-8.9" y="51.8" font-family="Liberation Sans" font-size="6" fill="#1a1a1a">3</text><text x="-5.8" y="71.7" font-family="Liberation Sans" font-size="8.2" fill="#1a1a1a" text-anchor="end">0</text><text x="20.8" y="100.3" font-family="Liberation Sans" font-size="8.2" fill="#1a1a1a" text-anchor="middle">0</text><text x="31.4" y="100.3" font-family="Liberation Sans" font-size="8.2" fill="#1a1a1a" text-anchor="middle">10</text><text x="36" y="97.1" font-family="Liberation Sans" font-size="6" fill="#1a1a1a">3</text><text x="56.7" y="100.3" font-family="Liberation Sans" font-size="8.2" fill="#1a1a1a" text-anchor="middle">10</text><text x="61.3" y="97.1" font-family="Liberation Sans" font-size="6" fill="#1a1a1a">4</text><text x="78.2" y="100.3" font-family="Liberation Sans" font-size="8.2" fill="#1a1a1a" text-anchor="middle">10</text><text x="82.8" y="97.1" font-family="Liberation Sans" font-size="6" fill="#1a1a1a">5</text></g><clipPath id="cp31"><rect x="0.6" y="0.6" width="86.8" height="86.8"/></clipPath><g transform="translate(187.5,403.6)"><g clip-path="url(#cp31)"><path transform="scale(0.1)" d="M652 190l8 0 8 4 12 26 28 15 5 5 4 8 2 10 -1 9 -11 23 -1 10 4 20 0 22 9 26 8 52 -3 15 -19 21 -7 14 -14 32 -6 40 -16 26 -4 10 1 14 13 40 3 28 -4 28 -14 24 -15 15 -14 9 -18 7 -20 3 -18 -2 -17 -5 -15 -7 -18 -14 -7 -1 -67 2 -66 -9 -4 2 -18 17 -18 9 -22 7 -22 3 -23 -1 -17 -4 -18 -6 -18 -11 -13 -14 -8 -12 -5 -18 1 -17 5 -15 11 -15 12 -11 20 -11 15 -5 20 -4 35 2 27 8 28 17 8 1 44 -9 71 -5 1 -13 -6 -32 8 -21 0 -14 -4 -13 -17 -23 -3 -10 4 -12 13 -22 -1 -10 -9 -18 -3 -10 3 -10 14 -18 4 -10 -3 -44 2 -10 4 -8 8 -5 32 -7 8 -6 7 -9 5 -15 -1 -28 8 -38 5 -9 8 -3 8 -1 24 7 10 0 30 -16zM591 228l4 -2 3 2 3 4 0 3 -3 2 -5 -2 -2 -7zM637 235l11 2 10 7 8 11 10 17 2 8 -3 22 1 10 30 63 2 43 -1 10 -4 10 -32 57 -3 30 -2 10 -6 10 -17 23 -7 14 1 13 19 37 4 23 0 15 -4 12 -12 23 -12 11 -12 7 -15 6 -15 1 -25 -4 -25 -13 -5 -1 -83 4 -30 -2 -42 -7 -8 3 -14 14 -18 10 -22 7 -20 2 -23 -1 -17 -4 -18 -7 -15 -10 -11 -11 -8 -15 -4 -17 2 -16 7 -14 10 -13 14 -11 17 -8 30 -7 33 2 25 7 25 16 7 2 63 -11 75 -1 7 -2 2 -2 9 -25 2 -10 -2 -7 -14 -30 -15 -50 2 -8 14 -18 2 -10 -3 -14 -12 -23 0 -10 16 -27 8 -38 4 -6 18 -9 10 -10 14 -25 13 -35 17 -13 13 -11 22 -6zM633 258l7 -1 8 2 7 7 6 9 4 10 1 23 2 12 27 47 4 18 -3 47 -13 28 -23 33 -2 7 2 22 -3 10 -7 13 -28 32 -5 11 3 10 21 30 7 20 1 14 -2 13 -5 13 -7 10 -10 9 -10 6 -13 5 -12 1 -18 -2 -24 -10 -60 6 -30 1 -33 -2 -47 -8 -8 2 -15 14 -17 11 -18 6 -20 3 -20 -1 -18 -3 -17 -7 -18 -11 -11 -13 -7 -15 -2 -15 2 -13 7 -14 11 -13 15 -11 18 -7 28 -5 27 2 23 7 24 16 8 2 68 -13 34 -1 50 3 11 -3 10 -15 19 -22 4 -10 -4 -8 -7 -8 -20 -8 -7 -5 -6 -7 -4 -10 -1 -10 2 -10 12 -17 1 -7 -2 -31 -9 -32 0 -10 16 -23 0 -24 4 -10 27 -26 27 -50 9 -7 29 -17zM633 270l7 0 5 1 10 11 10 43 26 45 2 12 -2 23 0 23 -3 12 -7 15 -28 35 -1 10 2 22 -5 16 -11 13 -20 18 -10 5 -8 1 -8 -3 -17 -17 -7 -4 -10 -3 -18 -3 -8 -3 -6 -7 -2 -10 3 -10 14 -15 3 -8 -6 -62 2 -10 10 -15 4 -10 0 -7 -3 -18 2 -8 22 -27 31 -47 12 -10 15 -8zM579 600l16 -1 17 9 18 18 5 9 5 13 0 20 -6 17 -14 16 -18 8 -20 1 -22 -7 -8 0 -60 8 -40 2 -27 -3 -37 -7 -13 -1 -7 3 -17 15 -19 10 -22 6 -22 1 -28 -5 -22 -10 -18 -17 -8 -17 -2 -10 2 -13 10 -20 18 -16 28 -11 24 -3 26 2 22 8 22 15 10 1 43 -10 30 -3 33 -1 59 3 6 -2 17 -19 19 -9zM631 282l11 1 8 7 11 38 25 42 2 12 -3 23 1 25 -4 12 -6 13 -23 25 -5 9 -2 11 3 22 -4 13 -7 10 -13 10 -10 7 -10 2 -7 -3 -18 -13 -10 -6 -32 -6 -6 -5 -1 -6 4 -7 13 -13 4 -7 1 -8 -4 -22 1 -36 15 -38 1 -12 -1 -14 1 -8 22 -32 18 -20 10 -16 6 -5 9 -5zM576 612l16 -1 16 5 15 14 8 18 1 17 -6 17 -12 13 -16 7 -13 1 -25 -4 -60 10 -40 2 -32 -2 -40 -9 -13 0 -9 2 -18 17 -18 9 -20 6 -22 1 -26 -5 -22 -10 -16 -15 -6 -10 -4 -10 1 -20 4 -10 6 -10 20 -16 27 -10 23 -2 25 4 20 7 20 13 12 2 46 -11 32 -3 32 0 63 5 5 -2 15 -14 11 -6zM632 295l8 0 5 4 13 31 25 40 2 10 -4 22 1 28 -3 12 -6 10 -24 26 -6 10 -2 12 4 22 -4 13 -16 15 -10 5 -7 1 -8 -2 -30 -18 -25 -6 -4 -5 2 -5 12 -12 4 -8 -2 -30 3 -38 14 -42 2 -32 19 -30 37 -33zM282 620l20 0 20 4 16 6 20 13 12 2 12 -1 38 -10 35 -3 33 0 64 6 7 -2 16 -12 7 -3 10 0 13 5 12 10 6 13 2 14 -2 10 -6 10 -9 8 -10 4 -30 0 -58 11 -45 4 -34 -1 -43 -10 -16 0 -10 4 -17 16 -17 9 -23 5 -25 0 -25 -7 -21 -13 -13 -17 -4 -10 -1 -10 2 -10 4 -10 13 -16 20 -12 27 -7zM632 310l8 0 5 5 34 55 2 10 -4 22 1 28 -2 10 -6 12 -24 23 -7 10 -2 13 5 24 -3 10 -6 8 -8 6 -15 5 -12 -5 -35 -21 -4 -5 7 -18 -2 -32 4 -18 2 -22 11 -48 3 -24 9 -18 7 -10 8 -6 24 -14zM278 622l20 -1 20 3 17 7 22 14 15 2 13 -1 43 -11 30 -3 32 1 70 8 5 -2 13 -8 12 -2 12 3 9 8 5 10 1 12 -2 8 -5 8 -8 6 -7 3 -20 2 -60 13 -43 5 -37 -1 -45 -10 -18 0 -11 4 -16 15 -17 9 -23 6 -23 0 -24 -6 -20 -12 -14 -17 -5 -17 1 -10 3 -10 12 -16 20 -13 23 -7zM629 320l9 -1 7 5 30 44 3 12 -4 22 1 28 -2 10 -5 10 -25 22 -7 10 -2 16 5 24 -3 10 -11 11 -7 3 -8 0 -8 -2 -14 -9 -13 -10 -4 -5 1 -20 -2 -25 7 -23 5 -24 1 -30 10 -48 5 -10 7 -9 10 -6 14 -5zM274 625l21 -2 23 3 17 7 20 13 17 3 18 -1 42 -10 28 -3 42 1 63 9 25 -7 8 2 5 5 5 7 1 8 -4 10 -7 7 -43 14 -24 7 -33 5 -40 1 -26 -2 -40 -9 -17 1 -14 4 -19 16 -17 9 -20 5 -23 0 -22 -5 -19 -11 -13 -14 -6 -18 2 -18 11 -17 17 -13 22 -7zM628 325l10 0 7 4 28 39 2 10 -4 24 2 28 -3 10 -5 10 -25 20 -7 10 -2 15 5 25 -2 10 -9 10 -13 4 -7 -2 -10 -6 -11 -8 -6 -8 -4 -42 14 -33 9 -15 -8 -18 -2 -12 12 -52 3 -9 7 -7 19 -7zM286 625l16 0 18 4 15 6 19 13 21 4 20 0 24 -7 27 -5 42 -2 44 4 43 9 15 -1 5 3 2 7 -4 8 -22 14 -18 8 -20 5 -42 5 -33 0 -28 -2 -30 -8 -12 0 -28 6 -20 18 -18 9 -20 4 -20 0 -22 -6 -20 -12 -13 -17 -3 -17 4 -17 14 -17 20 -11 24 -5zM627 328l11 -1 7 4 26 37 3 10 -5 24 2 28 -2 10 -7 10 -24 19 -5 6 -4 17 5 26 0 10 -9 10 -12 4 -17 -7 -9 -7 -6 -8 -4 -40 3 -10 11 -20 17 -18 -1 -4 -14 -16 -3 -10 0 -12 10 -40 3 -8 6 -7 18 -7zM274 628l26 -2 22 4 13 6 20 13 29 6 13 5 7 5 2 5 -1 5 -3 5 -9 5 -33 10 -20 18 -20 10 -15 3 -15 1 -28 -6 -16 -9 -13 -12 -6 -12 -2 -16 4 -14 11 -14 15 -10 19 -6zM465 642l35 -1 43 4 34 10 7 5 1 5 -5 7 -8 8 -16 8 -17 4 -44 5 -29 -2 -13 -3 -13 -4 -6 -6 -5 -12 0 -10 3 -5 8 -5 25 -8zM623 330l15 -1 10 6 21 30 4 15 -5 20 2 28 -2 12 -10 14 -22 14 -5 4 -3 8 -1 13 6 25 0 7 -3 7 -5 5 -13 4 -15 -7 -14 -14 -2 -8 -2 -30 3 -10 10 -18 6 -5 12 -9 3 -5 -1 -10 -14 -11 -5 -6 -2 -13 13 -50 8 -10 11 -5zM278 628l20 -2 20 4 14 6 20 13 32 9 8 7 1 7 -1 6 -6 7 -27 10 -20 17 -19 10 -15 3 -15 1 -15 -2 -15 -4 -16 -10 -12 -12 -6 -16 1 -14 5 -14 11 -12 17 -9 18 -5zM484 645l28 -2 38 5 16 4 9 6 4 4 1 6 -5 7 -6 5 -19 8 -28 5 -24 -1 -10 -4 -7 -16 -4 -20 2 -4 5 -3zM624 332l11 0 10 4 13 15 10 17 3 12 -6 22 3 28 -4 12 -8 10 -11 7 -17 5 -3 3 0 25 6 26 0 7 -6 10 -5 2 -8 1 -13 -6 -12 -12 -2 -8 -2 -27 3 -10 9 -13 7 -6 13 -5 4 -6 1 -13 -2 -7 -3 -5 -17 -12 -4 -13 13 -50 6 -7 11 -6zM272 630l28 -2 15 2 13 5 22 14 30 11 6 10 -2 10 -6 6 -22 9 -21 18 -17 8 -16 3 -14 1 -16 -3 -13 -4 -14 -9 -11 -11 -5 -13 -1 -15 4 -12 10 -13 13 -9 17 -6zM508 648l24 -2 26 6 14 8 2 5 0 5 -10 10 -14 6 -20 4 -15 -2 -7 -6 -6 -17 0 -13 6 -4zM626 335l12 0 10 6 16 21 4 13 -5 27 2 23 -1 10 -7 13 -7 5 -8 2 -7 -1 -5 -3 -3 -6 -5 -23 -4 -6 -16 -9 -4 -9 1 -13 10 -37 6 -8 11 -5zM599 470l6 -1 5 1 5 5 4 7 10 38 -1 9 -8 6 -8 1 -7 -3 -10 -8 -5 -7 -1 -33 3 -9 7 -6zM280 630l20 -1 18 3 14 7 18 12 20 7 7 4 3 6 0 7 -1 5 -5 5 -19 8 -20 18 -19 9 -16 3 -15 0 -15 -3 -13 -5 -12 -8 -10 -12 -5 -13 0 -14 6 -13 12 -12 14 -8 18 -5zM526 650l16 0 18 6 8 6 1 6 -2 4 -8 8 -11 4 -13 2 -10 -3 -7 -8 -2 -15 3 -8 7 -2zM629 338l9 0 10 7 12 15 6 12 0 8 -7 22 4 23 -2 10 -6 10 -10 5 -5 0 -5 -4 -10 -28 -20 -14 -4 -9 1 -13 9 -32 7 -8 11 -4zM600 482l5 -1 7 5 13 26 1 13 -6 7 -8 1 -7 -3 -6 -5 -4 -7 -2 -10 2 -16 5 -10zM275 632l25 -1 25 6 23 14 22 10 5 7 0 10 -7 7 -16 8 -17 16 -17 9 -28 4 -15 -2 -14 -5 -13 -8 -11 -12 -5 -13 0 -12 5 -12 8 -10 15 -10 15 -6zM533 655l12 -1 10 4 7 4 1 8 -4 5 -9 5 -8 1 -7 -2 -5 -5 -3 -9 2 -7 4 -3zM621 340l11 -2 10 3 16 17 7 14 0 8 -6 22 3 30 -5 10 -9 7 -8 0 -5 -4 -10 -27 -18 -13 -6 -7 0 -13 9 -33 4 -7 7 -5zM599 485l3 -2 6 0 7 9 11 28 -1 7 -5 5 -5 1 -7 -2 -12 -11 -2 -15 1 -13 4 -7zM276 632l26 -1 23 6 23 15 22 9 5 7 0 10 -7 7 -16 8 -17 16 -17 9 -28 3 -15 -2 -14 -4 -13 -9 -10 -11 -6 -13 0 -12 5 -12 11 -12 13 -8 15 -6zM536 655l12 0 11 5 4 5 -2 7 -6 5 -7 3 -8 0 -6 -2 -5 -8 -1 -8 3 -4 5 -3zM624 342l11 -1 10 5 12 14 5 12 0 8 -7 25 3 20 0 7 -5 8 -5 3 -6 0 -4 -5 -4 -16 -4 -7 -20 -13 -5 -7 0 -13 8 -27 5 -8 6 -5zM607 500l5 2 9 13 1 7 -4 6 -6 0 -4 -2 -7 -8 0 -10 2 -6 4 -2zM275 635l25 -2 22 6 23 14 21 9 5 8 -1 8 -4 4 -16 9 -17 17 -15 7 -13 3 -15 1 -14 -1 -14 -5 -12 -8 -10 -10 -5 -13 0 -12 5 -12 9 -10 12 -8 14 -5zM625 348l7 -2 10 3 10 11 6 10 -1 12 -12 30 -3 2 -27 -14 -6 -8 0 -10 6 -20 4 -10 6 -4zM277 638l23 -2 22 6 20 14 19 9 3 5 -1 8 -15 10 -17 17 -16 8 -25 3 -12 -1 -14 -5 -12 -8 -9 -10 -4 -10 0 -12 4 -10 8 -10 12 -8 14 -4zM625 350l7 -2 9 2 9 9 6 11 1 8 -2 7 -10 18 -5 4 -8 -1 -14 -6 -5 -5 -2 -5 0 -10 4 -14 5 -11 5 -5zM285 638l20 0 20 7 17 12 16 8 4 5 -2 8 -15 10 -15 16 -17 8 -25 3 -14 -3 -12 -4 -11 -8 -7 -10 -3 -10 1 -12 6 -12 9 -8 13 -7 15 -3zM632 352l6 1 7 5 5 7 3 7 -1 8 -4 10 -6 6 -7 4 -7 -1 -8 -3 -5 -6 -1 -5 2 -10 6 -15 4 -5 6 -3zM277 642l21 -1 19 4 34 23 2 2 0 5 -25 25 -13 8 -23 4 -22 -5 -12 -7 -8 -8 -4 -10 -1 -10 4 -10 6 -8 9 -6 13 -6zM631 360l6 0 5 3 5 7 0 5 -2 7 -5 8 -10 3 -8 -3 -3 -8 3 -12 9 -10zM283 648l15 -1 14 3 9 5 10 10 4 5 1 5 -6 12 -6 8 -14 8 -20 2 -15 -3 -15 -10 -6 -12 -1 -8 3 -7 9 -10 18 -7zM635 360l5 2 5 5 2 11 -8 12 -7 3 -4 -1 -7 -4 -1 -10 8 -15 7 -3zM287 648l13 0 12 3 11 7 9 10 2 4 -1 8 -6 10 -8 8 -17 6 -17 0 -17 -6 -10 -10 -4 -13 5 -13 11 -10 17 -4zM630 368l8 -1 3 3 1 5 -2 7 -8 6 -4 -1 -4 -5 1 -7 5 -7zM291 655l9 1 10 3 8 6 3 5 1 8 -3 7 -5 5 -9 5 -13 2 -11 -2 -11 -7 -5 -8 1 -10 5 -8 9 -5 11 -2z" fill="none" stroke="#000" stroke-width="5.5" stroke-linejoin="round"/><circle cx="44.7" cy="54.6" r="0.4" fill="#999"/><circle cx="42.7" cy="44.7" r="0.4" fill="#999"/></g><line x1="31.7" y1="0.5" x2="31.7" y2="87.5" stroke="#4a5aa8" stroke-width="1"/><line x1="0.5" y1="59" x2="87.5" y2="59" stroke="#4a5aa8" stroke-width="1"/><rect x="0.6" y="0.6" width="86.8" height="86.8" fill="none" stroke="#000" stroke-width="1.2"/><path d="M0,9h-2.8M0,29h-2.8M0,52.5h-2.8M0,68.8h-2.8M0,83.3h-2.8M0,22.98h-1.6M0,19.46h-1.6M0,16.96h-1.6M0,15.02h-1.6M0,13.44h-1.6M0,12.1h-1.6M0,10.94h-1.6M0,9.92h-1.6M0,45.43h-1.6M0,41.29h-1.6M0,38.35h-1.6M0,36.07h-1.6M0,34.21h-1.6M0,32.64h-1.6M0,31.28h-1.6M0,30.08h-1.6M0,57h-1.6M0,61h-1.6M0,65h-1.6M0,72.5h-1.6M0,76.5h-1.6M0,80h-1.6M0,83.3h-1.6M20.8,88.0v2.8M31.7,88.0v2.8M57,88.0v2.8M78.5,88.0v2.8M10,88.0v2.8M39.32,88.0v1.6M43.77,88.0v1.6M46.93,88.0v1.6M49.38,88.0v1.6M51.39,88.0v1.6M53.08,88.0v1.6M54.55,88.0v1.6M55.84,88.0v1.6M63.47,88.0v1.6M67.26,88.0v1.6M69.94,88.0v1.6M72.03,88.0v1.6M73.73,88.0v1.6M75.17,88.0v1.6M76.42,88.0v1.6M77.52,88.0v1.6M24.5,88.0v1.6M28,88.0v1.6M17,88.0v1.6M13.5,88.0v1.6M10,88.0v1.6M6.5,88.0v1.6M3.5,88.0v1.6M83.5,88.0v1.6M86,88.0v1.6" stroke="#111" stroke-width="0.8" fill="none"/><text x="2.6" y="7.8" font-family="Liberation Sans" font-size="7.3" fill="#5565b0">0.249</text><text x="85.6" y="7.8" font-family="Liberation Sans" font-size="7.3" fill="#5565b0" text-anchor="end">40</text><text x="2.6" y="85.3" font-family="Liberation Sans" font-size="7.3" fill="#5565b0">22.6</text><text x="85.6" y="85.3" font-family="Liberation Sans" font-size="7.3" fill="#5565b0" text-anchor="end">37.1</text><text x="-9.0" y="11.6" font-family="Liberation Sans" font-size="8.2" fill="#1a1a1a" text-anchor="end">10</text><text x="-8.9" y="8.3" font-family="Liberation Sans" font-size="6" fill="#1a1a1a">5</text><text x="-9.0" y="31.6" font-family="Liberation Sans" font-size="8.2" fill="#1a1a1a" text-anchor="end">10</text><text x="-8.9" y="28.3" font-family="Liberation Sans" font-size="6" fill="#1a1a1a">4</text><text x="-9.0" y="55.1" font-family="Liberation Sans" font-size="8.2" fill="#1a1a1a" text-anchor="end">10</text><text x="-8.9" y="51.8" font-family="Liberation Sans" font-size="6" fill="#1a1a1a">3</text><text x="-5.8" y="71.7" font-family="Liberation Sans" font-size="8.2" fill="#1a1a1a" text-anchor="end">0</text><text x="20.8" y="100.3" font-family="Liberation Sans" font-size="8.2" fill="#1a1a1a" text-anchor="middle">0</text><text x="31.4" y="100.3" font-family="Liberation Sans" font-size="8.2" fill="#1a1a1a" text-anchor="middle">10</text><text x="36" y="97.1" font-family="Liberation Sans" font-size="6" fill="#1a1a1a">3</text><text x="56.7" y="100.3" font-family="Liberation Sans" font-size="8.2" fill="#1a1a1a" text-anchor="middle">10</text><text x="61.3" y="97.1" font-family="Liberation Sans" font-size="6" fill="#1a1a1a">4</text><text x="78.2" y="100.3" font-family="Liberation Sans" font-size="8.2" fill="#1a1a1a" text-anchor="middle">10</text><text x="82.8" y="97.1" font-family="Liberation Sans" font-size="6" fill="#1a1a1a">5</text></g><clipPath id="cp32"><rect x="0.6" y="0.6" width="86.8" height="86.8"/></clipPath><g transform="translate(306.5,403.6)"><g clip-path="url(#cp32)"><path transform="scale(0.1)" d="M614 415l4 0 4 3 8 10 14 27 7 20 -1 23 -12 54 1 13 4 13 9 23 23 19 7 9 7 13 3 16 -1 17 -8 17 -15 17 -20 15 -20 10 -20 7 -20 4 -23 1 -75 -4 -102 -3 -100 -13 -13 3 -43 17 -30 3 -22 -3 -20 -8 -18 -12 -13 -16 -9 -22 -1 -13 2 -15 5 -12 8 -13 9 -10 12 -9 23 -10 20 -4 27 2 47 6 18 -1 38 -12 53 -12 39 -17 28 -7 7 -5 18 -21 9 -7 40 -24 23 -7 7 -5 13 -14 24 -43 13 -13 12 -7zM607 462l8 1 10 7 7 11 4 14 -3 23 -15 30 -1 22 1 10 16 28 28 29 5 11 3 12 -3 18 -8 14 -15 16 -19 11 -17 7 -18 5 -38 2 -164 -8 -36 -4 -57 -11 -13 4 -27 17 -17 8 -18 4 -18 1 -22 -3 -20 -9 -16 -12 -12 -18 -7 -22 3 -22 13 -23 9 -9 12 -8 26 -8 24 -1 30 4 36 13 12 1 46 -17 59 -13 22 -9 25 -1 10 -2 8 -4 8 -8 19 -31 15 -12 23 -11 7 -1 18 4 10 -4 4 -6 7 -20 9 -14 13 -10 14 -6zM593 482l15 1 11 7 6 10 -1 12 -4 8 -16 15 -4 17 -4 6 -6 3 -22 6 -6 5 -1 8 3 5 6 2 28 1 12 6 37 41 7 13 3 12 -2 15 -8 15 -15 14 -17 10 -25 8 -28 3 -77 -5 -70 -2 -55 -6 -52 -13 -10 -1 -10 4 -28 22 -18 10 -17 5 -23 3 -22 -4 -20 -9 -15 -12 -11 -17 -5 -22 4 -23 5 -10 10 -12 20 -14 27 -7 35 2 25 8 30 18 10 2 55 -25 30 -6 30 -2 40 -11 10 -5 8 -6 13 -17 16 -25 13 -11 15 -5 30 5 16 -6 6 -8 2 -20 2 -8 7 -7 5 -3zM592 498l6 -3 8 3 4 4 0 8 -8 4 -7 -1 -5 -8 2 -7zM518 538l12 -1 28 8 20 -3 0 3 -2 3 -14 6 -9 11 -4 15 3 10 3 3 7 3 30 -1 13 4 17 16 21 27 4 10 1 10 -5 18 -14 18 -21 12 -23 7 -25 2 -75 -6 -81 -3 -52 -8 -22 -7 -22 -10 -8 -1 -8 4 -28 30 -16 11 -20 8 -26 3 -22 -4 -18 -8 -16 -13 -11 -18 -3 -12 -1 -10 1 -10 4 -13 15 -20 19 -12 15 -5 15 -1 18 0 19 4 23 10 30 25 10 2 33 -20 19 -9 33 -7 37 -3 38 -14 15 -13 15 -19 14 -22 6 -6 8 -4zM520 545l12 1 7 4 4 5 1 7 -4 28 2 8 3 4 10 3 30 -4 13 1 14 10 18 23 8 17 1 16 -7 14 -15 16 -25 11 -30 4 -80 -7 -67 -4 -33 -3 -25 -7 -18 -7 -12 -10 -3 -7 4 -10 10 -10 14 -9 38 -12 42 -5 36 -15 10 -10 32 -45 10 -7zM185 618l30 -2 27 6 23 13 19 23 5 14 -6 18 -14 20 -21 17 -16 7 -12 3 -18 1 -14 -2 -16 -4 -12 -7 -11 -10 -8 -10 -6 -13 -2 -12 1 -15 4 -13 9 -12 11 -11 12 -7 15 -4zM520 555l8 0 6 7 -1 10 -6 33 3 7 8 3 10 0 32 -9 12 0 13 6 15 18 9 18 2 14 -5 16 -14 15 -13 7 -15 5 -16 2 -20 0 -68 -10 -85 -7 -26 -8 -15 -10 -2 -7 3 -7 8 -8 17 -10 20 -7 40 -4 32 -16 9 -8 31 -43 8 -7zM195 618l30 1 25 8 19 15 7 10 6 13 1 10 -2 10 -11 20 -20 18 -22 11 -16 2 -14 0 -16 -2 -12 -5 -12 -8 -9 -9 -8 -10 -5 -12 -2 -12 2 -13 4 -13 8 -10 10 -11 10 -6 12 -5 15 -2zM516 572l4 -2 3 5 -1 13 -9 22 2 8 5 3 10 3 15 -1 13 -3 20 -9 10 -1 10 2 11 10 12 20 4 18 -5 16 -14 14 -11 6 -15 5 -32 1 -80 -16 -60 -8 -16 -5 -7 -5 -2 -6 1 -4 5 -8 6 -5 13 -4 22 0 12 -2 38 -22 10 -9 12 -20 14 -16zM186 620l29 -1 25 5 12 6 9 8 15 20 4 17 -4 17 -15 20 -19 14 -12 6 -15 3 -15 1 -15 -3 -13 -4 -12 -8 -10 -9 -8 -12 -5 -12 -1 -13 1 -10 5 -13 8 -12 10 -9 12 -7 14 -4zM579 615l11 -1 12 6 12 18 5 17 -1 13 -6 10 -10 10 -14 7 -28 4 -35 -5 -53 -19 -12 -7 -6 -8 0 -8 9 -12 11 -10 16 -9 8 -2 17 10 15 1 27 -5 22 -10zM191 620l27 0 24 6 20 14 14 20 2 18 -6 20 -17 19 -20 12 -15 4 -12 2 -16 -1 -12 -3 -15 -7 -10 -8 -9 -11 -6 -10 -3 -13 0 -12 3 -12 6 -10 9 -11 10 -8 13 -6 13 -3zM186 622l26 -1 26 5 17 10 14 16 5 10 2 10 -3 18 -11 18 -20 15 -12 6 -15 4 -13 0 -14 -1 -16 -6 -10 -6 -10 -8 -8 -12 -4 -12 -2 -13 2 -13 5 -10 7 -11 10 -9 10 -5 14 -5zM584 622l6 0 8 6 6 12 4 15 -1 10 -4 7 -7 8 -7 5 -21 6 -26 -2 -22 -9 -11 -8 -6 -7 -2 -10 6 -7 55 -16 22 -10zM200 622l25 2 23 9 8 7 8 10 6 10 2 10 0 10 -2 10 -5 10 -8 10 -19 14 -23 7 -25 -1 -22 -8 -10 -8 -8 -9 -6 -10 -3 -13 0 -12 2 -10 5 -10 8 -10 19 -12 25 -6zM553 650l15 -2 10 2 6 8 -2 10 -5 4 -9 4 -10 -1 -10 -3 -6 -4 -2 -8 3 -5 10 -5zM192 630l23 -1 20 6 15 10 9 15 3 18 -4 17 -12 15 -18 11 -23 4 -23 -4 -18 -11 -13 -18 -3 -10 0 -10 2 -10 6 -10 15 -14 21 -8zM202 635l20 2 16 7 12 14 4 14 -1 16 -10 14 -15 12 -18 5 -20 -2 -18 -8 -12 -14 -5 -15 3 -18 10 -13 14 -10 20 -4zM200 640l18 1 14 6 11 11 5 12 -1 15 -7 13 -12 10 -16 5 -17 0 -15 -6 -12 -11 -6 -14 0 -14 8 -14 12 -9 18 -5zM195 645l15 -1 12 3 10 6 8 9 3 13 -2 13 -7 10 -12 7 -14 4 -18 -2 -12 -7 -10 -12 -2 -13 4 -13 10 -11 15 -6zM191 650l11 -2 13 1 10 4 8 7 5 10 0 10 -4 10 -7 8 -12 6 -15 1 -12 -3 -12 -10 -5 -12 1 -12 7 -10 12 -8zM195 650l13 -1 12 2 9 7 6 7 2 10 -2 10 -5 8 -9 7 -13 4 -13 -1 -13 -6 -7 -9 -3 -13 3 -10 7 -9 13 -6zM196 652l12 -1 10 3 7 4 6 7 2 7 0 10 -5 9 -8 7 -12 3 -13 -1 -10 -5 -7 -9 -3 -11 3 -10 7 -7 11 -6zM202 655l10 1 8 3 6 6 3 7 0 8 -4 8 -7 6 -10 3 -10 0 -10 -5 -7 -7 -2 -7 1 -8 5 -8 7 -5 10 -2zM193 658l17 -3 8 3 6 4 4 8 1 8 -2 7 -5 5 -10 6 -10 1 -10 -2 -7 -6 -4 -7 -1 -10 5 -9 8 -5zM200 660l12 1 7 4 4 5 1 8 -2 4 -10 9 -7 2 -7 -1 -8 -4 -4 -6 -1 -7 3 -7 4 -5 8 -3zM204 662l8 2 5 4 3 10 -2 5 -5 5 -11 2 -10 -5 -3 -5 -1 -5 4 -8 12 -5zM200 665l10 0 6 5 2 8 -6 7 -10 3 -10 -6 -1 -10 4 -4 5 -3z" fill="none" stroke="#000" stroke-width="5.5" stroke-linejoin="round"/><circle cx="66.1" cy="38.9" r="0.4" fill="#999"/><circle cx="53.1" cy="27.2" r="0.4" fill="#999"/><circle cx="59.5" cy="38.0" r="0.4" fill="#999"/><circle cx="59.3" cy="29.2" r="0.4" fill="#999"/><circle cx="57.5" cy="40.7" r="0.4" fill="#999"/><circle cx="53.1" cy="39.2" r="0.4" fill="#999"/><circle cx="62.6" cy="36.9" r="0.4" fill="#999"/><circle cx="63.8" cy="32.8" r="0.4" fill="#999"/><circle cx="59.4" cy="42.2" r="0.4" fill="#999"/><circle cx="58.1" cy="33.3" r="0.4" fill="#999"/><circle cx="53.0" cy="33.1" r="0.4" fill="#999"/><circle cx="63.7" cy="40.0" r="0.4" fill="#999"/><circle cx="63.2" cy="37.5" r="0.4" fill="#999"/><circle cx="62.9" cy="36.4" r="0.4" fill="#999"/><circle cx="71.0" cy="59.2" r="0.4" fill="#999"/><circle cx="71.3" cy="59.6" r="0.4" fill="#999"/><circle cx="60.7" cy="52.4" r="0.4" fill="#999"/><circle cx="66.2" cy="57.3" r="0.4" fill="#999"/></g><line x1="31.7" y1="0.5" x2="31.7" y2="87.5" stroke="#4a5aa8" stroke-width="1"/><line x1="0.5" y1="59" x2="87.5" y2="59" stroke="#4a5aa8" stroke-width="1"/><rect x="0.6" y="0.6" width="86.8" height="86.8" fill="none" stroke="#000" stroke-width="1.2"/><path d="M0,9h-2.8M0,29h-2.8M0,52.5h-2.8M0,68.8h-2.8M0,83.3h-2.8M0,22.98h-1.6M0,19.46h-1.6M0,16.96h-1.6M0,15.02h-1.6M0,13.44h-1.6M0,12.1h-1.6M0,10.94h-1.6M0,9.92h-1.6M0,45.43h-1.6M0,41.29h-1.6M0,38.35h-1.6M0,36.07h-1.6M0,34.21h-1.6M0,32.64h-1.6M0,31.28h-1.6M0,30.08h-1.6M0,57h-1.6M0,61h-1.6M0,65h-1.6M0,72.5h-1.6M0,76.5h-1.6M0,80h-1.6M0,83.3h-1.6M20.8,88.0v2.8M31.7,88.0v2.8M57,88.0v2.8M78.5,88.0v2.8M10,88.0v2.8M39.32,88.0v1.6M43.77,88.0v1.6M46.93,88.0v1.6M49.38,88.0v1.6M51.39,88.0v1.6M53.08,88.0v1.6M54.55,88.0v1.6M55.84,88.0v1.6M63.47,88.0v1.6M67.26,88.0v1.6M69.94,88.0v1.6M72.03,88.0v1.6M73.73,88.0v1.6M75.17,88.0v1.6M76.42,88.0v1.6M77.52,88.0v1.6M24.5,88.0v1.6M28,88.0v1.6M17,88.0v1.6M13.5,88.0v1.6M10,88.0v1.6M6.5,88.0v1.6M3.5,88.0v1.6M83.5,88.0v1.6M86,88.0v1.6" stroke="#111" stroke-width="0.8" fill="none"/><text x="2.6" y="7.8" font-family="Liberation Sans" font-size="7.3" fill="#5565b0">0</text><text x="85.6" y="7.8" font-family="Liberation Sans" font-size="7.3" fill="#5565b0" text-anchor="end">6.71</text><text x="2.6" y="85.3" font-family="Liberation Sans" font-size="7.3" fill="#5565b0">68.3</text><text x="85.6" y="85.3" font-family="Liberation Sans" font-size="7.3" fill="#5565b0" text-anchor="end">25</text><text x="-9.0" y="11.6" font-family="Liberation Sans" font-size="8.2" fill="#1a1a1a" text-anchor="end">10</text><text x="-8.9" y="8.3" font-family="Liberation Sans" font-size="6" fill="#1a1a1a">5</text><text x="-9.0" y="31.6" font-family="Liberation Sans" font-size="8.2" fill="#1a1a1a" text-anchor="end">10</text><text x="-8.9" y="28.3" font-family="Liberation Sans" font-size="6" fill="#1a1a1a">4</text><text x="-9.0" y="55.1" font-family="Liberation Sans" font-size="8.2" fill="#1a1a1a" text-anchor="end">10</text><text x="-8.9" y="51.8" font-family="Liberation Sans" font-size="6" fill="#1a1a1a">3</text><text x="-5.8" y="71.7" font-family="Liberation Sans" font-size="8.2" fill="#1a1a1a" text-anchor="end">0</text><text x="20.8" y="100.3" font-family="Liberation Sans" font-size="8.2" fill="#1a1a1a" text-anchor="middle">0</text><text x="31.4" y="100.3" font-family="Liberation Sans" font-size="8.2" fill="#1a1a1a" text-anchor="middle">10</text><text x="36" y="97.1" font-family="Liberation Sans" font-size="6" fill="#1a1a1a">3</text><text x="56.7" y="100.3" font-family="Liberation Sans" font-size="8.2" fill="#1a1a1a" text-anchor="middle">10</text><text x="61.3" y="97.1" font-family="Liberation Sans" font-size="6" fill="#1a1a1a">4</text><text x="78.2" y="100.3" font-family="Liberation Sans" font-size="8.2" fill="#1a1a1a" text-anchor="middle">10</text><text x="82.8" y="97.1" font-family="Liberation Sans" font-size="6" fill="#1a1a1a">5</text></g><clipPath id="cp33"><rect x="0.6" y="0.6" width="86.8" height="86.8"/></clipPath><g transform="translate(425.5,403.6)"><g clip-path="url(#cp33)"><path transform="scale(0.1)" d="M210 622l20 -1 20 3 48 19 54 10 48 17 15 0 43 -4 24 0 26 5 7 4 3 5 -3 5 -5 3 -25 5 -25 1 -42 -4 -16 1 -44 18 -58 12 -48 19 -22 3 -20 -1 -22 -8 -19 -14 -12 -18 -4 -20 4 -20 11 -17 17 -13 25 -10zM206 628l26 -3 25 6 43 22 40 9 16 6 13 10 0 7 -7 7 -10 6 -52 13 -32 18 -18 7 -28 3 -24 -5 -18 -10 -13 -14 -8 -18 -1 -14 5 -18 9 -13 18 -13 16 -6zM452 678l20 -2 10 2 3 2 -7 4 -16 0 -10 -2 -2 -2 2 -2zM207 628l25 -3 26 6 42 22 40 9 14 6 13 10 0 7 -7 7 -9 6 -51 13 -32 18 -18 7 -25 3 -25 -5 -18 -8 -13 -14 -8 -14 -3 -18 3 -15 11 -17 16 -13 19 -7zM456 678l16 -2 7 2 3 2 -4 3 -16 1 -9 -4 3 -2zM213 635l19 -1 20 5 18 11 14 18 4 14 -4 16 -12 14 -17 12 -23 6 -24 -2 -21 -10 -8 -8 -6 -10 -4 -10 0 -10 1 -10 5 -10 15 -16 10 -5 13 -4zM211 642l17 -1 17 3 15 8 11 13 5 15 -2 12 -7 13 -15 12 -20 6 -20 -1 -17 -8 -13 -14 -5 -18 4 -17 11 -14 19 -9zM220 645l15 1 15 5 13 11 6 13 0 15 -7 12 -12 11 -15 5 -17 1 -18 -7 -11 -10 -7 -14 1 -16 7 -12 15 -11 15 -4zM212 650l13 -2 15 2 12 7 8 8 5 10 0 13 -6 12 -9 9 -15 6 -17 0 -18 -7 -10 -10 -4 -13 2 -15 10 -12 14 -8zM213 652l15 -1 12 2 10 6 8 9 4 10 -1 12 -6 10 -7 7 -16 6 -14 0 -16 -6 -9 -9 -4 -13 2 -15 9 -11 13 -7zM213 655l12 -2 10 1 12 6 8 8 4 10 0 10 -5 10 -6 6 -13 6 -15 1 -12 -4 -11 -9 -6 -13 2 -13 7 -10 13 -7zM212 658l10 -3 13 1 10 5 7 7 4 7 1 10 -4 10 -7 7 -11 6 -13 1 -12 -4 -10 -7 -6 -10 1 -13 6 -10 11 -7zM220 658l10 -1 10 4 9 7 4 7 1 10 -2 7 -7 8 -10 5 -13 2 -12 -4 -8 -5 -5 -10 -1 -10 5 -10 9 -7 10 -3zM214 660l11 -2 10 1 7 4 8 7 3 8 0 7 -2 7 -7 8 -9 5 -13 1 -12 -4 -9 -7 -4 -10 1 -10 7 -10 9 -5zM217 660l8 -1 10 1 9 5 6 7 2 8 0 8 -4 7 -8 6 -10 4 -12 -1 -10 -4 -7 -8 -3 -10 2 -10 8 -8 9 -4zM214 662l8 -1 10 0 8 4 6 5 4 8 0 7 -3 7 -5 6 -10 5 -10 0 -10 -2 -7 -6 -4 -7 0 -10 4 -9 9 -7zM215 662l7 -1 10 1 8 3 6 5 4 8 0 7 -3 7 -5 6 -10 4 -10 1 -10 -3 -7 -5 -4 -7 0 -10 4 -9 10 -7zM222 662l16 3 5 5 5 8 0 7 -3 7 -5 5 -8 4 -10 1 -7 -2 -7 -5 -5 -7 -1 -8 3 -8 7 -6 10 -4zM215 665l15 -2 13 7 3 5 2 7 -3 8 -3 5 -7 4 -10 2 -10 -2 -7 -5 -5 -9 0 -7 5 -8 7 -5zM218 665l14 0 11 7 3 6 0 7 -3 7 -5 5 -8 3 -10 0 -8 -4 -6 -6 -2 -8 2 -7 4 -6 8 -4zM216 668l14 -2 10 6 4 10 -4 10 -8 5 -7 1 -7 -1 -8 -5 -3 -4 -1 -8 3 -8 7 -4zM216 668l14 -2 10 6 4 10 -4 10 -8 5 -7 1 -7 -1 -8 -5 -3 -4 -1 -8 4 -8 6 -4zM222 668l13 2 7 8 -1 10 -9 7 -7 2 -7 -2 -9 -7 -1 -8 2 -5 5 -5 7 -2zM217 670l11 -2 10 5 3 9 -3 9 -6 3 -7 2 -7 -2 -6 -3 -3 -6 0 -5 2 -5 6 -5zM220 670l10 0 8 5 2 5 0 5 -5 7 -5 2 -8 1 -10 -6 -2 -7 1 -4 9 -8zM218 672l10 -1 8 4 3 7 -4 8 -10 3 -10 -3 -3 -5 0 -5 6 -8zM219 672l9 -1 7 4 3 7 -4 8 -9 3 -10 -4 -2 -9 6 -8zM218 675l7 -2 7 2 4 5 -2 8 -9 3 -7 -3 -4 -6 4 -7zM219 675l6 -2 7 3 3 6 -2 6 -8 3 -7 -3 -3 -8 4 -5zM219 678l6 -3 5 2 3 3 -1 5 -4 4 -8 -1 -3 -6 2 -4zM220 678l5 -2 5 1 2 3 -1 5 -3 3 -6 0 -4 -6 2 -4zM225 678l5 2 0 2 -5 4 -5 -4 0 -2 5 -2z" fill="none" stroke="#000" stroke-width="5.5" stroke-linejoin="round"/><circle cx="62.7" cy="67.0" r="0.4" fill="#999"/><circle cx="61.7" cy="66.3" r="0.4" fill="#999"/><circle cx="62.9" cy="67.0" r="0.4" fill="#999"/><circle cx="67.5" cy="65.8" r="0.4" fill="#999"/><circle cx="75.0" cy="63.1" r="0.4" fill="#999"/><circle cx="62.3" cy="68.1" r="0.4" fill="#999"/><circle cx="57.6" cy="48.4" r="0.4" fill="#999"/><circle cx="57.9" cy="51.4" r="0.4" fill="#999"/></g><line x1="31.7" y1="0.5" x2="31.7" y2="87.5" stroke="#4a5aa8" stroke-width="1"/><line x1="0.5" y1="59" x2="87.5" y2="59" stroke="#4a5aa8" stroke-width="1"/><rect x="0.6" y="0.6" width="86.8" height="86.8" fill="none" stroke="#000" stroke-width="1.2"/><path d="M0,9h-2.8M0,29h-2.8M0,52.5h-2.8M0,68.8h-2.8M0,83.3h-2.8M0,22.98h-1.6M0,19.46h-1.6M0,16.96h-1.6M0,15.02h-1.6M0,13.44h-1.6M0,12.1h-1.6M0,10.94h-1.6M0,9.92h-1.6M0,45.43h-1.6M0,41.29h-1.6M0,38.35h-1.6M0,36.07h-1.6M0,34.21h-1.6M0,32.64h-1.6M0,31.28h-1.6M0,30.08h-1.6M0,57h-1.6M0,61h-1.6M0,65h-1.6M0,72.5h-1.6M0,76.5h-1.6M0,80h-1.6M0,83.3h-1.6M20.8,88.0v2.8M31.7,88.0v2.8M57,88.0v2.8M78.5,88.0v2.8M10,88.0v2.8M39.32,88.0v1.6M43.77,88.0v1.6M46.93,88.0v1.6M49.38,88.0v1.6M51.39,88.0v1.6M53.08,88.0v1.6M54.55,88.0v1.6M55.84,88.0v1.6M63.47,88.0v1.6M67.26,88.0v1.6M69.94,88.0v1.6M72.03,88.0v1.6M73.73,88.0v1.6M75.17,88.0v1.6M76.42,88.0v1.6M77.52,88.0v1.6M24.5,88.0v1.6M28,88.0v1.6M17,88.0v1.6M13.5,88.0v1.6M10,88.0v1.6M6.5,88.0v1.6M3.5,88.0v1.6M83.5,88.0v1.6M86,88.0v1.6" stroke="#111" stroke-width="0.8" fill="none"/><text x="2.6" y="7.8" font-family="Liberation Sans" font-size="7.3" fill="#5565b0">0</text><text x="85.6" y="7.8" font-family="Liberation Sans" font-size="7.3" fill="#5565b0" text-anchor="end">0.07</text><text x="2.6" y="85.3" font-family="Liberation Sans" font-size="7.3" fill="#5565b0">93.4</text><text x="85.6" y="85.3" font-family="Liberation Sans" font-size="7.3" fill="#5565b0" text-anchor="end">6.51</text><text x="-9.0" y="11.6" font-family="Liberation Sans" font-size="8.2" fill="#1a1a1a" text-anchor="end">10</text><text x="-8.9" y="8.3" font-family="Liberation Sans" font-size="6" fill="#1a1a1a">5</text><text x="-9.0" y="31.6" font-family="Liberation Sans" font-size="8.2" fill="#1a1a1a" text-anchor="end">10</text><text x="-8.9" y="28.3" font-family="Liberation Sans" font-size="6" fill="#1a1a1a">4</text><text x="-9.0" y="55.1" font-family="Liberation Sans" font-size="8.2" fill="#1a1a1a" text-anchor="end">10</text><text x="-8.9" y="51.8" font-family="Liberation Sans" font-size="6" fill="#1a1a1a">3</text><text x="-5.8" y="71.7" font-family="Liberation Sans" font-size="8.2" fill="#1a1a1a" text-anchor="end">0</text><text x="20.8" y="100.3" font-family="Liberation Sans" font-size="8.2" fill="#1a1a1a" text-anchor="middle">0</text><text x="31.4" y="100.3" font-family="Liberation Sans" font-size="8.2" fill="#1a1a1a" text-anchor="middle">10</text><text x="36" y="97.1" font-family="Liberation Sans" font-size="6" fill="#1a1a1a">3</text><text x="56.7" y="100.3" font-family="Liberation Sans" font-size="8.2" fill="#1a1a1a" text-anchor="middle">10</text><text x="61.3" y="97.1" font-family="Liberation Sans" font-size="6" fill="#1a1a1a">4</text><text x="78.2" y="100.3" font-family="Liberation Sans" font-size="8.2" fill="#1a1a1a" text-anchor="middle">10</text><text x="82.8" y="97.1" font-family="Liberation Sans" font-size="6" fill="#1a1a1a">5</text></g><text transform="translate(26.1,88.2) rotate(-90)" x="-13.25" y="0" font-family="Liberation Sans" font-size="9.4" fill="#1a1a1a" stroke="#1a1a1a" stroke-width="0.3" textLength="26.5" lengthAdjust="spacingAndGlyphs">wild-type</text><text transform="translate(26.1,199.9) rotate(-90)" x="-8.75" y="0" font-family="Liberation Sans" font-size="9.4" fill="#1a1a1a" stroke="#1a1a1a" stroke-width="0.3" textLength="17.5" lengthAdjust="spacingAndGlyphs">C481S</text><text transform="translate(26.1,336.6) rotate(-90)" x="-13.25" y="0" font-family="Liberation Sans" font-size="9.4" fill="#1a1a1a" stroke="#1a1a1a" stroke-width="0.3" textLength="26.5" lengthAdjust="spacingAndGlyphs">wild-type</text><text transform="translate(26.1,447.6) rotate(-90)" x="-8.75" y="0" font-family="Liberation Sans" font-size="9.4" fill="#1a1a1a" stroke="#1a1a1a" stroke-width="0.3" textLength="17.5" lengthAdjust="spacingAndGlyphs">C481S</text><path d="M 44.4,54 L 44.4,509.1 L 507,509.1" fill="none" stroke="#333" stroke-width="1"/><path d="M 44.4,47 L 47.4,54.5 L 44.4,53 L 41.4,54.5 Z" fill="#000"/><path d="M 513,509.1 L 505.5,506.1 L 507,509.1 L 505.5,512.1 Z" fill="#000"/><text transform="translate(38.8,278.2) rotate(-90)" x="-7.5" y="0" font-family="Liberation Sans" font-size="8.5" fill="#1a1a1a" textLength="15" lengthAdjust="spacingAndGlyphs">CD25</text><text x="271" y="520.4" font-family="Liberation Sans" font-size="8.5" fill="#1a1a1a" textLength="15.2" lengthAdjust="spacingAndGlyphs">CD69</text><text x="45.0" y="533.3" font-family="Liberation Sans" font-size="7.85" fill="#1a1a1a">Spleen GR1/MAC1/TER119/NK1.1<tspan font-size="5" dy="-3.6">low/-</tspan><tspan dy="3.6"> Annexin V</tspan><tspan font-size="5" dy="-3.6">-</tspan><tspan dy="3.6"> LIVE/DEAD aqua</tspan><tspan font-size="5" dy="-3.6">-</tspan><tspan dy="3.6"> CD19</tspan><tspan font-size="5" dy="-3.6">-</tspan><tspan dy="3.6"> CD</tspan><tspan font-size="6" dy="-3.6">+</tspan></text><rect x="73.2" y="648.52" width="7.3" height="0.68" fill="#b0002a"/><rect x="89" y="648.69" width="7" height="0.51" fill="#2b4a86"/><rect x="113.7" y="592.77" width="10.5" height="56.43" fill="#b0002a"/><path d="M118.95,592.77V584.39M116.15,584.39H121.75" stroke="#222" stroke-width="0.9" fill="none"/><rect x="129.7" y="610.21" width="10.4" height="38.99" fill="#2b4a86"/><path d="M134.9,610.21V606.62M132.1,606.62H137.7" stroke="#222" stroke-width="0.9" fill="none"/><rect x="155.8" y="628.25" width="10.8" height="20.95" fill="#b0002a"/><path d="M161.2,628.25V625.94M158.4,625.94H164" stroke="#222" stroke-width="0.9" fill="none"/><rect x="171.9" y="637.49" width="10.9" height="11.71" fill="#2b4a86"/><path d="M177.35,637.49V636.38M174.55,636.38H180.15" stroke="#222" stroke-width="0.9" fill="none"/><rect x="198.5" y="647.92" width="10.3" height="1.28" fill="#b0002a"/><path d="M203.65,647.92V646.55M200.85,646.55H206.45" stroke="#222" stroke-width="0.9" fill="none"/><rect x="215.8" y="648.86" width="8" height="0.34" fill="#2b4a86"/><path d="M65.9,649.2V561.5" stroke="#555" stroke-width="1.2" fill="none"/><path d="M63.400000000000006,563.7H65.9" stroke="#333" stroke-width="0.8"/><text x="60.7" y="566.5" font-family="Liberation Sans" font-size="7.8" fill="#1a1a1a" text-anchor="end">100</text><path d="M63.400000000000006,585.08H65.9" stroke="#333" stroke-width="0.8"/><text x="60.7" y="587.88" font-family="Liberation Sans" font-size="7.8" fill="#1a1a1a" text-anchor="end">75</text><path d="M63.400000000000006,606.45H65.9" stroke="#333" stroke-width="0.8"/><text x="60.7" y="609.25" font-family="Liberation Sans" font-size="7.8" fill="#1a1a1a" text-anchor="end">50</text><path d="M63.400000000000006,627.83H65.9" stroke="#333" stroke-width="0.8"/><text x="60.7" y="630.62" font-family="Liberation Sans" font-size="7.8" fill="#1a1a1a" text-anchor="end">25</text><path d="M63.400000000000006,649.2H65.9" stroke="#333" stroke-width="0.8"/><text x="60.7" y="652" font-family="Liberation Sans" font-size="7.8" fill="#1a1a1a" text-anchor="end">0</text><rect x="299" y="648.52" width="7.5" height="0.68" fill="#b0002a"/><path d="M302.75,648.52V648.09M299.95,648.09H305.55" stroke="#222" stroke-width="0.9" fill="none"/><rect x="315" y="648.86" width="7" height="0.34" fill="#2b4a86"/><rect x="339.2" y="615.43" width="10.2" height="33.77" fill="#b0002a"/><path d="M344.3,615.43V610.98M341.5,610.98H347.1" stroke="#222" stroke-width="0.9" fill="none"/><rect x="355.2" y="622.7" width="10.2" height="26.5" fill="#2b4a86"/><path d="M360.3,622.7V611.15M357.5,611.15H363.1" stroke="#222" stroke-width="0.9" fill="none"/><rect x="381.1" y="636.2" width="10.6" height="13" fill="#b0002a"/><path d="M386.4,636.2V631.59M383.6,631.59H389.2" stroke="#222" stroke-width="0.9" fill="none"/><rect x="397.2" y="642.1" width="10.4" height="7.1" fill="#2b4a86"/><path d="M402.4,642.1V640.48M399.6,640.48H405.2" stroke="#222" stroke-width="0.9" fill="none"/><rect x="423.5" y="648.52" width="10" height="0.68" fill="#b0002a"/><path d="M428.5,648.52V648.09M425.7,648.09H431.3" stroke="#222" stroke-width="0.9" fill="none"/><rect x="439" y="648.94" width="9.5" height="0.26" fill="#2b4a86"/><path d="M291.5,649.2V561.5" stroke="#555" stroke-width="1.2" fill="none"/><path d="M289.0,563.7H291.5" stroke="#333" stroke-width="0.8"/><text x="286.3" y="566.5" font-family="Liberation Sans" font-size="7.8" fill="#1a1a1a" text-anchor="end">100</text><path d="M289.0,585.08H291.5" stroke="#333" stroke-width="0.8"/><text x="286.3" y="587.88" font-family="Liberation Sans" font-size="7.8" fill="#1a1a1a" text-anchor="end">75</text><path d="M289.0,606.45H291.5" stroke="#333" stroke-width="0.8"/><text x="286.3" y="609.25" font-family="Liberation Sans" font-size="7.8" fill="#1a1a1a" text-anchor="end">50</text><path d="M289.0,627.83H291.5" stroke="#333" stroke-width="0.8"/><text x="286.3" y="630.62" font-family="Liberation Sans" font-size="7.8" fill="#1a1a1a" text-anchor="end">25</text><path d="M289.0,649.2H291.5" stroke="#333" stroke-width="0.8"/><text x="286.3" y="652" font-family="Liberation Sans" font-size="7.8" fill="#1a1a1a" text-anchor="end">0</text><rect x="65.5" y="648.6" width="165" height="2.8" fill="#8a8a8a"/><rect x="291.2" y="648.6" width="163.5" height="2.8" fill="#8a8a8a"/><path d="M84.3,651.4v2.6" stroke="#333" stroke-width="0.8"/><path d="M126.7,651.4v2.6" stroke="#333" stroke-width="0.8"/><path d="M169.2,651.4v2.6" stroke="#333" stroke-width="0.8"/><path d="M211.6,651.4v2.6" stroke="#333" stroke-width="0.8"/><path d="M310.4,651.4v2.6" stroke="#333" stroke-width="0.8"/><path d="M352.7,651.4v2.6" stroke="#333" stroke-width="0.8"/><path d="M394.7,651.4v2.6" stroke="#333" stroke-width="0.8"/><path d="M436.9,651.4v2.6" stroke="#333" stroke-width="0.8"/><rect x="83.7" y="660.7" width="1.2" height="0.9" fill="#444"/><rect x="83.7" y="672" width="1.2" height="0.9" fill="#444"/><path d="M124.4,661.4H129.0M126.7,659.1V663.7" stroke="#333" stroke-width="0.8" fill="none"/><rect x="126.10000000000001" y="672" width="1.2" height="0.9" fill="#444"/><path d="M166.9,661.4H171.5M169.2,659.1V663.7" stroke="#333" stroke-width="0.8" fill="none"/><text x="169.2" y="675.4" font-family="Liberation Sans" font-size="7.2" fill="#1a1a1a" text-anchor="middle">0.25</text><path d="M209.3,661.4H213.9M211.6,659.1V663.7" stroke="#333" stroke-width="0.8" fill="none"/><text x="211.6" y="675.4" font-family="Liberation Sans" font-size="7.2" fill="#1a1a1a" text-anchor="middle">1.00</text><rect x="309.79999999999995" y="660.7" width="1.2" height="0.9" fill="#444"/><rect x="309.79999999999995" y="672" width="1.2" height="0.9" fill="#444"/><path d="M350.4,661.4H355.0M352.7,659.1V663.7" stroke="#333" stroke-width="0.8" fill="none"/><rect x="352.09999999999997" y="672" width="1.2" height="0.9" fill="#444"/><path d="M392.4,661.4H397.0M394.7,659.1V663.7" stroke="#333" stroke-width="0.8" fill="none"/><text x="394.7" y="675.4" font-family="Liberation Sans" font-size="7.2" fill="#1a1a1a" text-anchor="middle">0.25</text><path d="M434.6,661.4H439.2M436.9,659.1V663.7" stroke="#333" stroke-width="0.8" fill="none"/><text x="436.9" y="675.4" font-family="Liberation Sans" font-size="7.2" fill="#1a1a1a" text-anchor="middle">1.00</text><text x="25.3" y="663.9" font-family="Liberation Sans" font-size="7.5" fill="#1a1a1a" textLength="33.5" lengthAdjust="spacingAndGlyphs">Anti-CD3ε</text><text x="34" y="675.3" font-family="Liberation Sans" font-size="7.5" fill="#444" textLength="25.6" lengthAdjust="spacingAndGlyphs">Ibrutinib</text><text x="251.10000000000002" y="663.9" font-family="Liberation Sans" font-size="7.5" fill="#1a1a1a" textLength="33.5" lengthAdjust="spacingAndGlyphs">Anti-CD3ε</text><text x="259.8" y="675.3" font-family="Liberation Sans" font-size="7.5" fill="#444" textLength="25.6" lengthAdjust="spacingAndGlyphs">Ibrutinib</text><rect x="193.4" y="562" width="6.2" height="3.6" fill="#b0002a"/><rect x="193.4" y="573" width="6.2" height="3.6" fill="#2b4a86"/><text x="202.6" y="566.6" font-family="Liberation Sans" font-size="7" fill="#1a1a1a">wild-type</text><text x="202.6" y="577.4" font-family="Liberation Sans" font-size="7" fill="#1a1a1a">C481S</text><rect x="418.4" y="562" width="6.2" height="3.6" fill="#b0002a"/><rect x="418.4" y="573" width="6.2" height="3.6" fill="#2b4a86"/><text x="427.6" y="566.6" font-family="Liberation Sans" font-size="7" fill="#1a1a1a">wild-type</text><text x="427.6" y="577.4" font-family="Liberation Sans" font-size="7" fill="#1a1a1a">C481S</text><text transform="translate(30.5,605.6) rotate(-90)" text-anchor="middle" font-family="Liberation Sans" font-size="9.6" fill="#1a1a1a" stroke="#1a1a1a" stroke-width="0.2" textLength="82.5" lengthAdjust="spacingAndGlyphs">CD25<tspan font-size="6" dy="-3.6">+</tspan><tspan dy="3.6">CD69</tspan><tspan font-size="6" dy="-3.6">+</tspan><tspan dy="3.6"> freq of live non</tspan></text><text transform="translate(41.3,605.9) rotate(-90)" text-anchor="middle" font-family="Liberation Sans" font-size="9.6" fill="#1a1a1a" stroke="#1a1a1a" stroke-width="0.2" textLength="63" lengthAdjust="spacingAndGlyphs">apoptotic CD4<tspan font-size="6" dy="-3.6">+</tspan><tspan dy="3.6"> T-cells</tspan></text><text transform="translate(255.8,607) rotate(-90)" text-anchor="middle" font-family="Liberation Sans" font-size="9.6" fill="#1a1a1a" stroke="#1a1a1a" stroke-width="0.2" textLength="82.5" lengthAdjust="spacingAndGlyphs">CD25<tspan font-size="6" dy="-3.6">+</tspan><tspan dy="3.6">CD69</tspan><tspan font-size="6" dy="-3.6">+</tspan><tspan dy="3.6"> freq of live non</tspan></text><text transform="translate(266.6,608.2) rotate(-90)" text-anchor="middle" font-family="Liberation Sans" font-size="9.6" fill="#1a1a1a" stroke="#1a1a1a" stroke-width="0.2" textLength="63" lengthAdjust="spacingAndGlyphs">apoptotic CD8<tspan font-size="6" dy="-3.6">+</tspan><tspan dy="3.6"> T-cells</tspan></text></svg></body></html>
